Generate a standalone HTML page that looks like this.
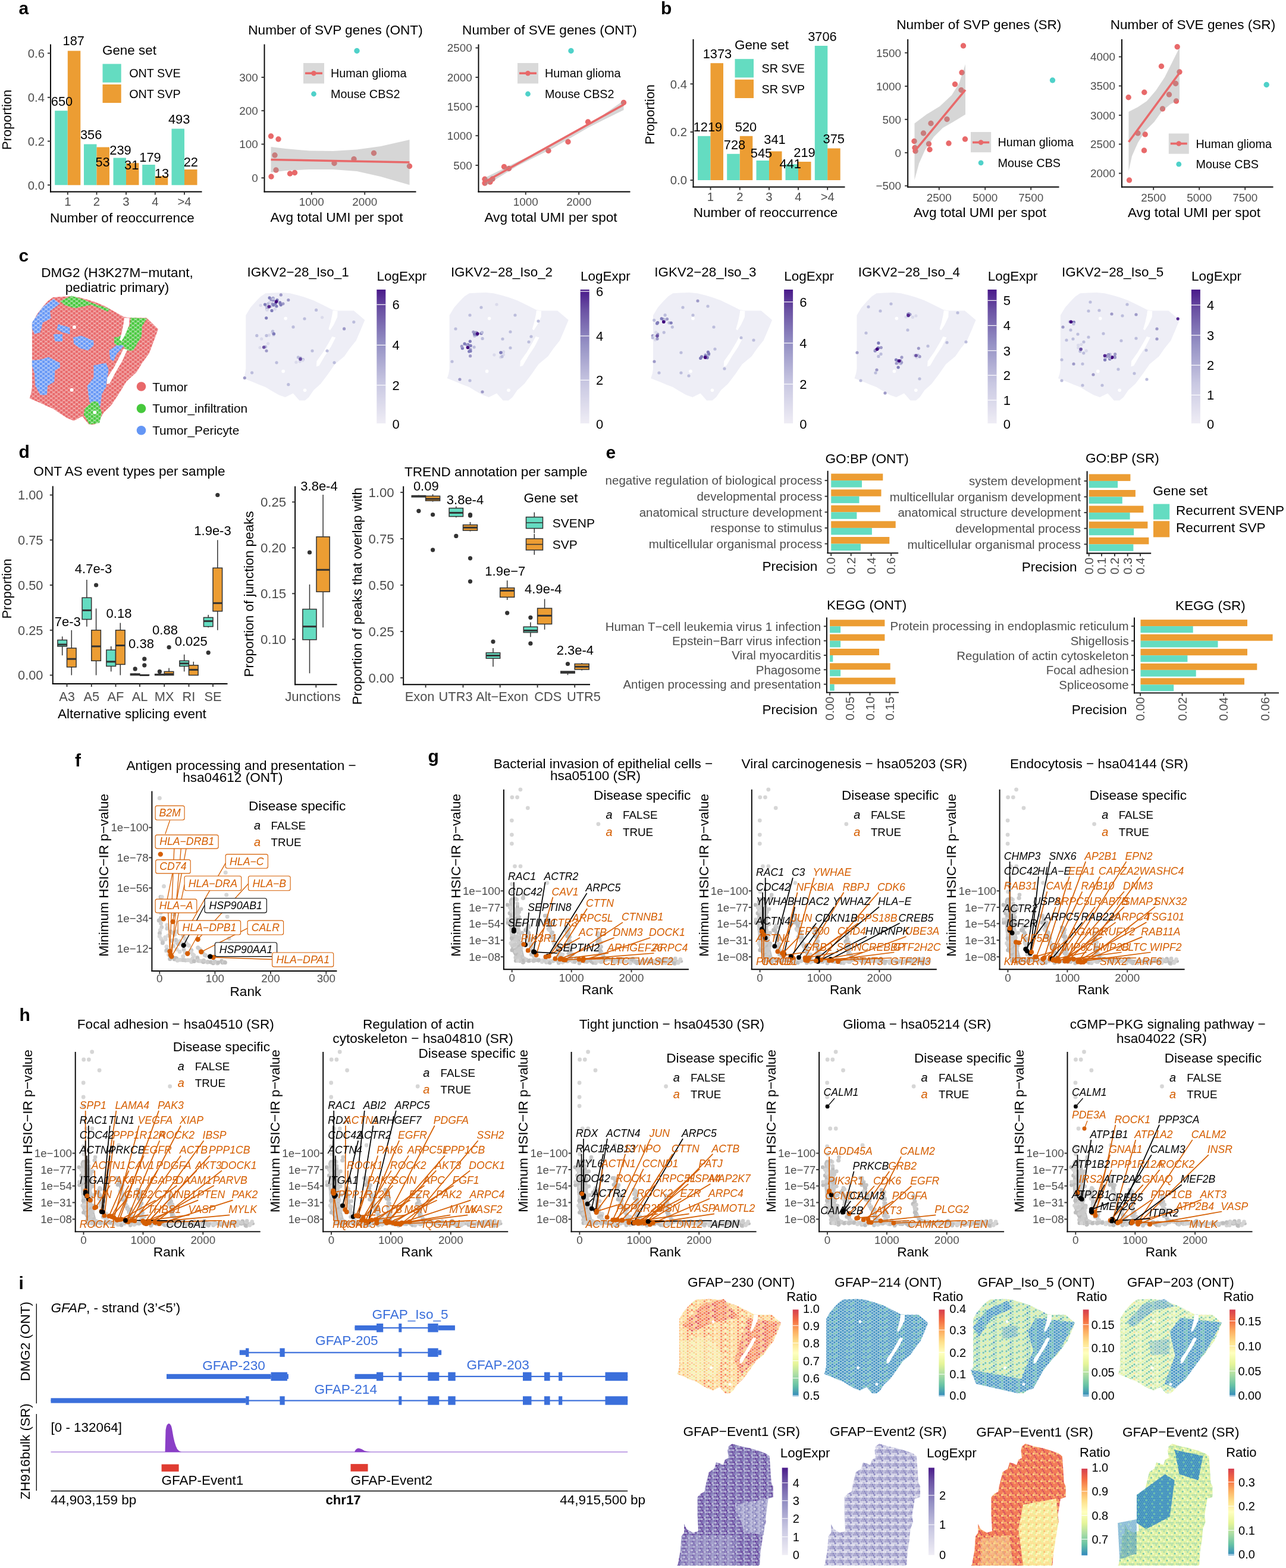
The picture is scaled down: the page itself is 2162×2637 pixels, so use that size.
<!DOCTYPE html><html><head><meta charset="utf-8"><title>Figure</title><style>html,body{margin:0;padding:0;background:#fff;}svg{display:block;}</style></head><body><svg width="2162" height="2637" viewBox="0 0 2162 2637" font-family="'Liberation Sans', Arial, Helvetica, sans-serif"><defs><pattern id="pR" width="8.600" height="6.800" patternUnits="userSpaceOnUse"><rect width="8.600" height="6.800" fill="#F3AEAE"/><circle cx="0.000" cy="0.000" r="2.35" fill="#E8686A"/><circle cx="8.600" cy="0.000" r="2.35" fill="#E8686A"/><circle cx="0.000" cy="6.800" r="2.35" fill="#E8686A"/><circle cx="8.600" cy="6.800" r="2.35" fill="#E8686A"/><circle cx="4.300" cy="3.400" r="2.35" fill="#E8686A"/></pattern><pattern id="pG" width="8.600" height="6.800" patternUnits="userSpaceOnUse"><rect width="8.600" height="6.800" fill="#A9E3A4"/><circle cx="0.000" cy="0.000" r="2.35" fill="#46C83C"/><circle cx="8.600" cy="0.000" r="2.35" fill="#46C83C"/><circle cx="0.000" cy="6.800" r="2.35" fill="#46C83C"/><circle cx="8.600" cy="6.800" r="2.35" fill="#46C83C"/><circle cx="4.300" cy="3.400" r="2.35" fill="#46C83C"/></pattern><pattern id="pB" width="8.600" height="6.800" patternUnits="userSpaceOnUse"><rect width="8.600" height="6.800" fill="#B5CCFA"/><circle cx="0.000" cy="0.000" r="2.35" fill="#6496F5"/><circle cx="8.600" cy="0.000" r="2.35" fill="#6496F5"/><circle cx="0.000" cy="6.800" r="2.35" fill="#6496F5"/><circle cx="8.600" cy="6.800" r="2.35" fill="#6496F5"/><circle cx="4.300" cy="3.400" r="2.35" fill="#6496F5"/></pattern><linearGradient id="gP" x1="0" y1="1" x2="0" y2="0"><stop offset="0" stop-color="#EFEDF5"/><stop offset="0.3" stop-color="#C9C8E2"/><stop offset="0.6" stop-color="#9490C4"/><stop offset="0.85" stop-color="#6A51A3"/><stop offset="1" stop-color="#4A1A8A"/></linearGradient><g id="srcloud"><path d="M14 186 L14 230 L17 268 L27 287" fill="none" stroke="#BEBEBE" stroke-width="9" stroke-linecap="round" stroke-linejoin="round"/><path d="M23 196 L25 255 L33 287" fill="none" stroke="#BEBEBE" stroke-width="6" stroke-linecap="round" stroke-linejoin="round"/><path d="M39 232 L45 265 L54 287" fill="none" stroke="#BEBEBE" stroke-width="5" stroke-linecap="round" stroke-linejoin="round"/><path d="M72 212 L84 258 L102 289" fill="none" stroke="#BEBEBE" stroke-width="5" stroke-linecap="round" stroke-linejoin="round"/><path d="M107 232 L110 262 L114 285" fill="none" stroke="#BEBEBE" stroke-width="4" stroke-linecap="round" stroke-linejoin="round"/><path d="M159 241 L162 268 L170 284 L190 288.5 L299 289" fill="none" stroke="#BEBEBE" stroke-width="5" stroke-linecap="round" stroke-linejoin="round"/><path d="M30 288 L165 288.5" fill="none" stroke="#BEBEBE" stroke-width="4" stroke-linecap="round" stroke-linejoin="round"/><circle cx="12.1" cy="188.4" r="3.3" fill="#BDBDBD"/><circle cx="15.1" cy="191.6" r="3.3" fill="#C4C4C4"/><circle cx="14.2" cy="188.9" r="3.3" fill="#CDCDCD"/><circle cx="10.1" cy="197.2" r="3.3" fill="#C4C4C4"/><circle cx="6.1" cy="194" r="3.3" fill="#BDBDBD"/><circle cx="10.4" cy="198.4" r="3.3" fill="#D4D4D4"/><circle cx="12.2" cy="198.8" r="3.3" fill="#D4D4D4"/><circle cx="16.7" cy="200.6" r="3.3" fill="#CDCDCD"/><circle cx="10" cy="208.1" r="3.3" fill="#BDBDBD"/><circle cx="16.9" cy="211.1" r="3.3" fill="#CDCDCD"/><circle cx="15.8" cy="206.6" r="3.3" fill="#BDBDBD"/><circle cx="18" cy="210" r="3.3" fill="#C4C4C4"/><circle cx="14.6" cy="209.7" r="3.3" fill="#BDBDBD"/><circle cx="11.8" cy="217.3" r="3.3" fill="#CDCDCD"/><circle cx="16.3" cy="218.1" r="3.3" fill="#CDCDCD"/><circle cx="18.2" cy="219.9" r="3.3" fill="#D4D4D4"/><circle cx="6.8" cy="224.1" r="3.3" fill="#BDBDBD"/><circle cx="6.6" cy="218.8" r="3.3" fill="#D4D4D4"/><circle cx="12.5" cy="228.6" r="3.3" fill="#C4C4C4"/><circle cx="15.8" cy="228" r="3.3" fill="#D4D4D4"/><circle cx="15.3" cy="226.7" r="3.3" fill="#D4D4D4"/><circle cx="22.5" cy="232.5" r="3.3" fill="#BDBDBD"/><circle cx="13.9" cy="234.8" r="3.3" fill="#C4C4C4"/><circle cx="18.5" cy="238.3" r="3.3" fill="#BDBDBD"/><circle cx="15.4" cy="238.7" r="3.3" fill="#BDBDBD"/><circle cx="13.7" cy="242.8" r="3.3" fill="#D4D4D4"/><circle cx="15" cy="244.7" r="3.3" fill="#CDCDCD"/><circle cx="13.3" cy="250.2" r="3.3" fill="#BDBDBD"/><circle cx="17.3" cy="254.5" r="3.3" fill="#D4D4D4"/><circle cx="17.9" cy="251.8" r="3.3" fill="#BDBDBD"/><circle cx="15.7" cy="256.6" r="3.3" fill="#D4D4D4"/><circle cx="16.3" cy="252.1" r="3.3" fill="#CDCDCD"/><circle cx="13.5" cy="250.2" r="3.3" fill="#BDBDBD"/><circle cx="21" cy="264.8" r="3.3" fill="#D4D4D4"/><circle cx="11.9" cy="258.6" r="3.3" fill="#D4D4D4"/><circle cx="14" cy="261.9" r="3.3" fill="#CDCDCD"/><circle cx="18.4" cy="267.4" r="3.3" fill="#D4D4D4"/><circle cx="18.2" cy="270.4" r="3.3" fill="#BDBDBD"/><circle cx="19.7" cy="272.3" r="3.3" fill="#CDCDCD"/><circle cx="13.8" cy="270.2" r="3.3" fill="#BDBDBD"/><circle cx="22.3" cy="268" r="3.3" fill="#C4C4C4"/><circle cx="26.1" cy="280.6" r="3.3" fill="#BDBDBD"/><circle cx="22.9" cy="279.4" r="3.3" fill="#BDBDBD"/><circle cx="22.3" cy="284.6" r="3.3" fill="#CDCDCD"/><circle cx="26.7" cy="282.8" r="3.3" fill="#CDCDCD"/><circle cx="20.3" cy="287.9" r="3.3" fill="#BDBDBD"/><circle cx="23.6" cy="288.1" r="3.3" fill="#D4D4D4"/><circle cx="22.8" cy="192.1" r="3.3" fill="#CDCDCD"/><circle cx="23.7" cy="204.3" r="3.3" fill="#D4D4D4"/><circle cx="21.8" cy="203.7" r="3.3" fill="#C4C4C4"/><circle cx="25.6" cy="205.8" r="3.3" fill="#D4D4D4"/><circle cx="25.5" cy="206.1" r="3.3" fill="#CDCDCD"/><circle cx="21.5" cy="204.7" r="3.3" fill="#CDCDCD"/><circle cx="25.7" cy="214.4" r="3.3" fill="#C4C4C4"/><circle cx="22" cy="213.4" r="3.3" fill="#D4D4D4"/><circle cx="23.6" cy="211" r="3.3" fill="#CDCDCD"/><circle cx="20.7" cy="217.9" r="3.3" fill="#BDBDBD"/><circle cx="21.2" cy="217.1" r="3.3" fill="#BDBDBD"/><circle cx="24.3" cy="217.5" r="3.3" fill="#BDBDBD"/><circle cx="24.1" cy="224.5" r="3.3" fill="#C4C4C4"/><circle cx="25.7" cy="227.6" r="3.3" fill="#CDCDCD"/><circle cx="18.5" cy="225.4" r="3.3" fill="#CDCDCD"/><circle cx="22.1" cy="232" r="3.3" fill="#BDBDBD"/><circle cx="18.6" cy="230.9" r="3.3" fill="#C4C4C4"/><circle cx="22.6" cy="234.2" r="3.3" fill="#C4C4C4"/><circle cx="24.7" cy="229.8" r="3.3" fill="#CDCDCD"/><circle cx="25.2" cy="237.3" r="3.3" fill="#CDCDCD"/><circle cx="25.9" cy="244.4" r="3.3" fill="#CDCDCD"/><circle cx="25.5" cy="245.2" r="3.3" fill="#C4C4C4"/><circle cx="20.1" cy="248.1" r="3.3" fill="#C4C4C4"/><circle cx="24" cy="246.2" r="3.3" fill="#D4D4D4"/><circle cx="26.4" cy="250.5" r="3.3" fill="#CDCDCD"/><circle cx="24.9" cy="255.2" r="3.3" fill="#BDBDBD"/><circle cx="20.4" cy="253.1" r="3.3" fill="#CDCDCD"/><circle cx="22.2" cy="260.8" r="3.3" fill="#CDCDCD"/><circle cx="28.8" cy="258.7" r="3.3" fill="#BDBDBD"/><circle cx="30.8" cy="258.7" r="3.3" fill="#C4C4C4"/><circle cx="25.8" cy="264.4" r="3.3" fill="#BDBDBD"/><circle cx="29.5" cy="267.2" r="3.3" fill="#D4D4D4"/><circle cx="27.9" cy="268.6" r="3.3" fill="#CDCDCD"/><circle cx="27.5" cy="273.2" r="3.3" fill="#BDBDBD"/><circle cx="27.4" cy="276.3" r="3.3" fill="#CDCDCD"/><circle cx="27.2" cy="273.7" r="3.3" fill="#C4C4C4"/><circle cx="28.3" cy="274.7" r="3.3" fill="#CDCDCD"/><circle cx="29.8" cy="280.2" r="3.3" fill="#D4D4D4"/><circle cx="31" cy="281.1" r="3.3" fill="#C4C4C4"/><circle cx="34.4" cy="284.2" r="3.3" fill="#CDCDCD"/><circle cx="33.3" cy="290.1" r="3.3" fill="#D4D4D4"/><circle cx="42.6" cy="231.1" r="3.3" fill="#CDCDCD"/><circle cx="40.9" cy="228.8" r="3.3" fill="#CDCDCD"/><circle cx="36.7" cy="236" r="3.3" fill="#CDCDCD"/><circle cx="36.7" cy="236.8" r="3.3" fill="#BDBDBD"/><circle cx="41.7" cy="240.8" r="3.3" fill="#C4C4C4"/><circle cx="42.2" cy="243.1" r="3.3" fill="#BDBDBD"/><circle cx="40" cy="246.7" r="3.3" fill="#CDCDCD"/><circle cx="39.5" cy="246.7" r="3.3" fill="#D4D4D4"/><circle cx="47.6" cy="251.1" r="3.3" fill="#CDCDCD"/><circle cx="43" cy="252.8" r="3.3" fill="#C4C4C4"/><circle cx="42.5" cy="257.5" r="3.3" fill="#C4C4C4"/><circle cx="42.9" cy="259.4" r="3.3" fill="#D4D4D4"/><circle cx="44.1" cy="258.5" r="3.3" fill="#D4D4D4"/><circle cx="46" cy="264.1" r="3.3" fill="#C4C4C4"/><circle cx="46.6" cy="260.8" r="3.3" fill="#CDCDCD"/><circle cx="47.2" cy="260.2" r="3.3" fill="#CDCDCD"/><circle cx="44.8" cy="268.8" r="3.3" fill="#BDBDBD"/><circle cx="47.1" cy="270.9" r="3.3" fill="#D4D4D4"/><circle cx="46" cy="268.4" r="3.3" fill="#CDCDCD"/><circle cx="51.9" cy="272.4" r="3.3" fill="#D4D4D4"/><circle cx="46.4" cy="277.5" r="3.3" fill="#C4C4C4"/><circle cx="50.5" cy="276.5" r="3.3" fill="#BDBDBD"/><circle cx="50.5" cy="280.3" r="3.3" fill="#CDCDCD"/><circle cx="52" cy="283.6" r="3.3" fill="#CDCDCD"/><circle cx="53.3" cy="283.1" r="3.3" fill="#D4D4D4"/><circle cx="58.8" cy="286.1" r="3.3" fill="#CDCDCD"/><circle cx="72.1" cy="212.1" r="3.3" fill="#CDCDCD"/><circle cx="69.2" cy="212.2" r="3.3" fill="#C4C4C4"/><circle cx="74.6" cy="219.7" r="3.3" fill="#C4C4C4"/><circle cx="75.1" cy="218.8" r="3.3" fill="#CDCDCD"/><circle cx="74" cy="220.6" r="3.3" fill="#BDBDBD"/><circle cx="71.2" cy="223.6" r="3.3" fill="#BDBDBD"/><circle cx="79.4" cy="224.1" r="3.3" fill="#C4C4C4"/><circle cx="77.7" cy="229.1" r="3.3" fill="#BDBDBD"/><circle cx="77.3" cy="233.9" r="3.3" fill="#BDBDBD"/><circle cx="75.2" cy="234.4" r="3.3" fill="#CDCDCD"/><circle cx="78.1" cy="236.8" r="3.3" fill="#CDCDCD"/><circle cx="76.2" cy="236.1" r="3.3" fill="#D4D4D4"/><circle cx="81.6" cy="241" r="3.3" fill="#D4D4D4"/><circle cx="81.9" cy="240.6" r="3.3" fill="#C4C4C4"/><circle cx="78.3" cy="248.2" r="3.3" fill="#BDBDBD"/><circle cx="80.1" cy="244.6" r="3.3" fill="#C4C4C4"/><circle cx="84" cy="246.1" r="3.3" fill="#D4D4D4"/><circle cx="84.6" cy="250.3" r="3.3" fill="#C4C4C4"/><circle cx="83.2" cy="254.3" r="3.3" fill="#C4C4C4"/><circle cx="84.3" cy="256.4" r="3.3" fill="#BDBDBD"/><circle cx="82.8" cy="254.2" r="3.3" fill="#D4D4D4"/><circle cx="84.7" cy="259.5" r="3.3" fill="#D4D4D4"/><circle cx="87.6" cy="260.2" r="3.3" fill="#D4D4D4"/><circle cx="87.3" cy="263.4" r="3.3" fill="#BDBDBD"/><circle cx="88.1" cy="264.3" r="3.3" fill="#CDCDCD"/><circle cx="93.3" cy="264.9" r="3.3" fill="#C4C4C4"/><circle cx="90.2" cy="269.8" r="3.3" fill="#BDBDBD"/><circle cx="91.7" cy="270.7" r="3.3" fill="#D4D4D4"/><circle cx="92.9" cy="274.4" r="3.3" fill="#CDCDCD"/><circle cx="93.3" cy="279.6" r="3.3" fill="#C4C4C4"/><circle cx="93.2" cy="274.5" r="3.3" fill="#BDBDBD"/><circle cx="95.3" cy="277.5" r="3.3" fill="#D4D4D4"/><circle cx="98.9" cy="277.3" r="3.3" fill="#D4D4D4"/><circle cx="95.2" cy="282.2" r="3.3" fill="#BDBDBD"/><circle cx="97.2" cy="286.1" r="3.3" fill="#C4C4C4"/><circle cx="99.1" cy="284.5" r="3.3" fill="#C4C4C4"/><circle cx="100.8" cy="288.9" r="3.3" fill="#C4C4C4"/><circle cx="104.7" cy="232.1" r="3.3" fill="#BDBDBD"/><circle cx="108.1" cy="234.4" r="3.3" fill="#CDCDCD"/><circle cx="109.6" cy="235.7" r="3.3" fill="#CDCDCD"/><circle cx="107.4" cy="239.6" r="3.3" fill="#BDBDBD"/><circle cx="108.4" cy="240.7" r="3.3" fill="#C4C4C4"/><circle cx="105.3" cy="239" r="3.3" fill="#CDCDCD"/><circle cx="110.4" cy="246.6" r="3.3" fill="#D4D4D4"/><circle cx="110.1" cy="248.1" r="3.3" fill="#CDCDCD"/><circle cx="110.7" cy="247.9" r="3.3" fill="#C4C4C4"/><circle cx="106.7" cy="246.8" r="3.3" fill="#BDBDBD"/><circle cx="109.1" cy="254.4" r="3.3" fill="#D4D4D4"/><circle cx="111.3" cy="254.9" r="3.3" fill="#C4C4C4"/><circle cx="109.1" cy="260.3" r="3.3" fill="#C4C4C4"/><circle cx="109.7" cy="264.2" r="3.3" fill="#D4D4D4"/><circle cx="110.4" cy="269.6" r="3.3" fill="#C4C4C4"/><circle cx="111.6" cy="267.6" r="3.3" fill="#D4D4D4"/><circle cx="113.4" cy="270.7" r="3.3" fill="#D4D4D4"/><circle cx="112.2" cy="269.5" r="3.3" fill="#C4C4C4"/><circle cx="108.9" cy="275.4" r="3.3" fill="#C4C4C4"/><circle cx="111.2" cy="274.4" r="3.3" fill="#C4C4C4"/><circle cx="115.9" cy="277.2" r="3.3" fill="#CDCDCD"/><circle cx="112.3" cy="281.4" r="3.3" fill="#C4C4C4"/><circle cx="110.8" cy="281.7" r="3.3" fill="#CDCDCD"/><circle cx="112.8" cy="284.2" r="3.3" fill="#BDBDBD"/><circle cx="159.6" cy="243.2" r="3.3" fill="#BDBDBD"/><circle cx="159.3" cy="246.2" r="3.3" fill="#BDBDBD"/><circle cx="161.1" cy="243.6" r="3.3" fill="#D4D4D4"/><circle cx="161" cy="251.5" r="3.3" fill="#C4C4C4"/><circle cx="157.6" cy="256" r="3.3" fill="#CDCDCD"/><circle cx="160.8" cy="255.3" r="3.3" fill="#C4C4C4"/><circle cx="158.2" cy="255.2" r="3.3" fill="#BDBDBD"/><circle cx="163.3" cy="256.9" r="3.3" fill="#CDCDCD"/><circle cx="159.9" cy="258.6" r="3.3" fill="#CDCDCD"/><circle cx="163.6" cy="264.4" r="3.3" fill="#C4C4C4"/><circle cx="160.6" cy="261.4" r="3.3" fill="#CDCDCD"/><circle cx="161.1" cy="264.8" r="3.3" fill="#CDCDCD"/><circle cx="163.2" cy="272.2" r="3.3" fill="#BDBDBD"/><circle cx="160.9" cy="270" r="3.3" fill="#BDBDBD"/><circle cx="162.9" cy="272.6" r="3.3" fill="#BDBDBD"/><circle cx="164.4" cy="275.5" r="3.3" fill="#D4D4D4"/><circle cx="162.3" cy="275.9" r="3.3" fill="#BDBDBD"/><circle cx="167" cy="278.7" r="3.3" fill="#D4D4D4"/><circle cx="167.1" cy="279.6" r="3.3" fill="#CDCDCD"/><circle cx="168.4" cy="282.6" r="3.3" fill="#BDBDBD"/><circle cx="168.8" cy="287" r="3.3" fill="#BDBDBD"/><circle cx="171.8" cy="286.5" r="3.3" fill="#CDCDCD"/><circle cx="171.4" cy="283.9" r="3.3" fill="#C4C4C4"/><circle cx="176.8" cy="284.5" r="3.3" fill="#CDCDCD"/><circle cx="178.3" cy="285.8" r="3.3" fill="#D4D4D4"/><circle cx="182.9" cy="285.2" r="3.3" fill="#D4D4D4"/><circle cx="182.8" cy="286.5" r="3.3" fill="#BDBDBD"/><circle cx="183.6" cy="285.7" r="3.3" fill="#D4D4D4"/><circle cx="185" cy="289.1" r="3.3" fill="#BDBDBD"/><circle cx="187.5" cy="290.4" r="3.3" fill="#CDCDCD"/><circle cx="192.9" cy="286.7" r="3.3" fill="#BDBDBD"/><circle cx="195.2" cy="289.4" r="3.3" fill="#CDCDCD"/><circle cx="196.5" cy="287.4" r="3.3" fill="#C4C4C4"/><circle cx="198.4" cy="289.5" r="3.3" fill="#D4D4D4"/><circle cx="202.9" cy="288.6" r="3.3" fill="#CDCDCD"/><circle cx="200.4" cy="286.9" r="3.3" fill="#D4D4D4"/><circle cx="200.3" cy="284.9" r="3.3" fill="#CDCDCD"/><circle cx="209.1" cy="288.5" r="3.3" fill="#C4C4C4"/><circle cx="210.4" cy="287.9" r="3.3" fill="#D4D4D4"/><circle cx="214.9" cy="285.9" r="3.3" fill="#BDBDBD"/><circle cx="213.1" cy="291.9" r="3.3" fill="#D4D4D4"/><circle cx="217" cy="284.4" r="3.3" fill="#BDBDBD"/><circle cx="220.9" cy="289.1" r="3.3" fill="#BDBDBD"/><circle cx="220.4" cy="290.3" r="3.3" fill="#CDCDCD"/><circle cx="221.6" cy="288.5" r="3.3" fill="#C4C4C4"/><circle cx="223.8" cy="292.1" r="3.3" fill="#C4C4C4"/><circle cx="231.9" cy="291.8" r="3.3" fill="#CDCDCD"/><circle cx="231.9" cy="289.1" r="3.3" fill="#CDCDCD"/><circle cx="230.8" cy="288.8" r="3.3" fill="#D4D4D4"/><circle cx="235" cy="287.6" r="3.3" fill="#CDCDCD"/><circle cx="235.4" cy="288.7" r="3.3" fill="#CDCDCD"/><circle cx="234.5" cy="289.8" r="3.3" fill="#D4D4D4"/><circle cx="242.9" cy="287.4" r="3.3" fill="#CDCDCD"/><circle cx="244.8" cy="291" r="3.3" fill="#BDBDBD"/><circle cx="248.6" cy="288.6" r="3.3" fill="#C4C4C4"/><circle cx="246.5" cy="288.6" r="3.3" fill="#CDCDCD"/><circle cx="250.8" cy="288.9" r="3.3" fill="#C4C4C4"/><circle cx="251.5" cy="288.4" r="3.3" fill="#C4C4C4"/><circle cx="254.5" cy="291.3" r="3.3" fill="#C4C4C4"/><circle cx="252.9" cy="289.6" r="3.3" fill="#D4D4D4"/><circle cx="261.7" cy="288.9" r="3.3" fill="#D4D4D4"/><circle cx="259.3" cy="288" r="3.3" fill="#CDCDCD"/><circle cx="261.7" cy="287.8" r="3.3" fill="#BDBDBD"/><circle cx="267.8" cy="291.9" r="3.3" fill="#D4D4D4"/><circle cx="267.8" cy="286.6" r="3.3" fill="#BDBDBD"/><circle cx="269.4" cy="288.5" r="3.3" fill="#C4C4C4"/><circle cx="273.4" cy="285.4" r="3.3" fill="#CDCDCD"/><circle cx="272.6" cy="291.8" r="3.3" fill="#D4D4D4"/><circle cx="274.7" cy="286.3" r="3.3" fill="#D4D4D4"/><circle cx="281" cy="284.7" r="3.3" fill="#BDBDBD"/><circle cx="279" cy="288.9" r="3.3" fill="#BDBDBD"/><circle cx="279.4" cy="287.4" r="3.3" fill="#CDCDCD"/><circle cx="287.5" cy="292.9" r="3.3" fill="#CDCDCD"/><circle cx="287.5" cy="286.2" r="3.3" fill="#D4D4D4"/><circle cx="286.1" cy="292" r="3.3" fill="#BDBDBD"/><circle cx="288.5" cy="284.2" r="3.3" fill="#CDCDCD"/><circle cx="293.2" cy="291.6" r="3.3" fill="#D4D4D4"/><circle cx="294.8" cy="289.1" r="3.3" fill="#D4D4D4"/><circle cx="297" cy="285.6" r="3.3" fill="#D4D4D4"/><circle cx="32.3" cy="290.6" r="3.3" fill="#BDBDBD"/><circle cx="30.8" cy="288.2" r="3.3" fill="#CDCDCD"/><circle cx="33" cy="287.4" r="3.3" fill="#BDBDBD"/><circle cx="38.1" cy="285.9" r="3.3" fill="#CDCDCD"/><circle cx="43.9" cy="287.2" r="3.3" fill="#C4C4C4"/><circle cx="41.3" cy="288.3" r="3.3" fill="#CDCDCD"/><circle cx="42.6" cy="288.2" r="3.3" fill="#BDBDBD"/><circle cx="47.8" cy="287" r="3.3" fill="#D4D4D4"/><circle cx="50" cy="288.5" r="3.3" fill="#C4C4C4"/><circle cx="51.7" cy="287.4" r="3.3" fill="#C4C4C4"/><circle cx="54.9" cy="287" r="3.3" fill="#CDCDCD"/><circle cx="52.4" cy="287.3" r="3.3" fill="#C4C4C4"/><circle cx="58.3" cy="287.4" r="3.3" fill="#CDCDCD"/><circle cx="58.8" cy="287.5" r="3.3" fill="#BDBDBD"/><circle cx="65.2" cy="287.2" r="3.3" fill="#D4D4D4"/><circle cx="64.3" cy="289.9" r="3.3" fill="#D4D4D4"/><circle cx="71.2" cy="287.4" r="3.3" fill="#BDBDBD"/><circle cx="68.8" cy="287.6" r="3.3" fill="#CDCDCD"/><circle cx="71.4" cy="290.7" r="3.3" fill="#CDCDCD"/><circle cx="73.8" cy="290.3" r="3.3" fill="#CDCDCD"/><circle cx="77.5" cy="288.3" r="3.3" fill="#D4D4D4"/><circle cx="74.1" cy="288.7" r="3.3" fill="#D4D4D4"/><circle cx="77.5" cy="291.5" r="3.3" fill="#BDBDBD"/><circle cx="82" cy="288.5" r="3.3" fill="#D4D4D4"/><circle cx="83.1" cy="288.5" r="3.3" fill="#CDCDCD"/><circle cx="89.8" cy="287.2" r="3.3" fill="#D4D4D4"/><circle cx="89.8" cy="287.7" r="3.3" fill="#CDCDCD"/><circle cx="93.8" cy="285.3" r="3.3" fill="#BDBDBD"/><circle cx="92.4" cy="291.6" r="3.3" fill="#C4C4C4"/><circle cx="94.5" cy="289.1" r="3.3" fill="#CDCDCD"/><circle cx="96.7" cy="286.7" r="3.3" fill="#BDBDBD"/><circle cx="98.9" cy="290.8" r="3.3" fill="#D4D4D4"/><circle cx="101.7" cy="288" r="3.3" fill="#CDCDCD"/><circle cx="106.4" cy="288.7" r="3.3" fill="#C4C4C4"/><circle cx="107.1" cy="288.8" r="3.3" fill="#C4C4C4"/><circle cx="112.8" cy="286.4" r="3.3" fill="#CDCDCD"/><circle cx="109.8" cy="284.2" r="3.3" fill="#C4C4C4"/><circle cx="111.4" cy="284.3" r="3.3" fill="#CDCDCD"/><circle cx="117" cy="288.4" r="3.3" fill="#BDBDBD"/><circle cx="116.3" cy="289.6" r="3.3" fill="#D4D4D4"/><circle cx="119.4" cy="290" r="3.3" fill="#C4C4C4"/><circle cx="121.7" cy="283.8" r="3.3" fill="#C4C4C4"/><circle cx="125.7" cy="287.5" r="3.3" fill="#C4C4C4"/><circle cx="125.2" cy="287.5" r="3.3" fill="#CDCDCD"/><circle cx="127" cy="292.2" r="3.3" fill="#C4C4C4"/><circle cx="129.9" cy="288.2" r="3.3" fill="#CDCDCD"/><circle cx="129.6" cy="288.8" r="3.3" fill="#C4C4C4"/><circle cx="134.7" cy="287.6" r="3.3" fill="#C4C4C4"/><circle cx="136.1" cy="289.5" r="3.3" fill="#C4C4C4"/><circle cx="139.8" cy="289.8" r="3.3" fill="#C4C4C4"/><circle cx="143" cy="286.4" r="3.3" fill="#C4C4C4"/><circle cx="144.6" cy="286.6" r="3.3" fill="#C4C4C4"/><circle cx="146.3" cy="288.2" r="3.3" fill="#BDBDBD"/><circle cx="147.7" cy="289.5" r="3.3" fill="#BDBDBD"/><circle cx="150.3" cy="291.5" r="3.3" fill="#BDBDBD"/><circle cx="154.5" cy="291.9" r="3.3" fill="#CDCDCD"/><circle cx="151.7" cy="286.6" r="3.3" fill="#D4D4D4"/><circle cx="157.9" cy="288.6" r="3.3" fill="#D4D4D4"/><circle cx="164.9" cy="289.6" r="3.3" fill="#C4C4C4"/><circle cx="161" cy="288.6" r="3.3" fill="#D4D4D4"/><circle cx="163.5" cy="290.2" r="3.3" fill="#CDCDCD"/><circle cx="28" cy="0" r="3.4" fill="#D6D6D6"/><circle cx="14" cy="13" r="3.4" fill="#D6D6D6"/><circle cx="22.7" cy="13" r="3.4" fill="#D6D6D6"/><circle cx="40.4" cy="31" r="3.4" fill="#D6D6D6"/><circle cx="13.5" cy="52" r="3.4" fill="#D6D6D6"/><circle cx="13.5" cy="76" r="3.4" fill="#D6D6D6"/><circle cx="13.5" cy="91" r="3.4" fill="#D6D6D6"/><circle cx="159" cy="58" r="3.4" fill="#D6D6D6"/><circle cx="18.6" cy="129" r="3.4" fill="#D6D6D6"/><circle cx="28.1" cy="129" r="3.4" fill="#D6D6D6"/><circle cx="13.5" cy="159" r="3.4" fill="#D6D6D6"/><circle cx="73" cy="157" r="3.4" fill="#D6D6D6"/><circle cx="14" cy="172" r="3.4" fill="#D6D6D6"/><circle cx="16" cy="190" r="3.4" fill="#D6D6D6"/><circle cx="13.5" cy="205" r="3.4" fill="#D6D6D6"/><circle cx="22" cy="185" r="3.4" fill="#D6D6D6"/><circle cx="22.8" cy="231.4" r="3.3" fill="#CACACA"/><circle cx="19.4" cy="183.4" r="3.3" fill="#CACACA"/><circle cx="16" cy="209.2" r="3.3" fill="#CACACA"/><circle cx="30.9" cy="240.9" r="3.3" fill="#CACACA"/><circle cx="26.7" cy="248.9" r="3.3" fill="#CACACA"/><circle cx="13" cy="235.7" r="3.3" fill="#CACACA"/><circle cx="29.2" cy="200.9" r="3.3" fill="#CACACA"/><circle cx="22.7" cy="204.7" r="3.3" fill="#CACACA"/><circle cx="24.7" cy="257" r="3.3" fill="#CACACA"/><circle cx="14.8" cy="193" r="3.3" fill="#CACACA"/><circle cx="30.5" cy="262.1" r="3.3" fill="#CACACA"/><circle cx="16.2" cy="189.3" r="3.3" fill="#CACACA"/><circle cx="26.4" cy="267.7" r="3.3" fill="#CACACA"/><circle cx="25.5" cy="279.5" r="3.3" fill="#CACACA"/><circle cx="18.1" cy="261.2" r="3.3" fill="#CACACA"/><circle cx="16.8" cy="231.9" r="3.3" fill="#CACACA"/><circle cx="33.4" cy="177" r="3.3" fill="#CACACA"/><circle cx="26.2" cy="249.6" r="3.3" fill="#CACACA"/><circle cx="22.4" cy="204.8" r="3.3" fill="#CACACA"/><circle cx="25.3" cy="202.9" r="3.3" fill="#CACACA"/><circle cx="22.1" cy="236.6" r="3.3" fill="#CACACA"/><circle cx="29.2" cy="226.1" r="3.3" fill="#CACACA"/><circle cx="19.9" cy="282.6" r="3.3" fill="#CACACA"/><circle cx="23" cy="202" r="3.3" fill="#CACACA"/><circle cx="23.8" cy="270.5" r="3.3" fill="#CACACA"/><circle cx="32.2" cy="182.5" r="3.3" fill="#CACACA"/><circle cx="32.8" cy="182.7" r="3.3" fill="#CACACA"/><circle cx="25.9" cy="272.2" r="3.3" fill="#CACACA"/><circle cx="24.1" cy="232.6" r="3.3" fill="#CACACA"/><circle cx="21.6" cy="247.5" r="3.3" fill="#CACACA"/></g><linearGradient id="gS" x1="0" y1="1" x2="0" y2="0"><stop offset="0.000" stop-color="#3288BD"/><stop offset="0.125" stop-color="#66C2A5"/><stop offset="0.250" stop-color="#ABDDA4"/><stop offset="0.375" stop-color="#E6F598"/><stop offset="0.500" stop-color="#FFFFBF"/><stop offset="0.625" stop-color="#FEE08B"/><stop offset="0.750" stop-color="#FDAE61"/><stop offset="0.875" stop-color="#F46D43"/><stop offset="1.000" stop-color="#D53E4F"/></linearGradient><pattern id="m230" width="28.200" height="9.880" patternUnits="userSpaceOnUse"><rect width="28.200" height="9.880" fill="#FCE7C6"/><circle cx="0.00" cy="0.00" r="1.5" fill="#F46D43"/><circle cx="7.05" cy="0.00" r="1.5" fill="#F46D43"/><circle cx="14.10" cy="0.00" r="1.5" fill="#FDAE61"/><circle cx="21.15" cy="0.00" r="1.5" fill="#FDAE61"/><circle cx="28.20" cy="0.00" r="1.5" fill="#F46D43"/><circle cx="-3.52" cy="2.47" r="1.5" fill="#FEE08B"/><circle cx="3.52" cy="2.47" r="1.5" fill="#FDAE61"/><circle cx="10.57" cy="2.47" r="1.5" fill="#FDAE61"/><circle cx="17.62" cy="2.47" r="1.5" fill="#FEE08B"/><circle cx="24.67" cy="2.47" r="1.5" fill="#FEE08B"/><circle cx="31.72" cy="2.47" r="1.5" fill="#FDAE61"/><circle cx="0.00" cy="4.94" r="1.5" fill="#F46D43"/><circle cx="7.05" cy="4.94" r="1.5" fill="#FFFFBF"/><circle cx="14.10" cy="4.94" r="1.5" fill="#FDAE61"/><circle cx="21.15" cy="4.94" r="1.5" fill="#FEE08B"/><circle cx="28.20" cy="4.94" r="1.5" fill="#F46D43"/><circle cx="-3.52" cy="7.41" r="1.5" fill="#FEE08B"/><circle cx="3.52" cy="7.41" r="1.5" fill="#FEE08B"/><circle cx="10.57" cy="7.41" r="1.5" fill="#E6F598"/><circle cx="17.62" cy="7.41" r="1.5" fill="#FFFFBF"/><circle cx="24.67" cy="7.41" r="1.5" fill="#FEE08B"/><circle cx="31.72" cy="7.41" r="1.5" fill="#FEE08B"/><circle cx="0.00" cy="9.88" r="1.5" fill="#F46D43"/><circle cx="7.05" cy="9.88" r="1.5" fill="#F46D43"/><circle cx="14.10" cy="9.88" r="1.5" fill="#FDAE61"/><circle cx="21.15" cy="9.88" r="1.5" fill="#FDAE61"/><circle cx="28.20" cy="9.88" r="1.5" fill="#F46D43"/></pattern><pattern id="m230r" width="28.200" height="9.880" patternUnits="userSpaceOnUse"><rect width="28.200" height="9.880" fill="#F9C9B3"/><circle cx="0.00" cy="0.00" r="1.5" fill="#FDAE61"/><circle cx="7.05" cy="0.00" r="1.5" fill="#FDAE61"/><circle cx="14.10" cy="0.00" r="1.5" fill="#D53E4F"/><circle cx="21.15" cy="0.00" r="1.5" fill="#F46D43"/><circle cx="28.20" cy="0.00" r="1.5" fill="#FDAE61"/><circle cx="-3.52" cy="2.47" r="1.5" fill="#FDAE61"/><circle cx="3.52" cy="2.47" r="1.5" fill="#F46D43"/><circle cx="10.57" cy="2.47" r="1.5" fill="#FDAE61"/><circle cx="17.62" cy="2.47" r="1.5" fill="#D53E4F"/><circle cx="24.67" cy="2.47" r="1.5" fill="#FDAE61"/><circle cx="31.72" cy="2.47" r="1.5" fill="#F46D43"/><circle cx="0.00" cy="4.94" r="1.5" fill="#F46D43"/><circle cx="7.05" cy="4.94" r="1.5" fill="#D53E4F"/><circle cx="14.10" cy="4.94" r="1.5" fill="#FEE08B"/><circle cx="21.15" cy="4.94" r="1.5" fill="#F46D43"/><circle cx="28.20" cy="4.94" r="1.5" fill="#F46D43"/><circle cx="-3.52" cy="7.41" r="1.5" fill="#F46D43"/><circle cx="3.52" cy="7.41" r="1.5" fill="#F46D43"/><circle cx="10.57" cy="7.41" r="1.5" fill="#FEE08B"/><circle cx="17.62" cy="7.41" r="1.5" fill="#F46D43"/><circle cx="24.67" cy="7.41" r="1.5" fill="#F46D43"/><circle cx="31.72" cy="7.41" r="1.5" fill="#F46D43"/><circle cx="0.00" cy="9.88" r="1.5" fill="#FDAE61"/><circle cx="7.05" cy="9.88" r="1.5" fill="#FDAE61"/><circle cx="14.10" cy="9.88" r="1.5" fill="#D53E4F"/><circle cx="21.15" cy="9.88" r="1.5" fill="#F46D43"/><circle cx="28.20" cy="9.88" r="1.5" fill="#FDAE61"/></pattern><pattern id="m230y" width="28.200" height="9.880" patternUnits="userSpaceOnUse"><rect width="28.200" height="9.880" fill="#FBF5D2"/><circle cx="0.00" cy="0.00" r="1.5" fill="#FEE08B"/><circle cx="7.05" cy="0.00" r="1.5" fill="#FFFFBF"/><circle cx="14.10" cy="0.00" r="1.5" fill="#FFFFBF"/><circle cx="21.15" cy="0.00" r="1.5" fill="#E6F598"/><circle cx="28.20" cy="0.00" r="1.5" fill="#FEE08B"/><circle cx="-3.52" cy="2.47" r="1.5" fill="#E6F598"/><circle cx="3.52" cy="2.47" r="1.5" fill="#FEE08B"/><circle cx="10.57" cy="2.47" r="1.5" fill="#E6F598"/><circle cx="17.62" cy="2.47" r="1.5" fill="#FFFFBF"/><circle cx="24.67" cy="2.47" r="1.5" fill="#E6F598"/><circle cx="31.72" cy="2.47" r="1.5" fill="#FEE08B"/><circle cx="0.00" cy="4.94" r="1.5" fill="#E6F598"/><circle cx="7.05" cy="4.94" r="1.5" fill="#E6F598"/><circle cx="14.10" cy="4.94" r="1.5" fill="#FEE08B"/><circle cx="21.15" cy="4.94" r="1.5" fill="#FEE08B"/><circle cx="28.20" cy="4.94" r="1.5" fill="#E6F598"/><circle cx="-3.52" cy="7.41" r="1.5" fill="#FFFFBF"/><circle cx="3.52" cy="7.41" r="1.5" fill="#FEE08B"/><circle cx="10.57" cy="7.41" r="1.5" fill="#FFFFBF"/><circle cx="17.62" cy="7.41" r="1.5" fill="#E6F598"/><circle cx="24.67" cy="7.41" r="1.5" fill="#FFFFBF"/><circle cx="31.72" cy="7.41" r="1.5" fill="#FEE08B"/><circle cx="0.00" cy="9.88" r="1.5" fill="#FEE08B"/><circle cx="7.05" cy="9.88" r="1.5" fill="#FFFFBF"/><circle cx="14.10" cy="9.88" r="1.5" fill="#FFFFBF"/><circle cx="21.15" cy="9.88" r="1.5" fill="#E6F598"/><circle cx="28.20" cy="9.88" r="1.5" fill="#FEE08B"/></pattern><pattern id="m214" width="28.200" height="9.880" patternUnits="userSpaceOnUse"><rect width="28.200" height="9.880" fill="#A5CCE0"/><circle cx="0.00" cy="0.00" r="1.5" fill="#3288BD"/><circle cx="7.05" cy="0.00" r="1.5" fill="#3288BD"/><circle cx="14.10" cy="0.00" r="1.5" fill="#66C2A5"/><circle cx="21.15" cy="0.00" r="1.5" fill="#66C2A5"/><circle cx="28.20" cy="0.00" r="1.5" fill="#3288BD"/><circle cx="-3.52" cy="2.47" r="1.5" fill="#3288BD"/><circle cx="3.52" cy="2.47" r="1.5" fill="#3288BD"/><circle cx="10.57" cy="2.47" r="1.5" fill="#3288BD"/><circle cx="17.62" cy="2.47" r="1.5" fill="#3288BD"/><circle cx="24.67" cy="2.47" r="1.5" fill="#3288BD"/><circle cx="31.72" cy="2.47" r="1.5" fill="#3288BD"/><circle cx="0.00" cy="4.94" r="1.5" fill="#3288BD"/><circle cx="7.05" cy="4.94" r="1.5" fill="#3288BD"/><circle cx="14.10" cy="4.94" r="1.5" fill="#3288BD"/><circle cx="21.15" cy="4.94" r="1.5" fill="#3288BD"/><circle cx="28.20" cy="4.94" r="1.5" fill="#3288BD"/><circle cx="-3.52" cy="7.41" r="1.5" fill="#66C2A5"/><circle cx="3.52" cy="7.41" r="1.5" fill="#3288BD"/><circle cx="10.57" cy="7.41" r="1.5" fill="#3288BD"/><circle cx="17.62" cy="7.41" r="1.5" fill="#3288BD"/><circle cx="24.67" cy="7.41" r="1.5" fill="#66C2A5"/><circle cx="31.72" cy="7.41" r="1.5" fill="#3288BD"/><circle cx="0.00" cy="9.88" r="1.5" fill="#3288BD"/><circle cx="7.05" cy="9.88" r="1.5" fill="#3288BD"/><circle cx="14.10" cy="9.88" r="1.5" fill="#66C2A5"/><circle cx="21.15" cy="9.88" r="1.5" fill="#66C2A5"/><circle cx="28.20" cy="9.88" r="1.5" fill="#3288BD"/></pattern><pattern id="miso" width="28.200" height="9.880" patternUnits="userSpaceOnUse"><rect width="28.200" height="9.880" fill="#D8EDD7"/><circle cx="0.00" cy="0.00" r="1.5" fill="#66C2A5"/><circle cx="7.05" cy="0.00" r="1.5" fill="#ABDDA4"/><circle cx="14.10" cy="0.00" r="1.5" fill="#E6F598"/><circle cx="21.15" cy="0.00" r="1.5" fill="#66C2A5"/><circle cx="28.20" cy="0.00" r="1.5" fill="#66C2A5"/><circle cx="-3.52" cy="2.47" r="1.5" fill="#E6F598"/><circle cx="3.52" cy="2.47" r="1.5" fill="#E6F598"/><circle cx="10.57" cy="2.47" r="1.5" fill="#66C2A5"/><circle cx="17.62" cy="2.47" r="1.5" fill="#66C2A5"/><circle cx="24.67" cy="2.47" r="1.5" fill="#E6F598"/><circle cx="31.72" cy="2.47" r="1.5" fill="#E6F598"/><circle cx="0.00" cy="4.94" r="1.5" fill="#E6F598"/><circle cx="7.05" cy="4.94" r="1.5" fill="#3288BD"/><circle cx="14.10" cy="4.94" r="1.5" fill="#E6F598"/><circle cx="21.15" cy="4.94" r="1.5" fill="#E6F598"/><circle cx="28.20" cy="4.94" r="1.5" fill="#E6F598"/><circle cx="-3.52" cy="7.41" r="1.5" fill="#E6F598"/><circle cx="3.52" cy="7.41" r="1.5" fill="#66C2A5"/><circle cx="10.57" cy="7.41" r="1.5" fill="#ABDDA4"/><circle cx="17.62" cy="7.41" r="1.5" fill="#E6F598"/><circle cx="24.67" cy="7.41" r="1.5" fill="#E6F598"/><circle cx="31.72" cy="7.41" r="1.5" fill="#66C2A5"/><circle cx="0.00" cy="9.88" r="1.5" fill="#66C2A5"/><circle cx="7.05" cy="9.88" r="1.5" fill="#ABDDA4"/><circle cx="14.10" cy="9.88" r="1.5" fill="#E6F598"/><circle cx="21.15" cy="9.88" r="1.5" fill="#66C2A5"/><circle cx="28.20" cy="9.88" r="1.5" fill="#66C2A5"/></pattern><pattern id="mblue" width="28.200" height="9.880" patternUnits="userSpaceOnUse"><rect width="28.200" height="9.880" fill="#A5CCE0"/><circle cx="0.00" cy="0.00" r="1.5" fill="#3288BD"/><circle cx="7.05" cy="0.00" r="1.5" fill="#66C2A5"/><circle cx="14.10" cy="0.00" r="1.5" fill="#3288BD"/><circle cx="21.15" cy="0.00" r="1.5" fill="#66C2A5"/><circle cx="28.20" cy="0.00" r="1.5" fill="#3288BD"/><circle cx="-3.52" cy="2.47" r="1.5" fill="#3288BD"/><circle cx="3.52" cy="2.47" r="1.5" fill="#3288BD"/><circle cx="10.57" cy="2.47" r="1.5" fill="#3288BD"/><circle cx="17.62" cy="2.47" r="1.5" fill="#3288BD"/><circle cx="24.67" cy="2.47" r="1.5" fill="#3288BD"/><circle cx="31.72" cy="2.47" r="1.5" fill="#3288BD"/><circle cx="0.00" cy="4.94" r="1.5" fill="#3288BD"/><circle cx="7.05" cy="4.94" r="1.5" fill="#3288BD"/><circle cx="14.10" cy="4.94" r="1.5" fill="#3288BD"/><circle cx="21.15" cy="4.94" r="1.5" fill="#66C2A5"/><circle cx="28.20" cy="4.94" r="1.5" fill="#3288BD"/><circle cx="-3.52" cy="7.41" r="1.5" fill="#3288BD"/><circle cx="3.52" cy="7.41" r="1.5" fill="#3288BD"/><circle cx="10.57" cy="7.41" r="1.5" fill="#3288BD"/><circle cx="17.62" cy="7.41" r="1.5" fill="#66C2A5"/><circle cx="24.67" cy="7.41" r="1.5" fill="#3288BD"/><circle cx="31.72" cy="7.41" r="1.5" fill="#3288BD"/><circle cx="0.00" cy="9.88" r="1.5" fill="#3288BD"/><circle cx="7.05" cy="9.88" r="1.5" fill="#66C2A5"/><circle cx="14.10" cy="9.88" r="1.5" fill="#3288BD"/><circle cx="21.15" cy="9.88" r="1.5" fill="#66C2A5"/><circle cx="28.20" cy="9.88" r="1.5" fill="#3288BD"/></pattern><pattern id="mgy" width="28.200" height="9.880" patternUnits="userSpaceOnUse"><rect width="28.200" height="9.880" fill="#E8F5D6"/><circle cx="0.00" cy="0.00" r="1.5" fill="#E6F598"/><circle cx="7.05" cy="0.00" r="1.5" fill="#ABDDA4"/><circle cx="14.10" cy="0.00" r="1.5" fill="#E6F598"/><circle cx="21.15" cy="0.00" r="1.5" fill="#FFFFBF"/><circle cx="28.20" cy="0.00" r="1.5" fill="#E6F598"/><circle cx="-3.52" cy="2.47" r="1.5" fill="#ABDDA4"/><circle cx="3.52" cy="2.47" r="1.5" fill="#66C2A5"/><circle cx="10.57" cy="2.47" r="1.5" fill="#E6F598"/><circle cx="17.62" cy="2.47" r="1.5" fill="#66C2A5"/><circle cx="24.67" cy="2.47" r="1.5" fill="#ABDDA4"/><circle cx="31.72" cy="2.47" r="1.5" fill="#66C2A5"/><circle cx="0.00" cy="4.94" r="1.5" fill="#FFFFBF"/><circle cx="7.05" cy="4.94" r="1.5" fill="#E6F598"/><circle cx="14.10" cy="4.94" r="1.5" fill="#66C2A5"/><circle cx="21.15" cy="4.94" r="1.5" fill="#ABDDA4"/><circle cx="28.20" cy="4.94" r="1.5" fill="#FFFFBF"/><circle cx="-3.52" cy="7.41" r="1.5" fill="#E6F598"/><circle cx="3.52" cy="7.41" r="1.5" fill="#E6F598"/><circle cx="10.57" cy="7.41" r="1.5" fill="#66C2A5"/><circle cx="17.62" cy="7.41" r="1.5" fill="#FEE08B"/><circle cx="24.67" cy="7.41" r="1.5" fill="#E6F598"/><circle cx="31.72" cy="7.41" r="1.5" fill="#E6F598"/><circle cx="0.00" cy="9.88" r="1.5" fill="#E6F598"/><circle cx="7.05" cy="9.88" r="1.5" fill="#ABDDA4"/><circle cx="14.10" cy="9.88" r="1.5" fill="#E6F598"/><circle cx="21.15" cy="9.88" r="1.5" fill="#FFFFBF"/><circle cx="28.20" cy="9.88" r="1.5" fill="#E6F598"/></pattern><pattern id="bE1" width="13.200" height="11.600" patternUnits="userSpaceOnUse"><rect width="13.200" height="11.600" fill="#A39BC9"/><circle cx="0.00" cy="0.00" r="1.45" fill="#6A51A3"/><circle cx="3.30" cy="0.00" r="1.45" fill="#6A51A3"/><circle cx="6.60" cy="0.00" r="1.45" fill="#54278F"/><circle cx="9.90" cy="0.00" r="1.45" fill="#BCBDDC"/><circle cx="13.20" cy="0.00" r="1.45" fill="#6A51A3"/><circle cx="-1.65" cy="2.90" r="1.45" fill="#BCBDDC"/><circle cx="1.65" cy="2.90" r="1.45" fill="#9E9AC8"/><circle cx="4.95" cy="2.90" r="1.45" fill="#BCBDDC"/><circle cx="8.25" cy="2.90" r="1.45" fill="#6A51A3"/><circle cx="11.55" cy="2.90" r="1.45" fill="#BCBDDC"/><circle cx="14.85" cy="2.90" r="1.45" fill="#9E9AC8"/><circle cx="0.00" cy="5.80" r="1.45" fill="#6A51A3"/><circle cx="3.30" cy="5.80" r="1.45" fill="#54278F"/><circle cx="6.60" cy="5.80" r="1.45" fill="#6A51A3"/><circle cx="9.90" cy="5.80" r="1.45" fill="#807DBA"/><circle cx="13.20" cy="5.80" r="1.45" fill="#6A51A3"/><circle cx="-1.65" cy="8.70" r="1.45" fill="#9E9AC8"/><circle cx="1.65" cy="8.70" r="1.45" fill="#BCBDDC"/><circle cx="4.95" cy="8.70" r="1.45" fill="#6A51A3"/><circle cx="8.25" cy="8.70" r="1.45" fill="#807DBA"/><circle cx="11.55" cy="8.70" r="1.45" fill="#9E9AC8"/><circle cx="14.85" cy="8.70" r="1.45" fill="#BCBDDC"/><circle cx="0.00" cy="11.60" r="1.45" fill="#6A51A3"/><circle cx="3.30" cy="11.60" r="1.45" fill="#6A51A3"/><circle cx="6.60" cy="11.60" r="1.45" fill="#54278F"/><circle cx="9.90" cy="11.60" r="1.45" fill="#BCBDDC"/><circle cx="13.20" cy="11.60" r="1.45" fill="#6A51A3"/></pattern><pattern id="bE1l" width="13.200" height="11.600" patternUnits="userSpaceOnUse"><rect width="13.200" height="11.600" fill="#BDBCDB"/><circle cx="0.00" cy="0.00" r="1.45" fill="#9E9AC8"/><circle cx="3.30" cy="0.00" r="1.45" fill="#807DBA"/><circle cx="6.60" cy="0.00" r="1.45" fill="#9E9AC8"/><circle cx="9.90" cy="0.00" r="1.45" fill="#BCBDDC"/><circle cx="13.20" cy="0.00" r="1.45" fill="#9E9AC8"/><circle cx="-1.65" cy="2.90" r="1.45" fill="#807DBA"/><circle cx="1.65" cy="2.90" r="1.45" fill="#9E9AC8"/><circle cx="4.95" cy="2.90" r="1.45" fill="#BCBDDC"/><circle cx="8.25" cy="2.90" r="1.45" fill="#BCBDDC"/><circle cx="11.55" cy="2.90" r="1.45" fill="#807DBA"/><circle cx="14.85" cy="2.90" r="1.45" fill="#9E9AC8"/><circle cx="0.00" cy="5.80" r="1.45" fill="#9E9AC8"/><circle cx="3.30" cy="5.80" r="1.45" fill="#807DBA"/><circle cx="6.60" cy="5.80" r="1.45" fill="#9E9AC8"/><circle cx="9.90" cy="5.80" r="1.45" fill="#BCBDDC"/><circle cx="13.20" cy="5.80" r="1.45" fill="#9E9AC8"/><circle cx="-1.65" cy="8.70" r="1.45" fill="#9E9AC8"/><circle cx="1.65" cy="8.70" r="1.45" fill="#DADAEB"/><circle cx="4.95" cy="8.70" r="1.45" fill="#807DBA"/><circle cx="8.25" cy="8.70" r="1.45" fill="#BCBDDC"/><circle cx="11.55" cy="8.70" r="1.45" fill="#9E9AC8"/><circle cx="14.85" cy="8.70" r="1.45" fill="#DADAEB"/><circle cx="0.00" cy="11.60" r="1.45" fill="#9E9AC8"/><circle cx="3.30" cy="11.60" r="1.45" fill="#807DBA"/><circle cx="6.60" cy="11.60" r="1.45" fill="#9E9AC8"/><circle cx="9.90" cy="11.60" r="1.45" fill="#BCBDDC"/><circle cx="13.20" cy="11.60" r="1.45" fill="#9E9AC8"/></pattern><pattern id="bE2" width="13.200" height="11.600" patternUnits="userSpaceOnUse"><rect width="13.200" height="11.600" fill="#C9C8E1"/><circle cx="0.00" cy="0.00" r="1.45" fill="#BCBDDC"/><circle cx="3.30" cy="0.00" r="1.45" fill="#DADAEB"/><circle cx="6.60" cy="0.00" r="1.45" fill="#EFEDF5"/><circle cx="9.90" cy="0.00" r="1.45" fill="#EFEDF5"/><circle cx="13.20" cy="0.00" r="1.45" fill="#BCBDDC"/><circle cx="-1.65" cy="2.90" r="1.45" fill="#9E9AC8"/><circle cx="1.65" cy="2.90" r="1.45" fill="#807DBA"/><circle cx="4.95" cy="2.90" r="1.45" fill="#9E9AC8"/><circle cx="8.25" cy="2.90" r="1.45" fill="#BCBDDC"/><circle cx="11.55" cy="2.90" r="1.45" fill="#9E9AC8"/><circle cx="14.85" cy="2.90" r="1.45" fill="#807DBA"/><circle cx="0.00" cy="5.80" r="1.45" fill="#9E9AC8"/><circle cx="3.30" cy="5.80" r="1.45" fill="#807DBA"/><circle cx="6.60" cy="5.80" r="1.45" fill="#BCBDDC"/><circle cx="9.90" cy="5.80" r="1.45" fill="#9E9AC8"/><circle cx="13.20" cy="5.80" r="1.45" fill="#9E9AC8"/><circle cx="-1.65" cy="8.70" r="1.45" fill="#DADAEB"/><circle cx="1.65" cy="8.70" r="1.45" fill="#DADAEB"/><circle cx="4.95" cy="8.70" r="1.45" fill="#807DBA"/><circle cx="8.25" cy="8.70" r="1.45" fill="#DADAEB"/><circle cx="11.55" cy="8.70" r="1.45" fill="#DADAEB"/><circle cx="14.85" cy="8.70" r="1.45" fill="#DADAEB"/><circle cx="0.00" cy="11.60" r="1.45" fill="#BCBDDC"/><circle cx="3.30" cy="11.60" r="1.45" fill="#DADAEB"/><circle cx="6.60" cy="11.60" r="1.45" fill="#EFEDF5"/><circle cx="9.90" cy="11.60" r="1.45" fill="#EFEDF5"/><circle cx="13.20" cy="11.60" r="1.45" fill="#BCBDDC"/></pattern><pattern id="bR1" width="13.200" height="11.600" patternUnits="userSpaceOnUse"><rect width="13.200" height="11.600" fill="#F1997E"/><circle cx="0.00" cy="0.00" r="1.45" fill="#F46D43"/><circle cx="3.30" cy="0.00" r="1.45" fill="#FDAE61"/><circle cx="6.60" cy="0.00" r="1.45" fill="#F46D43"/><circle cx="9.90" cy="0.00" r="1.45" fill="#D53E4F"/><circle cx="13.20" cy="0.00" r="1.45" fill="#F46D43"/><circle cx="-1.65" cy="2.90" r="1.45" fill="#D53E4F"/><circle cx="1.65" cy="2.90" r="1.45" fill="#F46D43"/><circle cx="4.95" cy="2.90" r="1.45" fill="#F46D43"/><circle cx="8.25" cy="2.90" r="1.45" fill="#F46D43"/><circle cx="11.55" cy="2.90" r="1.45" fill="#D53E4F"/><circle cx="14.85" cy="2.90" r="1.45" fill="#F46D43"/><circle cx="0.00" cy="5.80" r="1.45" fill="#D53E4F"/><circle cx="3.30" cy="5.80" r="1.45" fill="#F46D43"/><circle cx="6.60" cy="5.80" r="1.45" fill="#F46D43"/><circle cx="9.90" cy="5.80" r="1.45" fill="#FDAE61"/><circle cx="13.20" cy="5.80" r="1.45" fill="#D53E4F"/><circle cx="-1.65" cy="8.70" r="1.45" fill="#FDAE61"/><circle cx="1.65" cy="8.70" r="1.45" fill="#FDAE61"/><circle cx="4.95" cy="8.70" r="1.45" fill="#D53E4F"/><circle cx="8.25" cy="8.70" r="1.45" fill="#FEE08B"/><circle cx="11.55" cy="8.70" r="1.45" fill="#FDAE61"/><circle cx="14.85" cy="8.70" r="1.45" fill="#FDAE61"/><circle cx="0.00" cy="11.60" r="1.45" fill="#F46D43"/><circle cx="3.30" cy="11.60" r="1.45" fill="#FDAE61"/><circle cx="6.60" cy="11.60" r="1.45" fill="#F46D43"/><circle cx="9.90" cy="11.60" r="1.45" fill="#D53E4F"/><circle cx="13.20" cy="11.60" r="1.45" fill="#F46D43"/></pattern><pattern id="bR1y" width="13.200" height="11.600" patternUnits="userSpaceOnUse"><rect width="13.200" height="11.600" fill="#FAE8AB"/><circle cx="0.00" cy="0.00" r="1.45" fill="#FDAE61"/><circle cx="3.30" cy="0.00" r="1.45" fill="#E6F598"/><circle cx="6.60" cy="0.00" r="1.45" fill="#FFFFBF"/><circle cx="9.90" cy="0.00" r="1.45" fill="#E6F598"/><circle cx="13.20" cy="0.00" r="1.45" fill="#FDAE61"/><circle cx="-1.65" cy="2.90" r="1.45" fill="#FEE08B"/><circle cx="1.65" cy="2.90" r="1.45" fill="#FFFFBF"/><circle cx="4.95" cy="2.90" r="1.45" fill="#FFFFBF"/><circle cx="8.25" cy="2.90" r="1.45" fill="#E6F598"/><circle cx="11.55" cy="2.90" r="1.45" fill="#FEE08B"/><circle cx="14.85" cy="2.90" r="1.45" fill="#FFFFBF"/><circle cx="0.00" cy="5.80" r="1.45" fill="#FFFFBF"/><circle cx="3.30" cy="5.80" r="1.45" fill="#FEE08B"/><circle cx="6.60" cy="5.80" r="1.45" fill="#FEE08B"/><circle cx="9.90" cy="5.80" r="1.45" fill="#E6F598"/><circle cx="13.20" cy="5.80" r="1.45" fill="#FFFFBF"/><circle cx="-1.65" cy="8.70" r="1.45" fill="#FEE08B"/><circle cx="1.65" cy="8.70" r="1.45" fill="#FEE08B"/><circle cx="4.95" cy="8.70" r="1.45" fill="#FEE08B"/><circle cx="8.25" cy="8.70" r="1.45" fill="#FEE08B"/><circle cx="11.55" cy="8.70" r="1.45" fill="#FEE08B"/><circle cx="14.85" cy="8.70" r="1.45" fill="#FEE08B"/><circle cx="0.00" cy="11.60" r="1.45" fill="#FDAE61"/><circle cx="3.30" cy="11.60" r="1.45" fill="#E6F598"/><circle cx="6.60" cy="11.60" r="1.45" fill="#FFFFBF"/><circle cx="9.90" cy="11.60" r="1.45" fill="#E6F598"/><circle cx="13.20" cy="11.60" r="1.45" fill="#FDAE61"/></pattern><pattern id="bR2" width="13.200" height="11.600" patternUnits="userSpaceOnUse"><rect width="13.200" height="11.600" fill="#D7EEBC"/><circle cx="0.00" cy="0.00" r="1.45" fill="#E6F598"/><circle cx="3.30" cy="0.00" r="1.45" fill="#ABDDA4"/><circle cx="6.60" cy="0.00" r="1.45" fill="#E6F598"/><circle cx="9.90" cy="0.00" r="1.45" fill="#FFFFBF"/><circle cx="13.20" cy="0.00" r="1.45" fill="#E6F598"/><circle cx="-1.65" cy="2.90" r="1.45" fill="#FFFFBF"/><circle cx="1.65" cy="2.90" r="1.45" fill="#E6F598"/><circle cx="4.95" cy="2.90" r="1.45" fill="#E6F598"/><circle cx="8.25" cy="2.90" r="1.45" fill="#66C2A5"/><circle cx="11.55" cy="2.90" r="1.45" fill="#FFFFBF"/><circle cx="14.85" cy="2.90" r="1.45" fill="#E6F598"/><circle cx="0.00" cy="5.80" r="1.45" fill="#E6F598"/><circle cx="3.30" cy="5.80" r="1.45" fill="#FFFFBF"/><circle cx="6.60" cy="5.80" r="1.45" fill="#E6F598"/><circle cx="9.90" cy="5.80" r="1.45" fill="#E6F598"/><circle cx="13.20" cy="5.80" r="1.45" fill="#E6F598"/><circle cx="-1.65" cy="8.70" r="1.45" fill="#ABDDA4"/><circle cx="1.65" cy="8.70" r="1.45" fill="#ABDDA4"/><circle cx="4.95" cy="8.70" r="1.45" fill="#ABDDA4"/><circle cx="8.25" cy="8.70" r="1.45" fill="#E6F598"/><circle cx="11.55" cy="8.70" r="1.45" fill="#ABDDA4"/><circle cx="14.85" cy="8.70" r="1.45" fill="#ABDDA4"/><circle cx="0.00" cy="11.60" r="1.45" fill="#E6F598"/><circle cx="3.30" cy="11.60" r="1.45" fill="#ABDDA4"/><circle cx="6.60" cy="11.60" r="1.45" fill="#E6F598"/><circle cx="9.90" cy="11.60" r="1.45" fill="#FFFFBF"/><circle cx="13.20" cy="11.60" r="1.45" fill="#E6F598"/></pattern><pattern id="bR2b" width="13.200" height="11.600" patternUnits="userSpaceOnUse"><rect width="13.200" height="11.600" fill="#78B6C7"/><circle cx="0.00" cy="0.00" r="1.45" fill="#3288BD"/><circle cx="3.30" cy="0.00" r="1.45" fill="#3288BD"/><circle cx="6.60" cy="0.00" r="1.45" fill="#3288BD"/><circle cx="9.90" cy="0.00" r="1.45" fill="#66C2A5"/><circle cx="13.20" cy="0.00" r="1.45" fill="#3288BD"/><circle cx="-1.65" cy="2.90" r="1.45" fill="#3288BD"/><circle cx="1.65" cy="2.90" r="1.45" fill="#3288BD"/><circle cx="4.95" cy="2.90" r="1.45" fill="#3288BD"/><circle cx="8.25" cy="2.90" r="1.45" fill="#3288BD"/><circle cx="11.55" cy="2.90" r="1.45" fill="#3288BD"/><circle cx="14.85" cy="2.90" r="1.45" fill="#3288BD"/><circle cx="0.00" cy="5.80" r="1.45" fill="#66C2A5"/><circle cx="3.30" cy="5.80" r="1.45" fill="#3288BD"/><circle cx="6.60" cy="5.80" r="1.45" fill="#3288BD"/><circle cx="9.90" cy="5.80" r="1.45" fill="#3288BD"/><circle cx="13.20" cy="5.80" r="1.45" fill="#66C2A5"/><circle cx="-1.65" cy="8.70" r="1.45" fill="#3288BD"/><circle cx="1.65" cy="8.70" r="1.45" fill="#3288BD"/><circle cx="4.95" cy="8.70" r="1.45" fill="#3288BD"/><circle cx="8.25" cy="8.70" r="1.45" fill="#3288BD"/><circle cx="11.55" cy="8.70" r="1.45" fill="#3288BD"/><circle cx="14.85" cy="8.70" r="1.45" fill="#3288BD"/><circle cx="0.00" cy="11.60" r="1.45" fill="#3288BD"/><circle cx="3.30" cy="11.60" r="1.45" fill="#3288BD"/><circle cx="6.60" cy="11.60" r="1.45" fill="#3288BD"/><circle cx="9.90" cy="11.60" r="1.45" fill="#66C2A5"/><circle cx="13.20" cy="11.60" r="1.45" fill="#3288BD"/></pattern></defs><rect width="2162" height="2637" fill="#fff"/><text x="31.5" y="23.5" font-size="30" font-weight="bold">a</text>
<text x="1111" y="23.5" font-size="30" font-weight="bold">b</text>
<rect x="92.2" y="186.2" width="21.5" height="125" fill="#64DCC1"/>
<rect x="113.8" y="85.5" width="21.5" height="225.8" fill="#EC9D33"/>
<rect x="141" y="242.5" width="21.5" height="68.8" fill="#64DCC1"/>
<rect x="162.5" y="247.5" width="21.5" height="63.8" fill="#EC9D33"/>
<rect x="190.5" y="265.5" width="21.5" height="45.8" fill="#64DCC1"/>
<rect x="212" y="274.2" width="21.5" height="37" fill="#EC9D33"/>
<rect x="239.2" y="277" width="21.5" height="34.2" fill="#64DCC1"/>
<rect x="260.8" y="296.2" width="21.5" height="15" fill="#EC9D33"/>
<rect x="288.5" y="216.5" width="21.5" height="94.8" fill="#64DCC1"/>
<rect x="310" y="285" width="21.5" height="26.2" fill="#EC9D33"/>
<line x1="85" y1="74.5" x2="85" y2="323.4" stroke="#000" stroke-width="1.9"/>
<line x1="84" y1="322.5" x2="339.5" y2="322.5" stroke="#000" stroke-width="1.9"/>
<text x="75" y="318.5" font-size="20.3" text-anchor="end" fill="#4D4D4D">0.0</text>
<line x1="80" y1="311.2" x2="85" y2="311.2" stroke="#333" stroke-width="1.9"/>
<text x="75" y="244.8" font-size="20.3" text-anchor="end" fill="#4D4D4D">0.2</text>
<line x1="80" y1="237.5" x2="85" y2="237.5" stroke="#333" stroke-width="1.9"/>
<text x="75" y="171" font-size="20.3" text-anchor="end" fill="#4D4D4D">0.4</text>
<line x1="80" y1="163.8" x2="85" y2="163.8" stroke="#333" stroke-width="1.9"/>
<text x="75" y="96.8" font-size="20.3" text-anchor="end" fill="#4D4D4D">0.6</text>
<line x1="80" y1="89.5" x2="85" y2="89.5" stroke="#333" stroke-width="1.9"/>
<line x1="113.8" y1="322.5" x2="113.8" y2="327.5" stroke="#333" stroke-width="1.9"/>
<text x="113.8" y="346.2" font-size="20.3" text-anchor="middle" fill="#4D4D4D">1</text>
<line x1="162.5" y1="322.5" x2="162.5" y2="327.5" stroke="#333" stroke-width="1.9"/>
<text x="162.5" y="346.2" font-size="20.3" text-anchor="middle" fill="#4D4D4D">2</text>
<line x1="212" y1="322.5" x2="212" y2="327.5" stroke="#333" stroke-width="1.9"/>
<text x="212" y="346.2" font-size="20.3" text-anchor="middle" fill="#4D4D4D">3</text>
<line x1="260.8" y1="322.5" x2="260.8" y2="327.5" stroke="#333" stroke-width="1.9"/>
<text x="260.8" y="346.2" font-size="20.3" text-anchor="middle" fill="#4D4D4D">4</text>
<line x1="310" y1="322.5" x2="310" y2="327.5" stroke="#333" stroke-width="1.9"/>
<text x="310" y="346.2" font-size="20.3" text-anchor="middle" fill="#4D4D4D">&gt;4</text>
<text x="123.8" y="76" font-size="21.8" text-anchor="middle">187</text>
<text x="104" y="177.5" font-size="21.8" text-anchor="middle">650</text>
<text x="153.2" y="233.8" font-size="21.8" text-anchor="middle">356</text>
<text x="172.5" y="280" font-size="21.8" text-anchor="middle">53</text>
<text x="202.5" y="260" font-size="21.8" text-anchor="middle">239</text>
<text x="221.2" y="285" font-size="21.8" text-anchor="middle">31</text>
<text x="252.5" y="272" font-size="21.8" text-anchor="middle">179</text>
<text x="272" y="298.8" font-size="21.8" text-anchor="middle">13</text>
<text x="301.2" y="207.5" font-size="21.8" text-anchor="middle">493</text>
<text x="320.8" y="279.5" font-size="21.8" text-anchor="middle">22</text>
<text x="172" y="92" font-size="22.4">Gene set</text>
<rect x="172.5" y="107.5" width="31.2" height="31.2" fill="#64DCC1"/>
<rect x="172.5" y="142" width="31.2" height="31" fill="#EC9D33"/>
<text x="217.2" y="130" font-size="19.8">ONT SVE</text>
<text x="217.2" y="165" font-size="19.8">ONT SVP</text>
<text x="205.4" y="373.8" font-size="22.5" text-anchor="middle">Number of reoccurrence</text>
<text x="18.7" y="201.4" font-size="21.9" text-anchor="middle" transform="rotate(-90 18.7 201.4)">Proportion</text>
<rect x="1173" y="228.8" width="21.5" height="74.2" fill="#64DCC1"/>
<rect x="1194.5" y="106.2" width="21.5" height="196.8" fill="#EC9D33"/>
<rect x="1222.2" y="258.8" width="21.5" height="44.2" fill="#64DCC1"/>
<rect x="1243.8" y="228.8" width="21.5" height="74.2" fill="#EC9D33"/>
<rect x="1271.5" y="270" width="21.5" height="33" fill="#64DCC1"/>
<rect x="1293" y="254.5" width="21.5" height="48.5" fill="#EC9D33"/>
<rect x="1320.5" y="276.2" width="21.5" height="26.8" fill="#64DCC1"/>
<rect x="1342" y="272" width="21.5" height="31" fill="#EC9D33"/>
<rect x="1369.8" y="77" width="21.5" height="226" fill="#64DCC1"/>
<rect x="1391.2" y="249.5" width="21.5" height="53.5" fill="#EC9D33"/>
<line x1="1165.5" y1="66" x2="1165.5" y2="315.4" stroke="#000" stroke-width="1.9"/>
<line x1="1164.5" y1="314.5" x2="1420.5" y2="314.5" stroke="#000" stroke-width="1.9"/>
<text x="1155" y="310.3" font-size="20.3" text-anchor="end" fill="#4D4D4D">0.0</text>
<line x1="1160.5" y1="303" x2="1165.5" y2="303" stroke="#333" stroke-width="1.9"/>
<text x="1155" y="229.3" font-size="20.3" text-anchor="end" fill="#4D4D4D">0.2</text>
<line x1="1160.5" y1="222" x2="1165.5" y2="222" stroke="#333" stroke-width="1.9"/>
<text x="1155" y="148.5" font-size="20.3" text-anchor="end" fill="#4D4D4D">0.4</text>
<line x1="1160.5" y1="141.2" x2="1165.5" y2="141.2" stroke="#333" stroke-width="1.9"/>
<line x1="1194.5" y1="314.5" x2="1194.5" y2="319.5" stroke="#333" stroke-width="1.9"/>
<text x="1194.5" y="338" font-size="20.3" text-anchor="middle" fill="#4D4D4D">1</text>
<line x1="1243.8" y1="314.5" x2="1243.8" y2="319.5" stroke="#333" stroke-width="1.9"/>
<text x="1243.8" y="338" font-size="20.3" text-anchor="middle" fill="#4D4D4D">2</text>
<line x1="1293" y1="314.5" x2="1293" y2="319.5" stroke="#333" stroke-width="1.9"/>
<text x="1293" y="338" font-size="20.3" text-anchor="middle" fill="#4D4D4D">3</text>
<line x1="1342" y1="314.5" x2="1342" y2="319.5" stroke="#333" stroke-width="1.9"/>
<text x="1342" y="338" font-size="20.3" text-anchor="middle" fill="#4D4D4D">4</text>
<line x1="1391.2" y1="314.5" x2="1391.2" y2="319.5" stroke="#333" stroke-width="1.9"/>
<text x="1391.2" y="338" font-size="20.3" text-anchor="middle" fill="#4D4D4D">&gt;4</text>
<text x="1206" y="98" font-size="21.8" text-anchor="middle">1373</text>
<text x="1190" y="220.8" font-size="21.8" text-anchor="middle">1219</text>
<text x="1254" y="220.8" font-size="21.8" text-anchor="middle">520</text>
<text x="1235" y="250.5" font-size="21.8" text-anchor="middle">728</text>
<text x="1302.5" y="242" font-size="21.8" text-anchor="middle">341</text>
<text x="1280" y="265" font-size="21.8" text-anchor="middle">545</text>
<text x="1352.5" y="263.8" font-size="21.8" text-anchor="middle">219</text>
<text x="1328.8" y="283" font-size="21.8" text-anchor="middle">441</text>
<text x="1382.5" y="68.8" font-size="21.8" text-anchor="middle">3706</text>
<text x="1401.8" y="241.2" font-size="21.8" text-anchor="middle">375</text>
<text x="1235" y="83.2" font-size="22.4">Gene set</text>
<rect x="1235.5" y="99.2" width="31.5" height="31.2" fill="#64DCC1"/>
<rect x="1235.5" y="133.8" width="31.5" height="31.2" fill="#EC9D33"/>
<text x="1280.5" y="121.8" font-size="19.8">SR SVE</text>
<text x="1280.5" y="156.8" font-size="19.8">SR SVP</text>
<text x="1287" y="365" font-size="22.5" text-anchor="middle">Number of reoccurrence</text>
<text x="1100" y="192.5" font-size="21.9" text-anchor="middle" transform="rotate(-90 1100 192.5)">Proportion</text>
<circle cx="455.5" cy="229" r="4.7" fill="#E8696A"/>
<circle cx="468" cy="234" r="4.7" fill="#E8696A"/>
<circle cx="462" cy="261" r="4.7" fill="#E8696A"/>
<circle cx="464" cy="286" r="4.7" fill="#E8696A"/>
<circle cx="456" cy="297" r="4.7" fill="#E8696A"/>
<circle cx="487.5" cy="292" r="4.7" fill="#E8696A"/>
<circle cx="495.5" cy="290.5" r="4.7" fill="#E8696A"/>
<circle cx="562" cy="274.5" r="4.7" fill="#E8696A"/>
<circle cx="595" cy="267.5" r="4.7" fill="#E8696A"/>
<circle cx="628.5" cy="257.5" r="4.7" fill="#E8696A"/>
<circle cx="688.5" cy="279.5" r="4.7" fill="#E8696A"/>
<path d="M455.5 247 L480 250 L520 253.5 L560 254 L600 251.5 L640 246 L688.5 235 L688.5 311 L640 297 L600 288 L560 285 L520 285 L480 287 L455.5 290 Z" fill="#999" fill-opacity="0.4"/>
<line x1="455.5" y1="268.5" x2="688.5" y2="273" stroke="#E8696A" stroke-width="3.6"/>
<circle cx="600" cy="85.5" r="4.7" fill="#4FD1C9"/>
<line x1="444.5" y1="74.5" x2="444.5" y2="323.4" stroke="#000" stroke-width="1.9"/>
<line x1="443.6" y1="322.5" x2="699.5" y2="322.5" stroke="#000" stroke-width="1.9"/>
<text x="433.8" y="136.8" font-size="18.9" text-anchor="end" fill="#4D4D4D">300</text>
<line x1="439.5" y1="130" x2="444.5" y2="130" stroke="#333" stroke-width="1.9"/>
<text x="433.8" y="193" font-size="18.9" text-anchor="end" fill="#4D4D4D">200</text>
<line x1="439.5" y1="186.2" x2="444.5" y2="186.2" stroke="#333" stroke-width="1.9"/>
<text x="433.8" y="249.3" font-size="18.9" text-anchor="end" fill="#4D4D4D">100</text>
<line x1="439.5" y1="242.5" x2="444.5" y2="242.5" stroke="#333" stroke-width="1.9"/>
<text x="433.8" y="306" font-size="18.9" text-anchor="end" fill="#4D4D4D">0</text>
<line x1="439.5" y1="299.2" x2="444.5" y2="299.2" stroke="#333" stroke-width="1.9"/>
<line x1="523.8" y1="322.5" x2="523.8" y2="327.5" stroke="#333" stroke-width="1.9"/>
<text x="523.8" y="346" font-size="18.9" text-anchor="middle" fill="#4D4D4D">1000</text>
<line x1="613.2" y1="322.5" x2="613.2" y2="327.5" stroke="#333" stroke-width="1.9"/>
<text x="613.2" y="346" font-size="18.9" text-anchor="middle" fill="#4D4D4D">2000</text>
<text x="564" y="58" font-size="22.6" text-anchor="middle">Number of SVP genes (ONT)</text>
<text x="566" y="372.5" font-size="22.6" text-anchor="middle">Avg total UMI per spot</text>
<rect x="510" y="106" width="35" height="34.5" fill="#D9D9D9"/>
<line x1="513" y1="123.2" x2="542" y2="123.2" stroke="#E8696A" stroke-width="3.6"/>
<circle cx="527.5" cy="123.2" r="4.2" fill="#E8696A"/>
<circle cx="527.5" cy="158" r="4.4" fill="#4FD1C9"/>
<text x="556" y="130" font-size="19.8">Human glioma</text>
<text x="556" y="165" font-size="19.8">Mouse CBS2</text>
<circle cx="815" cy="301.2" r="4.7" fill="#E8696A"/>
<circle cx="815" cy="308" r="4.7" fill="#E8696A"/>
<circle cx="824" cy="306" r="4.7" fill="#E8696A"/>
<circle cx="828" cy="301" r="4.7" fill="#E8696A"/>
<circle cx="847.5" cy="280.5" r="4.7" fill="#E8696A"/>
<circle cx="855.5" cy="283.5" r="4.7" fill="#E8696A"/>
<circle cx="922" cy="253.5" r="4.7" fill="#E8696A"/>
<circle cx="955" cy="238.5" r="4.7" fill="#E8696A"/>
<circle cx="988.5" cy="205" r="4.7" fill="#E8696A"/>
<circle cx="1048.5" cy="172.5" r="4.7" fill="#E8696A"/>
<path d="M815 299 L870 272 L930 243 L990 210 L1048.5 169 L1048.5 185 L990 214 L930 249 L870 279 L815 313 Z" fill="#999" fill-opacity="0.4"/>
<line x1="815" y1="306" x2="1048.5" y2="176" stroke="#E8696A" stroke-width="3.6"/>
<circle cx="960" cy="85.5" r="4.7" fill="#4FD1C9"/>
<line x1="804.5" y1="74.5" x2="804.5" y2="323.4" stroke="#000" stroke-width="1.9"/>
<line x1="803.5" y1="322.5" x2="1059.5" y2="322.5" stroke="#000" stroke-width="1.9"/>
<text x="793.8" y="87.3" font-size="18.9" text-anchor="end" fill="#4D4D4D">2500</text>
<line x1="799.5" y1="80.5" x2="804.5" y2="80.5" stroke="#333" stroke-width="1.9"/>
<text x="793.8" y="136.8" font-size="18.9" text-anchor="end" fill="#4D4D4D">2000</text>
<line x1="799.5" y1="130" x2="804.5" y2="130" stroke="#333" stroke-width="1.9"/>
<text x="793.8" y="186" font-size="18.9" text-anchor="end" fill="#4D4D4D">1500</text>
<line x1="799.5" y1="179.2" x2="804.5" y2="179.2" stroke="#333" stroke-width="1.9"/>
<text x="793.8" y="235" font-size="18.9" text-anchor="end" fill="#4D4D4D">1000</text>
<line x1="799.5" y1="228.2" x2="804.5" y2="228.2" stroke="#333" stroke-width="1.9"/>
<text x="793.8" y="284.8" font-size="18.9" text-anchor="end" fill="#4D4D4D">500</text>
<line x1="799.5" y1="278" x2="804.5" y2="278" stroke="#333" stroke-width="1.9"/>
<line x1="883.8" y1="322.5" x2="883.8" y2="327.5" stroke="#333" stroke-width="1.9"/>
<text x="883.8" y="346" font-size="18.9" text-anchor="middle" fill="#4D4D4D">1000</text>
<line x1="973.2" y1="322.5" x2="973.2" y2="327.5" stroke="#333" stroke-width="1.9"/>
<text x="973.2" y="346" font-size="18.9" text-anchor="middle" fill="#4D4D4D">2000</text>
<text x="924" y="58" font-size="22.6" text-anchor="middle">Number of SVE genes (ONT)</text>
<text x="926" y="372.5" font-size="22.6" text-anchor="middle">Avg total UMI per spot</text>
<rect x="870" y="106" width="35" height="34.5" fill="#D9D9D9"/>
<line x1="873" y1="123.2" x2="902" y2="123.2" stroke="#E8696A" stroke-width="3.6"/>
<circle cx="887.5" cy="123.2" r="4.2" fill="#E8696A"/>
<circle cx="887.5" cy="158" r="4.4" fill="#4FD1C9"/>
<text x="916" y="130" font-size="19.8">Human glioma</text>
<text x="916" y="165" font-size="19.8">Mouse CBS2</text>
<circle cx="1619.5" cy="77" r="4.7" fill="#E8696A"/>
<circle cx="1617" cy="122" r="4.7" fill="#E8696A"/>
<circle cx="1605.5" cy="141.8" r="4.7" fill="#E8696A"/>
<circle cx="1616" cy="151.5" r="4.7" fill="#E8696A"/>
<circle cx="1592" cy="200.5" r="4.7" fill="#E8696A"/>
<circle cx="1565" cy="207.5" r="4.7" fill="#E8696A"/>
<circle cx="1552.5" cy="224" r="4.7" fill="#E8696A"/>
<circle cx="1537" cy="237.5" r="4.7" fill="#E8696A"/>
<circle cx="1561.5" cy="242" r="4.7" fill="#E8696A"/>
<circle cx="1538" cy="248.5" r="4.7" fill="#E8696A"/>
<circle cx="1563" cy="251.5" r="4.7" fill="#E8696A"/>
<circle cx="1595" cy="241" r="4.7" fill="#E8696A"/>
<circle cx="1622.5" cy="234" r="4.7" fill="#E8696A"/>
<circle cx="1539" cy="254" r="4.7" fill="#E8696A"/>
<path d="M1537.5 207.5 L1557.5 192.5 L1580 178.8 L1600 160 L1612.5 140 L1623 108 L1623 192.5 L1602.5 205 L1585 215 L1570 230 L1555 252.5 L1545 275 L1537.5 302.5 Z" fill="#999" fill-opacity="0.4"/>
<line x1="1538" y1="253.8" x2="1623" y2="151.2" stroke="#E8696A" stroke-width="3.6"/>
<circle cx="1769.5" cy="135" r="4.7" fill="#4FD1C9"/>
<line x1="1526.2" y1="66" x2="1526.2" y2="315.4" stroke="#000" stroke-width="1.9"/>
<line x1="1525.3" y1="314.5" x2="1780.5" y2="314.5" stroke="#000" stroke-width="1.9"/>
<text x="1515" y="95.5" font-size="18.9" text-anchor="end" fill="#4D4D4D">1500</text>
<line x1="1521.2" y1="88.8" x2="1526.2" y2="88.8" stroke="#333" stroke-width="1.9"/>
<text x="1515" y="151.8" font-size="18.9" text-anchor="end" fill="#4D4D4D">1000</text>
<line x1="1521.2" y1="145" x2="1526.2" y2="145" stroke="#333" stroke-width="1.9"/>
<text x="1515" y="207.5" font-size="18.9" text-anchor="end" fill="#4D4D4D">500</text>
<line x1="1521.2" y1="200.8" x2="1526.2" y2="200.8" stroke="#333" stroke-width="1.9"/>
<text x="1515" y="263.5" font-size="18.9" text-anchor="end" fill="#4D4D4D">0</text>
<line x1="1521.2" y1="256.8" x2="1526.2" y2="256.8" stroke="#333" stroke-width="1.9"/>
<text x="1515" y="319.3" font-size="18.9" text-anchor="end" fill="#4D4D4D">−500</text>
<line x1="1521.2" y1="312.5" x2="1526.2" y2="312.5" stroke="#333" stroke-width="1.9"/>
<line x1="1578.8" y1="314.5" x2="1578.8" y2="319.5" stroke="#333" stroke-width="1.9"/>
<text x="1578.8" y="338.8" font-size="18.9" text-anchor="middle" fill="#4D4D4D">2500</text>
<line x1="1656.2" y1="314.5" x2="1656.2" y2="319.5" stroke="#333" stroke-width="1.9"/>
<text x="1656.2" y="338.8" font-size="18.9" text-anchor="middle" fill="#4D4D4D">5000</text>
<line x1="1733.2" y1="314.5" x2="1733.2" y2="319.5" stroke="#333" stroke-width="1.9"/>
<text x="1733.2" y="338.8" font-size="18.9" text-anchor="middle" fill="#4D4D4D">7500</text>
<text x="1645.8" y="49.2" font-size="22.6" text-anchor="middle">Number of SVP genes (SR)</text>
<text x="1647.5" y="365" font-size="22.6" text-anchor="middle">Avg total UMI per spot</text>
<rect x="1632" y="222" width="34.2" height="34.2" fill="#D9D9D9"/>
<line x1="1635" y1="239.5" x2="1663.2" y2="239.5" stroke="#E8696A" stroke-width="3.6"/>
<circle cx="1649.1" cy="239.5" r="4.2" fill="#E8696A"/>
<circle cx="1649.1" cy="273.8" r="4.4" fill="#4FD1C9"/>
<text x="1677.5" y="246.2" font-size="19.8">Human glioma</text>
<text x="1677.5" y="280.5" font-size="19.8">Mouse CBS</text>
<circle cx="1979.2" cy="78.8" r="4.7" fill="#E8696A"/>
<circle cx="1952.5" cy="111.5" r="4.7" fill="#E8696A"/>
<circle cx="1983" cy="121" r="4.7" fill="#E8696A"/>
<circle cx="1976.5" cy="140.5" r="4.7" fill="#E8696A"/>
<circle cx="1965.5" cy="159" r="4.7" fill="#E8696A"/>
<circle cx="1897.2" cy="163.8" r="4.7" fill="#E8696A"/>
<circle cx="1923.8" cy="155.2" r="4.7" fill="#E8696A"/>
<circle cx="1977.5" cy="170" r="4.7" fill="#E8696A"/>
<circle cx="1954.5" cy="183" r="4.7" fill="#E8696A"/>
<circle cx="1913" cy="224" r="4.7" fill="#E8696A"/>
<circle cx="1925.2" cy="226" r="4.7" fill="#E8696A"/>
<circle cx="1923.5" cy="253" r="4.7" fill="#E8696A"/>
<circle cx="1898.5" cy="303" r="4.7" fill="#E8696A"/>
<path d="M1897.5 188 L1913 180 L1928 170 L1943 152.5 L1958 130 L1970.5 105 L1983 80 L1983 167.5 L1968 175 L1953 187.5 L1940.5 205 L1925.5 220 L1913 240 L1903 262.5 L1897.5 287.5 Z" fill="#999" fill-opacity="0.4"/>
<line x1="1897.5" y1="238.8" x2="1983" y2="122.5" stroke="#E8696A" stroke-width="3.6"/>
<circle cx="2129.2" cy="142.5" r="4.7" fill="#4FD1C9"/>
<line x1="1886" y1="66" x2="1886" y2="315.4" stroke="#000" stroke-width="1.9"/>
<line x1="1885" y1="314.5" x2="2140.5" y2="314.5" stroke="#000" stroke-width="1.9"/>
<text x="1875" y="102.3" font-size="18.9" text-anchor="end" fill="#4D4D4D">4000</text>
<line x1="1881" y1="95.5" x2="1886" y2="95.5" stroke="#333" stroke-width="1.9"/>
<text x="1875" y="151.3" font-size="18.9" text-anchor="end" fill="#4D4D4D">3500</text>
<line x1="1881" y1="144.5" x2="1886" y2="144.5" stroke="#333" stroke-width="1.9"/>
<text x="1875" y="200.5" font-size="18.9" text-anchor="end" fill="#4D4D4D">3000</text>
<line x1="1881" y1="193.8" x2="1886" y2="193.8" stroke="#333" stroke-width="1.9"/>
<text x="1875" y="249.3" font-size="18.9" text-anchor="end" fill="#4D4D4D">2500</text>
<line x1="1881" y1="242.5" x2="1886" y2="242.5" stroke="#333" stroke-width="1.9"/>
<text x="1875" y="298.3" font-size="18.9" text-anchor="end" fill="#4D4D4D">2000</text>
<line x1="1881" y1="291.5" x2="1886" y2="291.5" stroke="#333" stroke-width="1.9"/>
<line x1="1939.2" y1="314.5" x2="1939.2" y2="319.5" stroke="#333" stroke-width="1.9"/>
<text x="1939.2" y="338.8" font-size="18.9" text-anchor="middle" fill="#4D4D4D">2500</text>
<line x1="2016.2" y1="314.5" x2="2016.2" y2="319.5" stroke="#333" stroke-width="1.9"/>
<text x="2016.2" y="338.8" font-size="18.9" text-anchor="middle" fill="#4D4D4D">5000</text>
<line x1="2093.2" y1="314.5" x2="2093.2" y2="319.5" stroke="#333" stroke-width="1.9"/>
<text x="2093.2" y="338.8" font-size="18.9" text-anchor="middle" fill="#4D4D4D">7500</text>
<text x="2005.4" y="49.2" font-size="22.6" text-anchor="middle">Number of SVE genes (SR)</text>
<text x="2007.5" y="365" font-size="22.6" text-anchor="middle">Avg total UMI per spot</text>
<rect x="1964.8" y="224.5" width="34" height="34.2" fill="#D9D9D9"/>
<line x1="1967.8" y1="241.5" x2="1995.8" y2="241.5" stroke="#E8696A" stroke-width="3.6"/>
<circle cx="1981.8" cy="241.5" r="4.2" fill="#E8696A"/>
<circle cx="1981.8" cy="276.2" r="4.4" fill="#4FD1C9"/>
<text x="2010.5" y="248.8" font-size="19.8">Human glioma</text>
<text x="2010.5" y="283" font-size="19.8">Mouse CBS</text>
<text x="31.5" y="440" font-size="30" font-weight="bold">c</text>
<text x="197" y="465.5" font-size="22.6" text-anchor="middle">DMG2 (H3K27M−mutant,</text>
<text x="197" y="491.2" font-size="22.6" text-anchor="middle">pediatric primary)</text>
<path d="M53.9 544 L62.4 528.2 L72.2 515.6 L80.6 506.2 L89 499.9 L103.1 499.1 L118.5 498.3 L132.6 499.9 L146.6 503.8 L159.3 507.8 L174.7 514.1 L191.6 523.5 L208.4 533 L218.2 534.5 L232.3 534.5 L246.3 534.5 L256.2 544 L266 553.4 L259 572.3 L250.6 594.4 L239.3 610.1 L229.5 625.9 L212.6 641.6 L200 662.1 L187.4 681 L174.7 693.6 L166.3 707.7 L159.3 714 L149.4 714 L138.2 699.9 L124.2 707.7 L112.9 703 L100.3 695.1 L89 687.3 L77.8 682.5 L68 677.8 L49.7 669.9 L52.5 660.5 L53.9 651.1 L53.9 594.4 Z" fill="url(#pR)"/>
<path d="M53.8 542.5 L71.8 516.3 L89.8 502.4 L100.8 510.7 L84.2 523.2 L85.6 535.6 L71.8 542.5 L67.7 559.1 L58 561.9 L53.8 552.2 Z" fill="url(#pB)"/>
<path d="M53.8 606.1 L67.7 604.8 L81.5 600.6 L100.8 610.3 L100.8 618.6 L92.5 622.7 L91.2 642.1 L80.1 649 L78.7 664.2 L67.7 664.2 L59.4 649 L58 628.3 L53.8 614.4 Z" fill="url(#pB)"/>
<path d="M123 567.4 L136.8 564.7 L157.5 573 L157.5 581.2 L147.8 589.5 L134 585.4 L124.3 578.5 Z" fill="url(#pB)"/>
<path d="M157.5 614.4 L178.3 610.3 L182.4 621.3 L178.3 650.4 L171.3 662.8 L168.6 683.6 L157.5 683.6 L150.6 676.6 L146.5 649 L157.5 635.2 Z" fill="url(#pB)"/>
<path d="M183.8 589.5 L205.9 573 L212.8 577.1 L196.2 595.1 L190.7 607.5 L185.2 603.4 Z" fill="url(#pB)"/>
<path d="M89.8 561.9 L105 561.9 L105 574.3 L92.5 574.3 Z" fill="url(#pB)"/>
<path d="M98.1 545.3 L117.4 550.8 L117.4 561.9 L105 559.1 L95.3 553.6 Z" fill="url(#pB)"/>
<path d="M100.8 506.6 L120.2 497.6 L136.8 502.4 L154.8 509.4 L184.5 519.7 L181 523.9 L153.4 512.8 L125.7 518.3 L109.1 513.5 Z" fill="url(#pG)"/>
<path d="M192.1 567.4 L200.4 566 L218.3 548.1 L219.7 534.2 L247.4 535.6 L239.1 548.1 L237.7 566 L223.9 589.5 L212.8 589.5 L205.9 579.9 L199 581.2 L192.1 578.5 Z" fill="url(#pG)"/>
<path d="M142.3 687.7 L154.8 675.3 L164.4 675.3 L171.3 694.6 L167.2 711.2 L150.6 714 L140.9 697.4 Z" fill="url(#pG)"/>
<path d="M209.1 534.2 L217.5 534.9 L217.1 547.1 L210.5 562.9 L204.2 573.9 L201.4 571.5 L204.9 558.2 L207.7 544 Z" fill="#fff"/>
<path d="M207.7 586.5 L214 588.1 L205.6 607 L194.4 625.9 L184.5 644.8 L179.6 646.3 L180.3 635.3 L191.6 618 L201.4 599.1 Z" fill="#fff"/>
<circle cx="124.9" cy="550.3" r="3" fill="#fff"/>
<circle cx="120.6" cy="655.8" r="3" fill="#fff"/>
<circle cx="159.3" cy="693.6" r="3" fill="#fff"/>
<circle cx="237.5" cy="650" r="7.8" fill="#E8686A"/>
<text x="256.2" y="657.5" font-size="20.8">Tumor</text>
<circle cx="237.5" cy="687" r="7.8" fill="#46C83C"/>
<text x="256.2" y="693.8" font-size="20.8">Tumor_infiltration</text>
<circle cx="237.5" cy="723.8" r="7.8" fill="#6496F5"/>
<text x="256.2" y="730.5" font-size="20.8">Tumor_Pericyte</text>
<path d="M413.2 530.3 L421.2 517.1 L430.5 506.5 L438.4 498.5 L446.4 493.2 L459.6 492.6 L474.2 491.9 L487.4 493.2 L500.7 496.6 L512.6 499.9 L527.2 505.2 L543.1 513.1 L559 521.1 L568.3 522.4 L581.5 522.4 L594.8 522.4 L604 530.3 L613.3 538.3 L606.7 554.2 L598.7 572.7 L588.1 586 L578.9 599.2 L563 612.5 L551 629.7 L539.1 645.6 L527.2 656.2 L519.2 668.1 L512.6 673.4 L503.3 673.4 L492.7 661.5 L479.5 668.1 L468.9 664.2 L457 657.5 L446.4 650.9 L435.8 646.9 L426.5 643 L409.3 636.3 L411.9 628.4 L413.2 620.4 L413.2 572.7 Z" fill="#EEEEF6"/>
<path d="M559.6 522.1 L567.6 522.7 L567.2 533 L561 546.2 L555 555.5 L552.4 553.5 L555.7 542.3 L558.3 530.3 Z" fill="#fff"/>
<path d="M558.3 566.1 L564.3 567.4 L556.3 583.3 L545.7 599.2 L536.5 615.1 L531.8 616.5 L532.5 607.2 L543.1 592.6 L552.4 576.7 Z" fill="#fff"/>
<circle cx="480.2" cy="535.6" r="2.8" fill="#fff"/>
<circle cx="476.2" cy="624.4" r="2.8" fill="#fff"/>
<circle cx="512.6" cy="656.2" r="2.8" fill="#fff"/>
<circle cx="463" cy="510.5" r="2.6" fill="#807DBA"/>
<circle cx="471.2" cy="510.7" r="2.6" fill="#9E9AC8"/>
<circle cx="453.1" cy="500.9" r="2.6" fill="#807DBA"/>
<circle cx="470.7" cy="508.9" r="2.6" fill="#807DBA"/>
<circle cx="464.9" cy="515" r="2.6" fill="#807DBA"/>
<circle cx="465.9" cy="504.7" r="2.6" fill="#807DBA"/>
<circle cx="459.1" cy="501.6" r="2.6" fill="#807DBA"/>
<circle cx="459.2" cy="504.6" r="2.6" fill="#807DBA"/>
<circle cx="475.9" cy="510.8" r="2.6" fill="#9E9AC8"/>
<circle cx="458" cy="511" r="2.6" fill="#9E9AC8"/>
<circle cx="456.1" cy="504" r="2.6" fill="#807DBA"/>
<circle cx="457" cy="503.2" r="2.6" fill="#9E9AC8"/>
<circle cx="472.2" cy="512.8" r="2.6" fill="#807DBA"/>
<circle cx="459.3" cy="502.6" r="2.6" fill="#BCBDDC"/>
<circle cx="464.5" cy="507.4" r="2.8" fill="#3F007D"/>
<circle cx="453.6" cy="508.1" r="2.6" fill="#DADAEB"/>
<circle cx="448.9" cy="519.8" r="2.6" fill="#9E9AC8"/>
<circle cx="450.7" cy="510.8" r="2.6" fill="#BCBDDC"/>
<circle cx="438.2" cy="513.5" r="2.6" fill="#DADAEB"/>
<circle cx="447.7" cy="534.8" r="2.6" fill="#807DBA"/>
<circle cx="448.1" cy="515.5" r="2.6" fill="#BCBDDC"/>
<circle cx="457" cy="522.4" r="2.6" fill="#807DBA"/>
<circle cx="455" cy="515.1" r="2.6" fill="#BCBDDC"/>
<circle cx="448.8" cy="521.3" r="2.6" fill="#DADAEB"/>
<circle cx="445.5" cy="512.1" r="2.6" fill="#807DBA"/>
<circle cx="459.8" cy="513.1" r="2.6" fill="#807DBA"/>
<circle cx="462.4" cy="519.8" r="2.6" fill="#DADAEB"/>
<circle cx="452.3" cy="515.8" r="2.8" fill="#54278F"/>
<circle cx="504.1" cy="607.8" r="2.6" fill="#DADAEB"/>
<circle cx="509.4" cy="604.5" r="2.6" fill="#BCBDDC"/>
<circle cx="501.4" cy="600.9" r="2.6" fill="#BCBDDC"/>
<circle cx="505.2" cy="601.8" r="2.6" fill="#BCBDDC"/>
<circle cx="497.9" cy="609.2" r="2.6" fill="#DADAEB"/>
<circle cx="508.8" cy="606" r="2.6" fill="#DADAEB"/>
<circle cx="505" cy="603.9" r="2.8" fill="#6A51A3"/>
<circle cx="450.6" cy="577.8" r="2.6" fill="#DADAEB"/>
<circle cx="439.7" cy="569.9" r="2.6" fill="#DADAEB"/>
<circle cx="446.5" cy="583.2" r="2.6" fill="#BCBDDC"/>
<circle cx="448" cy="590" r="2.6" fill="#9E9AC8"/>
<circle cx="437.1" cy="584.6" r="2.6" fill="#DADAEB"/>
<circle cx="443.7" cy="584" r="2.8" fill="#6A51A3"/>
<circle cx="459.9" cy="563.7" r="2.6" fill="#DADAEB"/>
<circle cx="457.6" cy="559.3" r="2.6" fill="#DADAEB"/>
<circle cx="458.5" cy="557" r="2.6" fill="#BCBDDC"/>
<circle cx="452.5" cy="563.7" r="2.6" fill="#DADAEB"/>
<circle cx="460.3" cy="561.5" r="2.8" fill="#807DBA"/>
<circle cx="472.3" cy="495.9" r="2.6" fill="#9E9AC8"/>
<circle cx="484.8" cy="504.5" r="2.6" fill="#9E9AC8"/>
<circle cx="531.6" cy="521.4" r="2.6" fill="#BCBDDC"/>
<circle cx="578.6" cy="552.9" r="2.6" fill="#9E9AC8"/>
<circle cx="431.8" cy="564.4" r="2.6" fill="#BCBDDC"/>
<circle cx="448" cy="564.4" r="2.6" fill="#BCBDDC"/>
<circle cx="411.3" cy="635.6" r="2.6" fill="#9E9AC8"/>
<circle cx="423.6" cy="626.8" r="2.6" fill="#BCBDDC"/>
<circle cx="484.8" cy="646.7" r="2.6" fill="#BCBDDC"/>
<circle cx="562" cy="609.8" r="2.6" fill="#BCBDDC"/>
<circle cx="594.8" cy="541.6" r="2.6" fill="#BCBDDC"/>
<circle cx="493" cy="549.9" r="2.6" fill="#BCBDDC"/>
<circle cx="512" cy="536" r="2.6" fill="#BCBDDC"/>
<circle cx="541.6" cy="533.8" r="2.6" fill="#DADAEB"/>
<circle cx="550" cy="590" r="2.6" fill="#BCBDDC"/>
<circle cx="525" cy="590" r="2.6" fill="#BCBDDC"/>
<circle cx="465" cy="609.8" r="2.6" fill="#BCBDDC"/>
<text x="415.5" y="464.6" font-size="22.4">IGKV2−28_Iso_1</text>
<text x="633.5" y="472.2" font-size="22.5">LogExpr</text>
<rect x="633.3" y="487" width="15" height="225.7" fill="url(#gP)"/>
<line x1="633.3" y1="512.3" x2="648.3" y2="512.3" stroke="#fff" stroke-width="1.2"/>
<text x="659.5" y="520.2" font-size="22">6</text>
<line x1="633.3" y1="580.4" x2="648.3" y2="580.4" stroke="#fff" stroke-width="1.2"/>
<text x="659.5" y="588.3" font-size="22">4</text>
<line x1="633.3" y1="647.8" x2="648.3" y2="647.8" stroke="#fff" stroke-width="1.2"/>
<text x="659.5" y="655.7" font-size="22">2</text>
<line x1="633.3" y1="712.7" x2="648.3" y2="712.7" stroke="#fff" stroke-width="1.2"/>
<text x="659.5" y="720.6" font-size="22">0</text>
<path d="M755.6 530.3 L763.6 517.1 L772.9 506.5 L780.8 498.5 L788.8 493.2 L802 492.6 L816.6 491.9 L829.8 493.2 L843.1 496.6 L855 499.9 L869.6 505.2 L885.5 513.1 L901.4 521.1 L910.7 522.4 L923.9 522.4 L937.2 522.4 L946.4 530.3 L955.7 538.3 L949.1 554.2 L941.1 572.7 L930.5 586 L921.3 599.2 L905.4 612.5 L893.4 629.7 L881.5 645.6 L869.6 656.2 L861.6 668.1 L855 673.4 L845.7 673.4 L835.1 661.5 L821.9 668.1 L811.3 664.2 L799.4 657.5 L788.8 650.9 L778.2 646.9 L768.9 643 L751.7 636.3 L754.3 628.4 L755.6 620.4 L755.6 572.7 Z" fill="#EEEEF6"/>
<path d="M902 522.1 L910 522.7 L909.6 533 L903.4 546.2 L897.4 555.5 L894.8 553.5 L898.1 542.3 L900.7 530.3 Z" fill="#fff"/>
<path d="M900.7 566.1 L906.7 567.4 L898.7 583.3 L888.1 599.2 L878.9 615.1 L874.2 616.5 L874.9 607.2 L885.5 592.6 L894.8 576.7 Z" fill="#fff"/>
<circle cx="822.6" cy="535.6" r="2.8" fill="#fff"/>
<circle cx="818.6" cy="624.4" r="2.8" fill="#fff"/>
<circle cx="855" cy="656.2" r="2.8" fill="#fff"/>
<circle cx="797.9" cy="564.9" r="2.6" fill="#BCBDDC"/>
<circle cx="801.3" cy="559.7" r="2.6" fill="#807DBA"/>
<circle cx="809.1" cy="560.7" r="2.6" fill="#807DBA"/>
<circle cx="801.6" cy="563" r="2.6" fill="#807DBA"/>
<circle cx="795.9" cy="558.3" r="2.6" fill="#9E9AC8"/>
<circle cx="801" cy="559.8" r="2.6" fill="#807DBA"/>
<circle cx="800.1" cy="559.1" r="2.6" fill="#9E9AC8"/>
<circle cx="810.5" cy="559" r="2.6" fill="#BCBDDC"/>
<circle cx="811.1" cy="569.4" r="2.6" fill="#BCBDDC"/>
<circle cx="797.6" cy="561.9" r="2.6" fill="#807DBA"/>
<circle cx="802.7" cy="561.3" r="2.8" fill="#3F007D"/>
<circle cx="790.9" cy="587.8" r="2.6" fill="#9E9AC8"/>
<circle cx="777.4" cy="585.7" r="2.6" fill="#807DBA"/>
<circle cx="790.6" cy="598.7" r="2.6" fill="#9E9AC8"/>
<circle cx="791" cy="590.5" r="2.6" fill="#807DBA"/>
<circle cx="786.8" cy="579.5" r="2.6" fill="#807DBA"/>
<circle cx="785" cy="580.1" r="2.6" fill="#9E9AC8"/>
<circle cx="791.2" cy="581.4" r="2.6" fill="#807DBA"/>
<circle cx="776.3" cy="582.4" r="2.6" fill="#9E9AC8"/>
<circle cx="781.1" cy="578.2" r="2.6" fill="#807DBA"/>
<circle cx="790.3" cy="574.1" r="2.6" fill="#807DBA"/>
<circle cx="788.7" cy="591.1" r="2.6" fill="#807DBA"/>
<circle cx="797.1" cy="583.8" r="2.6" fill="#BCBDDC"/>
<circle cx="786.5" cy="584.5" r="2.8" fill="#3F007D"/>
<circle cx="841.6" cy="600.7" r="2.6" fill="#DADAEB"/>
<circle cx="830.9" cy="596.8" r="2.6" fill="#DADAEB"/>
<circle cx="846.6" cy="591.7" r="2.6" fill="#DADAEB"/>
<circle cx="846.5" cy="596.4" r="2.6" fill="#DADAEB"/>
<circle cx="844" cy="599.7" r="2.6" fill="#BCBDDC"/>
<circle cx="842" cy="593" r="2.8" fill="#807DBA"/>
<circle cx="809" cy="517" r="2.6" fill="#BCBDDC"/>
<circle cx="835" cy="512" r="2.6" fill="#DADAEB"/>
<circle cx="790" cy="530" r="2.6" fill="#BCBDDC"/>
<circle cx="766" cy="553" r="2.6" fill="#BCBDDC"/>
<circle cx="845" cy="570" r="2.6" fill="#BCBDDC"/>
<circle cx="858" cy="585" r="2.6" fill="#BCBDDC"/>
<circle cx="893" cy="566" r="2.6" fill="#BCBDDC"/>
<circle cx="866" cy="530" r="2.6" fill="#BCBDDC"/>
<circle cx="889" cy="575" r="2.6" fill="#BCBDDC"/>
<circle cx="811" cy="659" r="2.6" fill="#9E9AC8"/>
<circle cx="773" cy="638" r="2.6" fill="#9E9AC8"/>
<circle cx="790" cy="640" r="2.6" fill="#BCBDDC"/>
<circle cx="760" cy="608" r="2.6" fill="#BCBDDC"/>
<circle cx="905" cy="540" r="2.6" fill="#BCBDDC"/>
<circle cx="858" cy="558" r="2.6" fill="#BCBDDC"/>
<text x="757.9" y="464.6" font-size="22.4">IGKV2−28_Iso_2</text>
<text x="975.9" y="472.2" font-size="22.5">LogExpr</text>
<rect x="975.7" y="487" width="15" height="225.7" fill="url(#gP)"/>
<line x1="975.7" y1="490" x2="990.7" y2="490" stroke="#fff" stroke-width="1.2"/>
<text x="1001.9" y="497.9" font-size="22">6</text>
<line x1="975.7" y1="565" x2="990.7" y2="565" stroke="#fff" stroke-width="1.2"/>
<text x="1001.9" y="572.9" font-size="22">4</text>
<line x1="975.7" y1="639.3" x2="990.7" y2="639.3" stroke="#fff" stroke-width="1.2"/>
<text x="1001.9" y="647.2" font-size="22">2</text>
<line x1="975.7" y1="712.7" x2="990.7" y2="712.7" stroke="#fff" stroke-width="1.2"/>
<text x="1001.9" y="720.6" font-size="22">0</text>
<path d="M1098 530.3 L1106 517.1 L1115.3 506.5 L1123.2 498.5 L1131.2 493.2 L1144.4 492.6 L1159 491.9 L1172.2 493.2 L1185.5 496.6 L1197.4 499.9 L1212 505.2 L1227.9 513.1 L1243.8 521.1 L1253.1 522.4 L1266.3 522.4 L1279.6 522.4 L1288.8 530.3 L1298.1 538.3 L1291.5 554.2 L1283.5 572.7 L1272.9 586 L1263.7 599.2 L1247.8 612.5 L1235.8 629.7 L1223.9 645.6 L1212 656.2 L1204 668.1 L1197.4 673.4 L1188.1 673.4 L1177.5 661.5 L1164.3 668.1 L1153.7 664.2 L1141.8 657.5 L1131.2 650.9 L1120.6 646.9 L1111.3 643 L1094.1 636.3 L1096.7 628.4 L1098 620.4 L1098 572.7 Z" fill="#EEEEF6"/>
<path d="M1244.4 522.1 L1252.4 522.7 L1252 533 L1245.8 546.2 L1239.8 555.5 L1237.2 553.5 L1240.5 542.3 L1243.1 530.3 Z" fill="#fff"/>
<path d="M1243.1 566.1 L1249.1 567.4 L1241.1 583.3 L1230.5 599.2 L1221.3 615.1 L1216.6 616.5 L1217.3 607.2 L1227.9 592.6 L1237.2 576.7 Z" fill="#fff"/>
<circle cx="1165" cy="535.6" r="2.8" fill="#fff"/>
<circle cx="1161" cy="624.4" r="2.8" fill="#fff"/>
<circle cx="1197.4" cy="656.2" r="2.8" fill="#fff"/>
<circle cx="1105.7" cy="542.6" r="2.6" fill="#807DBA"/>
<circle cx="1117.6" cy="538.3" r="2.6" fill="#BCBDDC"/>
<circle cx="1118.1" cy="529.9" r="2.6" fill="#BCBDDC"/>
<circle cx="1121.5" cy="536.5" r="2.6" fill="#9E9AC8"/>
<circle cx="1130.3" cy="550.1" r="2.6" fill="#BCBDDC"/>
<circle cx="1104.6" cy="543.9" r="2.6" fill="#807DBA"/>
<circle cx="1115.1" cy="537.1" r="2.6" fill="#807DBA"/>
<circle cx="1125" cy="542.9" r="2.6" fill="#BCBDDC"/>
<circle cx="1117.2" cy="537.6" r="2.6" fill="#BCBDDC"/>
<circle cx="1112.2" cy="535.9" r="2.6" fill="#807DBA"/>
<circle cx="1128.2" cy="543" r="2.6" fill="#807DBA"/>
<circle cx="1099.7" cy="538.6" r="2.6" fill="#BCBDDC"/>
<circle cx="1115.8" cy="541.3" r="2.8" fill="#3F007D"/>
<circle cx="1188.9" cy="600.8" r="2.6" fill="#807DBA"/>
<circle cx="1189" cy="601.7" r="2.6" fill="#807DBA"/>
<circle cx="1186" cy="596.7" r="2.6" fill="#BCBDDC"/>
<circle cx="1186.5" cy="599.6" r="2.6" fill="#9E9AC8"/>
<circle cx="1191.5" cy="596.7" r="2.6" fill="#BCBDDC"/>
<circle cx="1190.4" cy="592" r="2.6" fill="#807DBA"/>
<circle cx="1179.6" cy="599.9" r="2.6" fill="#807DBA"/>
<circle cx="1191.6" cy="594.9" r="2.6" fill="#807DBA"/>
<circle cx="1186.1" cy="598.3" r="2.6" fill="#807DBA"/>
<circle cx="1177.7" cy="602.4" r="2.6" fill="#807DBA"/>
<circle cx="1185.6" cy="601.1" r="2.8" fill="#3F007D"/>
<circle cx="1101.7" cy="571.4" r="2.6" fill="#DADAEB"/>
<circle cx="1105.6" cy="562.2" r="2.6" fill="#9E9AC8"/>
<circle cx="1105" cy="569.8" r="2.6" fill="#9E9AC8"/>
<circle cx="1097.3" cy="564.6" r="2.6" fill="#9E9AC8"/>
<circle cx="1097.3" cy="567.9" r="2.6" fill="#BCBDDC"/>
<circle cx="1102.7" cy="558.8" r="2.6" fill="#DADAEB"/>
<circle cx="1100.5" cy="564.8" r="2.6" fill="#DADAEB"/>
<circle cx="1116.2" cy="559.1" r="2.6" fill="#BCBDDC"/>
<circle cx="1105" cy="565" r="2.8" fill="#6A51A3"/>
<circle cx="1173" cy="506" r="2.6" fill="#9E9AC8"/>
<circle cx="1148" cy="517" r="2.6" fill="#BCBDDC"/>
<circle cx="1190" cy="515" r="2.6" fill="#BCBDDC"/>
<circle cx="1165" cy="530" r="2.6" fill="#BCBDDC"/>
<circle cx="1200" cy="550" r="2.6" fill="#BCBDDC"/>
<circle cx="1246" cy="568" r="2.6" fill="#BCBDDC"/>
<circle cx="1267" cy="572" r="2.6" fill="#BCBDDC"/>
<circle cx="1100" cy="608" r="2.6" fill="#9E9AC8"/>
<circle cx="1108" cy="627" r="2.6" fill="#BCBDDC"/>
<circle cx="1145" cy="627" r="2.6" fill="#BCBDDC"/>
<circle cx="1158" cy="632" r="2.6" fill="#BCBDDC"/>
<circle cx="1218" cy="620" r="2.6" fill="#BCBDDC"/>
<circle cx="1202" cy="587" r="2.6" fill="#BCBDDC"/>
<circle cx="1145" cy="593" r="2.6" fill="#BCBDDC"/>
<text x="1100.3" y="464.6" font-size="22.4">IGKV2−28_Iso_3</text>
<text x="1318.3" y="472.2" font-size="22.5">LogExpr</text>
<rect x="1318.1" y="487" width="15" height="225.7" fill="url(#gP)"/>
<line x1="1318.1" y1="507.8" x2="1333.1" y2="507.8" stroke="#fff" stroke-width="1.2"/>
<text x="1344.3" y="515.7" font-size="22">6</text>
<line x1="1318.1" y1="577" x2="1333.1" y2="577" stroke="#fff" stroke-width="1.2"/>
<text x="1344.3" y="584.9" font-size="22">4</text>
<line x1="1318.1" y1="646" x2="1333.1" y2="646" stroke="#fff" stroke-width="1.2"/>
<text x="1344.3" y="653.9" font-size="22">2</text>
<line x1="1318.1" y1="712.7" x2="1333.1" y2="712.7" stroke="#fff" stroke-width="1.2"/>
<text x="1344.3" y="720.6" font-size="22">0</text>
<path d="M1440.4 530.3 L1448.4 517.1 L1457.7 506.5 L1465.6 498.5 L1473.6 493.2 L1486.8 492.6 L1501.4 491.9 L1514.6 493.2 L1527.9 496.6 L1539.8 499.9 L1554.4 505.2 L1570.3 513.1 L1586.2 521.1 L1595.5 522.4 L1608.7 522.4 L1622 522.4 L1631.2 530.3 L1640.5 538.3 L1633.9 554.2 L1625.9 572.7 L1615.3 586 L1606.1 599.2 L1590.2 612.5 L1578.2 629.7 L1566.3 645.6 L1554.4 656.2 L1546.4 668.1 L1539.8 673.4 L1530.5 673.4 L1519.9 661.5 L1506.7 668.1 L1496.1 664.2 L1484.2 657.5 L1473.6 650.9 L1463 646.9 L1453.7 643 L1436.5 636.3 L1439.1 628.4 L1440.4 620.4 L1440.4 572.7 Z" fill="#EEEEF6"/>
<path d="M1586.8 522.1 L1594.8 522.7 L1594.4 533 L1588.2 546.2 L1582.2 555.5 L1579.6 553.5 L1582.9 542.3 L1585.5 530.3 Z" fill="#fff"/>
<path d="M1585.5 566.1 L1591.5 567.4 L1583.5 583.3 L1572.9 599.2 L1563.7 615.1 L1559 616.5 L1559.7 607.2 L1570.3 592.6 L1579.6 576.7 Z" fill="#fff"/>
<circle cx="1507.4" cy="535.6" r="2.8" fill="#fff"/>
<circle cx="1503.4" cy="624.4" r="2.8" fill="#fff"/>
<circle cx="1539.8" cy="656.2" r="2.8" fill="#fff"/>
<circle cx="1476.1" cy="585" r="2.6" fill="#807DBA"/>
<circle cx="1471.2" cy="590" r="2.6" fill="#807DBA"/>
<circle cx="1471.5" cy="588.8" r="2.6" fill="#9E9AC8"/>
<circle cx="1476.9" cy="576.9" r="2.6" fill="#807DBA"/>
<circle cx="1481.3" cy="584.6" r="2.6" fill="#9E9AC8"/>
<circle cx="1481" cy="595.4" r="2.6" fill="#BCBDDC"/>
<circle cx="1476.9" cy="599.4" r="2.6" fill="#BCBDDC"/>
<circle cx="1476.8" cy="585.3" r="2.6" fill="#807DBA"/>
<circle cx="1474.6" cy="587.3" r="2.8" fill="#3F007D"/>
<circle cx="1514.4" cy="611.5" r="2.6" fill="#BCBDDC"/>
<circle cx="1509.8" cy="609.8" r="2.6" fill="#9E9AC8"/>
<circle cx="1515.6" cy="609.6" r="2.6" fill="#9E9AC8"/>
<circle cx="1506.5" cy="605.2" r="2.6" fill="#807DBA"/>
<circle cx="1507.1" cy="611" r="2.6" fill="#9E9AC8"/>
<circle cx="1509.8" cy="606.9" r="2.6" fill="#807DBA"/>
<circle cx="1513.9" cy="606.6" r="2.6" fill="#9E9AC8"/>
<circle cx="1510.1" cy="617.8" r="2.6" fill="#807DBA"/>
<circle cx="1511.3" cy="609.6" r="2.6" fill="#BCBDDC"/>
<circle cx="1516" cy="600.9" r="2.6" fill="#9E9AC8"/>
<circle cx="1511.6" cy="607" r="2.8" fill="#3F007D"/>
<circle cx="1523" cy="533" r="2.6" fill="#DADAEB"/>
<circle cx="1526.6" cy="528.6" r="2.6" fill="#807DBA"/>
<circle cx="1527.9" cy="527.8" r="2.6" fill="#807DBA"/>
<circle cx="1527" cy="530.9" r="2.6" fill="#807DBA"/>
<circle cx="1527.6" cy="528.6" r="2.6" fill="#9E9AC8"/>
<circle cx="1534.4" cy="533.4" r="2.6" fill="#DADAEB"/>
<circle cx="1539.9" cy="531.1" r="2.6" fill="#DADAEB"/>
<circle cx="1529.9" cy="528.8" r="2.6" fill="#9E9AC8"/>
<circle cx="1527.1" cy="530.2" r="2.8" fill="#54278F"/>
<circle cx="1546.1" cy="599.7" r="2.6" fill="#9E9AC8"/>
<circle cx="1543.1" cy="597.4" r="2.6" fill="#BCBDDC"/>
<circle cx="1541" cy="601.3" r="2.6" fill="#DADAEB"/>
<circle cx="1537.3" cy="597.5" r="2.6" fill="#DADAEB"/>
<circle cx="1537.5" cy="598" r="2.6" fill="#DADAEB"/>
<circle cx="1544.3" cy="585.8" r="2.6" fill="#9E9AC8"/>
<circle cx="1540" cy="598" r="2.8" fill="#6A51A3"/>
<circle cx="1441" cy="593" r="2.6" fill="#9E9AC8"/>
<circle cx="1474" cy="622" r="2.6" fill="#9E9AC8"/>
<circle cx="1447" cy="640" r="2.6" fill="#BCBDDC"/>
<circle cx="1472" cy="627" r="2.6" fill="#BCBDDC"/>
<circle cx="1498" cy="511" r="2.6" fill="#BCBDDC"/>
<circle cx="1460" cy="516" r="2.6" fill="#BCBDDC"/>
<circle cx="1480" cy="523" r="2.6" fill="#BCBDDC"/>
<circle cx="1592" cy="576" r="2.6" fill="#BCBDDC"/>
<circle cx="1610" cy="526" r="2.6" fill="#BCBDDC"/>
<circle cx="1624" cy="575" r="2.6" fill="#BCBDDC"/>
<circle cx="1560" cy="582" r="2.6" fill="#BCBDDC"/>
<circle cx="1546" cy="637" r="2.6" fill="#BCBDDC"/>
<circle cx="1488" cy="661" r="2.6" fill="#9E9AC8"/>
<circle cx="1526" cy="555" r="2.6" fill="#BCBDDC"/>
<circle cx="1456" cy="560" r="2.6" fill="#BCBDDC"/>
<text x="1442.7" y="464.6" font-size="22.4">IGKV2−28_Iso_4</text>
<text x="1660.7" y="472.2" font-size="22.5">LogExpr</text>
<rect x="1660.5" y="487" width="15" height="225.7" fill="url(#gP)"/>
<line x1="1660.5" y1="505.4" x2="1675.5" y2="505.4" stroke="#fff" stroke-width="1.2"/>
<text x="1686.7" y="513.3" font-size="22">5</text>
<line x1="1660.5" y1="547.5" x2="1675.5" y2="547.5" stroke="#fff" stroke-width="1.2"/>
<text x="1686.7" y="555.4" font-size="22">4</text>
<line x1="1660.5" y1="589.7" x2="1675.5" y2="589.7" stroke="#fff" stroke-width="1.2"/>
<text x="1686.7" y="597.6" font-size="22">3</text>
<line x1="1660.5" y1="631.2" x2="1675.5" y2="631.2" stroke="#fff" stroke-width="1.2"/>
<text x="1686.7" y="639.1" font-size="22">2</text>
<line x1="1660.5" y1="673" x2="1675.5" y2="673" stroke="#fff" stroke-width="1.2"/>
<text x="1686.7" y="680.9" font-size="22">1</text>
<line x1="1660.5" y1="712.7" x2="1675.5" y2="712.7" stroke="#fff" stroke-width="1.2"/>
<text x="1686.7" y="720.6" font-size="22">0</text>
<path d="M1782.8 530.3 L1790.8 517.1 L1800.1 506.5 L1808 498.5 L1816 493.2 L1829.2 492.6 L1843.8 491.9 L1857 493.2 L1870.3 496.6 L1882.2 499.9 L1896.8 505.2 L1912.7 513.1 L1928.6 521.1 L1937.9 522.4 L1951.1 522.4 L1964.4 522.4 L1973.6 530.3 L1982.9 538.3 L1976.3 554.2 L1968.3 572.7 L1957.7 586 L1948.5 599.2 L1932.6 612.5 L1920.6 629.7 L1908.7 645.6 L1896.8 656.2 L1888.8 668.1 L1882.2 673.4 L1872.9 673.4 L1862.3 661.5 L1849.1 668.1 L1838.5 664.2 L1826.6 657.5 L1816 650.9 L1805.4 646.9 L1796.1 643 L1778.9 636.3 L1781.5 628.4 L1782.8 620.4 L1782.8 572.7 Z" fill="#EEEEF6"/>
<path d="M1929.2 522.1 L1937.2 522.7 L1936.8 533 L1930.6 546.2 L1924.6 555.5 L1922 553.5 L1925.3 542.3 L1927.9 530.3 Z" fill="#fff"/>
<path d="M1927.9 566.1 L1933.9 567.4 L1925.9 583.3 L1915.3 599.2 L1906.1 615.1 L1901.4 616.5 L1902.1 607.2 L1912.7 592.6 L1922 576.7 Z" fill="#fff"/>
<circle cx="1849.8" cy="535.6" r="2.8" fill="#fff"/>
<circle cx="1845.8" cy="624.4" r="2.8" fill="#fff"/>
<circle cx="1882.2" cy="656.2" r="2.8" fill="#fff"/>
<circle cx="1805.4" cy="541.8" r="2.6" fill="#807DBA"/>
<circle cx="1798.3" cy="541.1" r="2.6" fill="#BCBDDC"/>
<circle cx="1804.9" cy="544.7" r="2.6" fill="#BCBDDC"/>
<circle cx="1800.5" cy="541.3" r="2.8" fill="#3F007D"/>
<circle cx="1866.1" cy="595.9" r="2.6" fill="#BCBDDC"/>
<circle cx="1873.8" cy="600.3" r="2.6" fill="#807DBA"/>
<circle cx="1874.2" cy="600.6" r="2.6" fill="#807DBA"/>
<circle cx="1865.8" cy="603.7" r="2.6" fill="#807DBA"/>
<circle cx="1870" cy="600.4" r="2.6" fill="#9E9AC8"/>
<circle cx="1868.1" cy="601.8" r="2.6" fill="#BCBDDC"/>
<circle cx="1874.7" cy="595.7" r="2.6" fill="#9E9AC8"/>
<circle cx="1863.4" cy="596.6" r="2.6" fill="#807DBA"/>
<circle cx="1866.8" cy="601.8" r="2.6" fill="#BCBDDC"/>
<circle cx="1874.4" cy="601.2" r="2.6" fill="#9E9AC8"/>
<circle cx="1869.6" cy="601.1" r="2.8" fill="#3F007D"/>
<circle cx="1862.5" cy="597.4" r="2.6" fill="#9E9AC8"/>
<circle cx="1865.6" cy="600.1" r="2.6" fill="#9E9AC8"/>
<circle cx="1857.4" cy="598.4" r="2.6" fill="#DADAEB"/>
<circle cx="1860.3" cy="599.9" r="2.6" fill="#9E9AC8"/>
<circle cx="1857.6" cy="605.2" r="2.6" fill="#807DBA"/>
<circle cx="1857.3" cy="600" r="2.6" fill="#DADAEB"/>
<circle cx="1857.5" cy="598.3" r="2.8" fill="#54278F"/>
<circle cx="1812.8" cy="584.7" r="2.6" fill="#DADAEB"/>
<circle cx="1815.9" cy="590.7" r="2.6" fill="#BCBDDC"/>
<circle cx="1812.7" cy="580.7" r="2.6" fill="#DADAEB"/>
<circle cx="1817.8" cy="579.3" r="2.6" fill="#DADAEB"/>
<circle cx="1821.8" cy="593.8" r="2.6" fill="#BCBDDC"/>
<circle cx="1826.2" cy="589.9" r="2.6" fill="#DADAEB"/>
<circle cx="1817.1" cy="587.3" r="2.8" fill="#6A51A3"/>
<circle cx="1980.2" cy="536.1" r="2.6" fill="#54278F"/>
<circle cx="1833" cy="508" r="2.6" fill="#BCBDDC"/>
<circle cx="1830" cy="523" r="2.6" fill="#BCBDDC"/>
<circle cx="1848" cy="522" r="2.6" fill="#BCBDDC"/>
<circle cx="1869" cy="528" r="2.6" fill="#9E9AC8"/>
<circle cx="1887" cy="531" r="2.6" fill="#BCBDDC"/>
<circle cx="1895" cy="512" r="2.6" fill="#BCBDDC"/>
<circle cx="1910" cy="529" r="2.6" fill="#9E9AC8"/>
<circle cx="1787" cy="550" r="2.6" fill="#9E9AC8"/>
<circle cx="1800" cy="555" r="2.6" fill="#BCBDDC"/>
<circle cx="1812" cy="562" r="2.6" fill="#BCBDDC"/>
<circle cx="1830" cy="567" r="2.6" fill="#BCBDDC"/>
<circle cx="1855" cy="561" r="2.6" fill="#BCBDDC"/>
<circle cx="1885" cy="573" r="2.6" fill="#BCBDDC"/>
<circle cx="1910" cy="569" r="2.6" fill="#BCBDDC"/>
<circle cx="1945" cy="553" r="2.6" fill="#9E9AC8"/>
<circle cx="1945" cy="570" r="2.6" fill="#9E9AC8"/>
<circle cx="1793" cy="572" r="2.6" fill="#BCBDDC"/>
<circle cx="1804" cy="570" r="2.6" fill="#BCBDDC"/>
<circle cx="1822" cy="575" r="2.6" fill="#BCBDDC"/>
<circle cx="1785" cy="605" r="2.6" fill="#BCBDDC"/>
<circle cx="1805" cy="612" r="2.6" fill="#9E9AC8"/>
<circle cx="1820" cy="612" r="2.6" fill="#BCBDDC"/>
<circle cx="1838" cy="630" r="2.6" fill="#9E9AC8"/>
<circle cx="1880" cy="621" r="2.6" fill="#BCBDDC"/>
<circle cx="1785" cy="640" r="2.6" fill="#BCBDDC"/>
<circle cx="1820" cy="648" r="2.6" fill="#BCBDDC"/>
<circle cx="1853" cy="648" r="2.6" fill="#BCBDDC"/>
<circle cx="1907" cy="628" r="2.6" fill="#BCBDDC"/>
<circle cx="1928" cy="638" r="2.6" fill="#BCBDDC"/>
<circle cx="1927" cy="589" r="2.6" fill="#BCBDDC"/>
<text x="1785.1" y="464.6" font-size="22.4">IGKV2−28_Iso_5</text>
<text x="2003.1" y="472.2" font-size="22.5">LogExpr</text>
<rect x="2002.9" y="487" width="15" height="225.7" fill="url(#gP)"/>
<line x1="2002.9" y1="513" x2="2017.9" y2="513" stroke="#fff" stroke-width="1.2"/>
<text x="2029.1" y="520.9" font-size="22">4</text>
<line x1="2002.9" y1="563.8" x2="2017.9" y2="563.8" stroke="#fff" stroke-width="1.2"/>
<text x="2029.1" y="571.7" font-size="22">3</text>
<line x1="2002.9" y1="614.2" x2="2017.9" y2="614.2" stroke="#fff" stroke-width="1.2"/>
<text x="2029.1" y="622.1" font-size="22">2</text>
<line x1="2002.9" y1="664.4" x2="2017.9" y2="664.4" stroke="#fff" stroke-width="1.2"/>
<text x="2029.1" y="672.3" font-size="22">1</text>
<line x1="2002.9" y1="712.7" x2="2017.9" y2="712.7" stroke="#fff" stroke-width="1.2"/>
<text x="2029.1" y="720.6" font-size="22">0</text>
<text x="31.5" y="770" font-size="30" font-weight="bold">d</text>
<text x="217.5" y="800" font-size="22.6" text-anchor="middle">ONT AS event types per sample</text>
<line x1="104.7" y1="1070.4" x2="104.7" y2="1076.4" stroke="#333" stroke-width="1.5"/>
<line x1="104.7" y1="1087" x2="104.7" y2="1102.2" stroke="#333" stroke-width="1.5"/>
<rect x="96.9" y="1076.4" width="15.6" height="10.6" fill="#64DCC1" stroke="#333" stroke-width="1.5"/>
<line x1="96.9" y1="1084" x2="112.5" y2="1084" stroke="#333" stroke-width="3"/>
<line x1="120.3" y1="1059.8" x2="120.3" y2="1090" stroke="#333" stroke-width="1.5"/>
<line x1="120.3" y1="1121.9" x2="120.3" y2="1135.5" stroke="#333" stroke-width="1.5"/>
<rect x="112.5" y="1090" width="15.6" height="31.8" fill="#EC9D33" stroke="#333" stroke-width="1.5"/>
<line x1="112.5" y1="1108.2" x2="128.1" y2="1108.2" stroke="#333" stroke-width="3"/>
<line x1="145.9" y1="974.9" x2="145.9" y2="1005.2" stroke="#333" stroke-width="1.5"/>
<line x1="145.9" y1="1041.6" x2="145.9" y2="1053.7" stroke="#333" stroke-width="1.5"/>
<rect x="138.1" y="1005.2" width="15.6" height="36.4" fill="#64DCC1" stroke="#333" stroke-width="1.5"/>
<line x1="138.1" y1="1026.4" x2="153.8" y2="1026.4" stroke="#333" stroke-width="3"/>
<line x1="161.6" y1="1023.4" x2="161.6" y2="1059.8" stroke="#333" stroke-width="1.5"/>
<line x1="161.6" y1="1111.3" x2="161.6" y2="1135.5" stroke="#333" stroke-width="1.5"/>
<rect x="153.8" y="1059.8" width="15.6" height="51.5" fill="#EC9D33" stroke="#333" stroke-width="1.5"/>
<line x1="153.8" y1="1087" x2="169.4" y2="1087" stroke="#333" stroke-width="3"/>
<circle cx="161.6" cy="984" r="3.6" fill="#333"/>
<line x1="186.7" y1="1087" x2="186.7" y2="1093.1" stroke="#333" stroke-width="1.5"/>
<line x1="186.7" y1="1120.3" x2="186.7" y2="1129.4" stroke="#333" stroke-width="1.5"/>
<rect x="178.9" y="1093.1" width="15.6" height="27.3" fill="#64DCC1" stroke="#333" stroke-width="1.5"/>
<line x1="178.9" y1="1112.8" x2="194.5" y2="1112.8" stroke="#333" stroke-width="3"/>
<line x1="202.3" y1="1047.6" x2="202.3" y2="1059.8" stroke="#333" stroke-width="1.5"/>
<line x1="202.3" y1="1117.3" x2="202.3" y2="1135.5" stroke="#333" stroke-width="1.5"/>
<rect x="194.5" y="1059.8" width="15.6" height="57.6" fill="#EC9D33" stroke="#333" stroke-width="1.5"/>
<line x1="194.5" y1="1085.5" x2="210.1" y2="1085.5" stroke="#333" stroke-width="3"/>
<line x1="227.2" y1="1132.5" x2="227.2" y2="1133.1" stroke="#333" stroke-width="1.5"/>
<line x1="227.2" y1="1135.5" x2="227.2" y2="1135.5" stroke="#333" stroke-width="1.5"/>
<rect x="219.4" y="1133.1" width="15.6" height="2.4" fill="#64DCC1" stroke="#333" stroke-width="1.5"/>
<line x1="219.4" y1="1134.3" x2="235" y2="1134.3" stroke="#333" stroke-width="3"/>
<circle cx="227.2" cy="1124.9" r="3.6" fill="#333"/>
<line x1="242.8" y1="1135.5" x2="242.8" y2="1134.9" stroke="#333" stroke-width="1.5"/>
<line x1="242.8" y1="1135.5" x2="242.8" y2="1135.5" stroke="#333" stroke-width="1.5"/>
<rect x="235" y="1134.9" width="15.6" height="0.6" fill="#EC9D33" stroke="#333" stroke-width="1.5"/>
<line x1="235" y1="1135.5" x2="250.6" y2="1135.5" stroke="#333" stroke-width="3"/>
<circle cx="242.8" cy="1118.8" r="3.6" fill="#333"/>
<circle cx="242.8" cy="1108.2" r="3.6" fill="#333"/>
<line x1="268.4" y1="1133.7" x2="268.4" y2="1133.7" stroke="#333" stroke-width="1.5"/>
<line x1="268.4" y1="1135.5" x2="268.4" y2="1135.5" stroke="#333" stroke-width="1.5"/>
<rect x="260.6" y="1133.7" width="15.6" height="1.8" fill="#64DCC1" stroke="#333" stroke-width="1.5"/>
<line x1="260.6" y1="1134.6" x2="276.2" y2="1134.6" stroke="#333" stroke-width="3"/>
<circle cx="268.4" cy="1129.4" r="3.6" fill="#333"/>
<line x1="284.1" y1="1123.4" x2="284.1" y2="1129.4" stroke="#333" stroke-width="1.5"/>
<line x1="284.1" y1="1135.5" x2="284.1" y2="1135.5" stroke="#333" stroke-width="1.5"/>
<rect x="276.2" y="1129.4" width="15.6" height="6.1" fill="#EC9D33" stroke="#333" stroke-width="1.5"/>
<line x1="276.2" y1="1133.7" x2="291.9" y2="1133.7" stroke="#333" stroke-width="3"/>
<circle cx="284.1" cy="1088.5" r="3.6" fill="#333"/>
<line x1="309.7" y1="1100.7" x2="309.7" y2="1111.3" stroke="#333" stroke-width="1.5"/>
<line x1="309.7" y1="1120.3" x2="309.7" y2="1129.4" stroke="#333" stroke-width="1.5"/>
<rect x="301.9" y="1111.3" width="15.6" height="9.1" fill="#64DCC1" stroke="#333" stroke-width="1.5"/>
<line x1="301.9" y1="1115.8" x2="317.5" y2="1115.8" stroke="#333" stroke-width="3"/>
<line x1="325.3" y1="1112.8" x2="325.3" y2="1118.8" stroke="#333" stroke-width="1.5"/>
<line x1="325.3" y1="1135.5" x2="325.3" y2="1135.5" stroke="#333" stroke-width="1.5"/>
<rect x="317.5" y="1118.8" width="15.6" height="16.7" fill="#EC9D33" stroke="#333" stroke-width="1.5"/>
<line x1="317.5" y1="1126.4" x2="333.1" y2="1126.4" stroke="#333" stroke-width="3"/>
<line x1="350.2" y1="1034" x2="350.2" y2="1038.5" stroke="#333" stroke-width="1.5"/>
<line x1="350.2" y1="1053.7" x2="350.2" y2="1055.2" stroke="#333" stroke-width="1.5"/>
<rect x="342.4" y="1038.5" width="15.6" height="15.2" fill="#64DCC1" stroke="#333" stroke-width="1.5"/>
<line x1="342.4" y1="1044.6" x2="358" y2="1044.6" stroke="#333" stroke-width="3"/>
<circle cx="350.2" cy="1097.6" r="3.6" fill="#333"/>
<line x1="365.8" y1="908.2" x2="365.8" y2="955.2" stroke="#333" stroke-width="1.5"/>
<line x1="365.8" y1="1027.9" x2="365.8" y2="1059.8" stroke="#333" stroke-width="1.5"/>
<rect x="358" y="955.2" width="15.6" height="72.7" fill="#EC9D33" stroke="#333" stroke-width="1.5"/>
<line x1="358" y1="1014.3" x2="373.6" y2="1014.3" stroke="#333" stroke-width="3"/>
<circle cx="365.8" cy="832.5" r="3.6" fill="#333"/>
<line x1="88.8" y1="817.5" x2="88.8" y2="1151" stroke="#000" stroke-width="1.9"/>
<line x1="87.8" y1="1150" x2="382.5" y2="1150" stroke="#000" stroke-width="1.9"/>
<text x="72.5" y="840.3" font-size="21.8" text-anchor="end" fill="#4D4D4D">1.00</text>
<line x1="83.8" y1="832.5" x2="88.8" y2="832.5" stroke="#333" stroke-width="1.9"/>
<text x="72.5" y="916.1" font-size="21.8" text-anchor="end" fill="#4D4D4D">0.75</text>
<line x1="83.8" y1="908.2" x2="88.8" y2="908.2" stroke="#333" stroke-width="1.9"/>
<text x="72.5" y="991.8" font-size="21.8" text-anchor="end" fill="#4D4D4D">0.50</text>
<line x1="83.8" y1="984" x2="88.8" y2="984" stroke="#333" stroke-width="1.9"/>
<text x="72.5" y="1067.6" font-size="21.8" text-anchor="end" fill="#4D4D4D">0.25</text>
<line x1="83.8" y1="1059.8" x2="88.8" y2="1059.8" stroke="#333" stroke-width="1.9"/>
<text x="72.5" y="1143.3" font-size="21.8" text-anchor="end" fill="#4D4D4D">0.00</text>
<line x1="83.8" y1="1135.5" x2="88.8" y2="1135.5" stroke="#333" stroke-width="1.9"/>
<line x1="112.5" y1="1150" x2="112.5" y2="1155" stroke="#333" stroke-width="1.9"/>
<text x="112.5" y="1178.8" font-size="21.8" text-anchor="middle" fill="#4D4D4D">A3</text>
<line x1="153.8" y1="1150" x2="153.8" y2="1155" stroke="#333" stroke-width="1.9"/>
<text x="153.8" y="1178.8" font-size="21.8" text-anchor="middle" fill="#4D4D4D">A5</text>
<line x1="194.5" y1="1150" x2="194.5" y2="1155" stroke="#333" stroke-width="1.9"/>
<text x="194.5" y="1178.8" font-size="21.8" text-anchor="middle" fill="#4D4D4D">AF</text>
<line x1="235" y1="1150" x2="235" y2="1155" stroke="#333" stroke-width="1.9"/>
<text x="235" y="1178.8" font-size="21.8" text-anchor="middle" fill="#4D4D4D">AL</text>
<line x1="276.2" y1="1150" x2="276.2" y2="1155" stroke="#333" stroke-width="1.9"/>
<text x="276.2" y="1178.8" font-size="21.8" text-anchor="middle" fill="#4D4D4D">MX</text>
<line x1="317.5" y1="1150" x2="317.5" y2="1155" stroke="#333" stroke-width="1.9"/>
<text x="317.5" y="1178.8" font-size="21.8" text-anchor="middle" fill="#4D4D4D">RI</text>
<line x1="358" y1="1150" x2="358" y2="1155" stroke="#333" stroke-width="1.9"/>
<text x="358" y="1178.8" font-size="21.8" text-anchor="middle" fill="#4D4D4D">SE</text>
<text x="221.9" y="1207.5" font-size="22.6" text-anchor="middle">Alternative splicing event</text>
<text x="18.7" y="990" font-size="21.9" text-anchor="middle" transform="rotate(-90 18.7 990)">Proportion</text>
<text x="113.8" y="1052.5" font-size="22" text-anchor="middle">7e-3</text>
<text x="157" y="963.8" font-size="22" text-anchor="middle">4.7e-3</text>
<text x="200" y="1038.8" font-size="22" text-anchor="middle">0.18</text>
<text x="237.5" y="1090" font-size="22" text-anchor="middle">0.38</text>
<text x="277.5" y="1067" font-size="22" text-anchor="middle">0.88</text>
<text x="321.2" y="1086.2" font-size="22" text-anchor="middle">0.025</text>
<text x="357.5" y="900" font-size="22" text-anchor="middle">1.9e-3</text>
<line x1="520.5" y1="982.9" x2="520.5" y2="1024.5" stroke="#333" stroke-width="1.5"/>
<line x1="520.5" y1="1075.8" x2="520.5" y2="1132.3" stroke="#333" stroke-width="1.5"/>
<rect x="508.9" y="1024.5" width="23.1" height="51.3" fill="#64DCC1" stroke="#333" stroke-width="1.5"/>
<line x1="508.9" y1="1053.7" x2="532" y2="1053.7" stroke="#333" stroke-width="3"/>
<circle cx="520.5" cy="929" r="3.6" fill="#333"/>
<line x1="543.1" y1="832" x2="543.1" y2="902.8" stroke="#333" stroke-width="1.5"/>
<line x1="543.1" y1="995.2" x2="543.1" y2="1055.3" stroke="#333" stroke-width="1.5"/>
<rect x="532" y="902.8" width="22.2" height="92.4" fill="#EC9D33" stroke="#333" stroke-width="1.5"/>
<line x1="532" y1="958.3" x2="554.2" y2="958.3" stroke="#333" stroke-width="3"/>
<line x1="496.1" y1="817.8" x2="496.1" y2="1152.2" stroke="#000" stroke-width="1.9"/>
<line x1="495.2" y1="1151.3" x2="566.6" y2="1151.3" stroke="#000" stroke-width="1.9"/>
<text x="481.2" y="852.2" font-size="22.2" text-anchor="end" fill="#4D4D4D">0.25</text>
<line x1="491.1" y1="844.3" x2="496.1" y2="844.3" stroke="#333" stroke-width="1.9"/>
<text x="481.2" y="929.2" font-size="22.2" text-anchor="end" fill="#4D4D4D">0.20</text>
<line x1="491.1" y1="921.3" x2="496.1" y2="921.3" stroke="#333" stroke-width="1.9"/>
<text x="481.2" y="1006.2" font-size="22.2" text-anchor="end" fill="#4D4D4D">0.15</text>
<line x1="491.1" y1="998.3" x2="496.1" y2="998.3" stroke="#333" stroke-width="1.9"/>
<text x="481.2" y="1083.2" font-size="22.2" text-anchor="end" fill="#4D4D4D">0.10</text>
<line x1="491.1" y1="1075.3" x2="496.1" y2="1075.3" stroke="#333" stroke-width="1.9"/>
<line x1="531.3" y1="1151.3" x2="531.3" y2="1156.3" stroke="#333" stroke-width="1.9"/>
<text x="526" y="1179" font-size="22.2" text-anchor="middle" fill="#4D4D4D">Junctions</text>
<text x="426" y="999" font-size="22.5" text-anchor="middle" transform="rotate(-90 426 999)">Proportion of junction peaks</text>
<text x="536.5" y="824.7" font-size="22" text-anchor="middle">3.8e-4</text>
<text x="833.8" y="800.5" font-size="22.6" text-anchor="middle">TREND annotation per sample</text>
<line x1="703.9" y1="832.8" x2="703.9" y2="833.7" stroke="#333" stroke-width="1.5"/>
<line x1="703.9" y1="835.9" x2="703.9" y2="835.9" stroke="#333" stroke-width="1.5"/>
<rect x="692.2" y="833.7" width="23.4" height="2.2" fill="#64DCC1" stroke="#333" stroke-width="1.5"/>
<line x1="692.2" y1="834.3" x2="715.6" y2="834.3" stroke="#333" stroke-width="3"/>
<circle cx="703.9" cy="859.3" r="3.6" fill="#333"/>
<line x1="727.6" y1="831.2" x2="727.6" y2="834.3" stroke="#333" stroke-width="1.5"/>
<line x1="727.6" y1="842.1" x2="727.6" y2="843.7" stroke="#333" stroke-width="1.5"/>
<rect x="715.6" y="834.3" width="24" height="7.8" fill="#EC9D33" stroke="#333" stroke-width="1.5"/>
<line x1="715.6" y1="839" x2="739.6" y2="839" stroke="#333" stroke-width="3"/>
<circle cx="727.6" cy="865.5" r="3.6" fill="#333"/>
<circle cx="727.6" cy="924.8" r="3.6" fill="#333"/>
<line x1="766.8" y1="851.5" x2="766.8" y2="854.6" stroke="#333" stroke-width="1.5"/>
<line x1="766.8" y1="868.6" x2="766.8" y2="870.2" stroke="#333" stroke-width="1.5"/>
<rect x="755.1" y="854.6" width="23.4" height="14" fill="#64DCC1" stroke="#333" stroke-width="1.5"/>
<line x1="755.1" y1="862.4" x2="778.5" y2="862.4" stroke="#333" stroke-width="3"/>
<circle cx="766.8" cy="901.4" r="3.6" fill="#333"/>
<line x1="790.5" y1="878" x2="790.5" y2="882.7" stroke="#333" stroke-width="1.5"/>
<line x1="790.5" y1="892" x2="790.5" y2="893.6" stroke="#333" stroke-width="1.5"/>
<rect x="778.5" y="882.7" width="24" height="9.4" fill="#EC9D33" stroke="#333" stroke-width="1.5"/>
<line x1="778.5" y1="887.3" x2="802.5" y2="887.3" stroke="#333" stroke-width="3"/>
<circle cx="790.5" cy="865.5" r="3.6" fill="#333"/>
<circle cx="790.5" cy="867.1" r="3.6" fill="#333"/>
<circle cx="790.5" cy="938.8" r="3.6" fill="#333"/>
<circle cx="790.5" cy="977.8" r="3.6" fill="#333"/>
<line x1="829" y1="1090" x2="829" y2="1097.8" stroke="#333" stroke-width="1.5"/>
<line x1="829" y1="1107.2" x2="829" y2="1121.2" stroke="#333" stroke-width="1.5"/>
<rect x="817.3" y="1097.8" width="23.4" height="9.4" fill="#64DCC1" stroke="#333" stroke-width="1.5"/>
<line x1="817.3" y1="1102.5" x2="840.7" y2="1102.5" stroke="#333" stroke-width="3"/>
<circle cx="829" cy="1079.1" r="3.6" fill="#333"/>
<line x1="852.7" y1="976.2" x2="852.7" y2="988.7" stroke="#333" stroke-width="1.5"/>
<line x1="852.7" y1="1004.3" x2="852.7" y2="1008.9" stroke="#333" stroke-width="1.5"/>
<rect x="840.7" y="988.7" width="24" height="15.6" fill="#EC9D33" stroke="#333" stroke-width="1.5"/>
<line x1="840.7" y1="993.4" x2="864.7" y2="993.4" stroke="#333" stroke-width="3"/>
<circle cx="852.7" cy="1030.8" r="3.6" fill="#333"/>
<line x1="891.9" y1="1046.4" x2="891.9" y2="1054.2" stroke="#333" stroke-width="1.5"/>
<line x1="891.9" y1="1063.5" x2="891.9" y2="1071.3" stroke="#333" stroke-width="1.5"/>
<rect x="880.2" y="1054.2" width="23.4" height="9.4" fill="#64DCC1" stroke="#333" stroke-width="1.5"/>
<line x1="880.2" y1="1060.4" x2="903.6" y2="1060.4" stroke="#333" stroke-width="3"/>
<circle cx="891.9" cy="1038.6" r="3.6" fill="#333"/>
<circle cx="891.9" cy="1082.2" r="3.6" fill="#333"/>
<line x1="915.6" y1="1007.4" x2="915.6" y2="1023" stroke="#333" stroke-width="1.5"/>
<line x1="915.6" y1="1049.5" x2="915.6" y2="1058.8" stroke="#333" stroke-width="1.5"/>
<rect x="903.6" y="1023" width="24" height="26.5" fill="#EC9D33" stroke="#333" stroke-width="1.5"/>
<line x1="903.6" y1="1035.4" x2="927.6" y2="1035.4" stroke="#333" stroke-width="3"/>
<line x1="954.5" y1="1129" x2="954.5" y2="1129" stroke="#333" stroke-width="1.5"/>
<line x1="954.5" y1="1132.1" x2="954.5" y2="1135.2" stroke="#333" stroke-width="1.5"/>
<rect x="942.8" y="1129" width="23.4" height="3.1" fill="#64DCC1" stroke="#333" stroke-width="1.5"/>
<line x1="942.8" y1="1130.5" x2="966.2" y2="1130.5" stroke="#333" stroke-width="3"/>
<circle cx="954.5" cy="1116.5" r="3.6" fill="#333"/>
<line x1="978.2" y1="1115" x2="978.2" y2="1116.5" stroke="#333" stroke-width="1.5"/>
<line x1="978.2" y1="1125.9" x2="978.2" y2="1127.4" stroke="#333" stroke-width="1.5"/>
<rect x="966.2" y="1116.5" width="24" height="9.4" fill="#EC9D33" stroke="#333" stroke-width="1.5"/>
<line x1="966.2" y1="1121.2" x2="990.2" y2="1121.2" stroke="#333" stroke-width="3"/>
<line x1="678.2" y1="817.8" x2="678.2" y2="1152.2" stroke="#000" stroke-width="1.9"/>
<line x1="677.2" y1="1151.3" x2="992" y2="1151.3" stroke="#000" stroke-width="1.9"/>
<text x="662.7" y="836" font-size="22.2" text-anchor="end" fill="#4D4D4D">1.00</text>
<line x1="673.2" y1="828.1" x2="678.2" y2="828.1" stroke="#333" stroke-width="1.9"/>
<text x="662.7" y="914" font-size="22.2" text-anchor="end" fill="#4D4D4D">0.75</text>
<line x1="673.2" y1="906.1" x2="678.2" y2="906.1" stroke="#333" stroke-width="1.9"/>
<text x="662.7" y="991.9" font-size="22.2" text-anchor="end" fill="#4D4D4D">0.50</text>
<line x1="673.2" y1="984" x2="678.2" y2="984" stroke="#333" stroke-width="1.9"/>
<text x="662.7" y="1069.9" font-size="22.2" text-anchor="end" fill="#4D4D4D">0.25</text>
<line x1="673.2" y1="1062" x2="678.2" y2="1062" stroke="#333" stroke-width="1.9"/>
<text x="662.7" y="1147.8" font-size="22.2" text-anchor="end" fill="#4D4D4D">0.00</text>
<line x1="673.2" y1="1139.9" x2="678.2" y2="1139.9" stroke="#333" stroke-width="1.9"/>
<line x1="715.6" y1="1151.3" x2="715.6" y2="1156.3" stroke="#333" stroke-width="1.9"/>
<line x1="778.5" y1="1151.3" x2="778.5" y2="1156.3" stroke="#333" stroke-width="1.9"/>
<line x1="840.7" y1="1151.3" x2="840.7" y2="1156.3" stroke="#333" stroke-width="1.9"/>
<line x1="903.6" y1="1151.3" x2="903.6" y2="1156.3" stroke="#333" stroke-width="1.9"/>
<line x1="966.2" y1="1151.3" x2="966.2" y2="1156.3" stroke="#333" stroke-width="1.9"/>
<text x="680.8" y="1179" font-size="21.8" fill="#4D4D4D">Exon</text>
<text x="737.6" y="1179" font-size="21.8" fill="#4D4D4D">UTR3</text>
<text x="800.2" y="1179" font-size="21.8" fill="#4D4D4D">Alt−Exon</text>
<text x="898.2" y="1179" font-size="21.8" fill="#4D4D4D">CDS</text>
<text x="953" y="1179" font-size="21.8" fill="#4D4D4D">UTR5</text>
<text x="608" y="1002.7" font-size="22.5" text-anchor="middle" transform="rotate(-90 608 1002.7)">Proportion of peaks that overlap with</text>
<text x="716.3" y="824.7" font-size="22" text-anchor="middle">0.09</text>
<text x="782" y="847.8" font-size="22" text-anchor="middle">3.8e-4</text>
<text x="849.3" y="968.1" font-size="22" text-anchor="middle">1.9e−7</text>
<text x="913.3" y="997.5" font-size="22" text-anchor="middle">4.9e-4</text>
<text x="966.9" y="1101.2" font-size="22" text-anchor="middle">2.3e-4</text>
<text x="880.5" y="845.4" font-size="22.4">Gene set</text>
<line x1="898.3" y1="861.6" x2="898.3" y2="896.6" stroke="#333" stroke-width="1.5"/>
<rect x="884.5" y="869.6" width="28" height="19" fill="#64DCC1" stroke="#333" stroke-width="1.5"/>
<line x1="884.5" y1="879.1" x2="912.5" y2="879.1" stroke="#333" stroke-width="1.5"/>
<line x1="898.3" y1="898" x2="898.3" y2="933" stroke="#333" stroke-width="1.5"/>
<rect x="884.5" y="906" width="28" height="19" fill="#EC9D33" stroke="#333" stroke-width="1.5"/>
<line x1="884.5" y1="915.5" x2="912.5" y2="915.5" stroke="#333" stroke-width="1.5"/>
<text x="928.8" y="886.9" font-size="21">SVENP</text>
<text x="928.8" y="923.2" font-size="21">SVP</text>
<text x="1018.5" y="771" font-size="30" font-weight="bold">e</text>
<text x="1387.5" y="778.7" font-size="22.6">GO:BP (ONT)</text>
<rect x="1397.2" y="796.6" width="87.1" height="11.5" fill="#EC9D33"/>
<rect x="1397.2" y="808.1" width="51.8" height="11.5" fill="#64DCC1"/>
<rect x="1397.2" y="823.2" width="84.3" height="11.5" fill="#EC9D33"/>
<rect x="1397.2" y="834.7" width="47.3" height="11.5" fill="#64DCC1"/>
<rect x="1397.2" y="849.8" width="82.6" height="11.5" fill="#EC9D33"/>
<rect x="1397.2" y="861.3" width="43.2" height="11.5" fill="#64DCC1"/>
<rect x="1397.2" y="876.4" width="108.5" height="11.5" fill="#EC9D33"/>
<rect x="1397.2" y="887.9" width="68.7" height="11.5" fill="#64DCC1"/>
<rect x="1397.2" y="903" width="98.1" height="11.5" fill="#EC9D33"/>
<rect x="1397.2" y="914.5" width="49.8" height="11.5" fill="#64DCC1"/>
<line x1="1391.6" y1="791.8" x2="1391.6" y2="931.1" stroke="#000" stroke-width="1.9"/>
<line x1="1390.6" y1="930.1" x2="1510.2" y2="930.1" stroke="#000" stroke-width="1.9"/>
<line x1="1386.6" y1="808.1" x2="1391.6" y2="808.1" stroke="#333" stroke-width="1.9"/>
<text x="1382.3" y="815.4" font-size="20.5" text-anchor="end" fill="#4D4D4D">negative regulation of biological process</text>
<line x1="1386.6" y1="834.7" x2="1391.6" y2="834.7" stroke="#333" stroke-width="1.9"/>
<text x="1382.3" y="842" font-size="20.5" text-anchor="end" fill="#4D4D4D">developmental process</text>
<line x1="1386.6" y1="861.3" x2="1391.6" y2="861.3" stroke="#333" stroke-width="1.9"/>
<text x="1382.3" y="868.6" font-size="20.5" text-anchor="end" fill="#4D4D4D">anatomical structure development</text>
<line x1="1386.6" y1="887.9" x2="1391.6" y2="887.9" stroke="#333" stroke-width="1.9"/>
<text x="1382.3" y="895.2" font-size="20.5" text-anchor="end" fill="#4D4D4D">response to stimulus</text>
<line x1="1386.6" y1="914.5" x2="1391.6" y2="914.5" stroke="#333" stroke-width="1.9"/>
<text x="1382.3" y="921.8" font-size="20.5" text-anchor="end" fill="#4D4D4D">multicellular organismal process</text>
<line x1="1397.2" y1="930.1" x2="1397.2" y2="935.1" stroke="#333" stroke-width="1.9"/>
<text x="1404.5" y="937.1" font-size="20.5" text-anchor="end" fill="#4D4D4D" transform="rotate(-90 1404.5 937.1)">0.0</text>
<line x1="1430.7" y1="930.1" x2="1430.7" y2="935.1" stroke="#333" stroke-width="1.9"/>
<text x="1438" y="937.1" font-size="20.5" text-anchor="end" fill="#4D4D4D" transform="rotate(-90 1438 937.1)">0.2</text>
<line x1="1464.6" y1="930.1" x2="1464.6" y2="935.1" stroke="#333" stroke-width="1.9"/>
<text x="1471.9" y="937.1" font-size="20.5" text-anchor="end" fill="#4D4D4D" transform="rotate(-90 1471.9 937.1)">0.4</text>
<line x1="1498.1" y1="930.1" x2="1498.1" y2="935.1" stroke="#333" stroke-width="1.9"/>
<text x="1505.4" y="937.1" font-size="20.5" text-anchor="end" fill="#4D4D4D" transform="rotate(-90 1505.4 937.1)">0.6</text>
<text x="1374.4" y="959.5" font-size="22.6" text-anchor="end">Precision</text>
<text x="1824.9" y="777.9" font-size="22.6">GO:BP (SR)</text>
<rect x="1830.7" y="797.4" width="69.7" height="11.5" fill="#EC9D33"/>
<rect x="1830.7" y="808.9" width="48.4" height="11.5" fill="#64DCC1"/>
<rect x="1830.7" y="824" width="78.2" height="11.5" fill="#EC9D33"/>
<rect x="1830.7" y="835.5" width="56.1" height="11.5" fill="#64DCC1"/>
<rect x="1830.7" y="850.6" width="91.7" height="11.5" fill="#EC9D33"/>
<rect x="1830.7" y="862.1" width="68.9" height="11.5" fill="#64DCC1"/>
<rect x="1830.7" y="877.2" width="98.7" height="11.5" fill="#EC9D33"/>
<rect x="1830.7" y="888.7" width="75.5" height="11.5" fill="#64DCC1"/>
<rect x="1830.7" y="903.8" width="100.7" height="11.5" fill="#EC9D33"/>
<rect x="1830.7" y="915.3" width="74.7" height="11.5" fill="#64DCC1"/>
<line x1="1827.6" y1="792.3" x2="1827.6" y2="931.5" stroke="#000" stroke-width="1.9"/>
<line x1="1826.6" y1="930.5" x2="1935.2" y2="930.5" stroke="#000" stroke-width="1.9"/>
<line x1="1822.6" y1="808.9" x2="1827.6" y2="808.9" stroke="#333" stroke-width="1.9"/>
<text x="1817.1" y="816.2" font-size="20.5" text-anchor="end" fill="#4D4D4D">system development</text>
<line x1="1822.6" y1="835.5" x2="1827.6" y2="835.5" stroke="#333" stroke-width="1.9"/>
<text x="1817.1" y="842.8" font-size="20.5" text-anchor="end" fill="#4D4D4D">multicellular organism development</text>
<line x1="1822.6" y1="862.1" x2="1827.6" y2="862.1" stroke="#333" stroke-width="1.9"/>
<text x="1817.1" y="869.4" font-size="20.5" text-anchor="end" fill="#4D4D4D">anatomical structure development</text>
<line x1="1822.6" y1="888.7" x2="1827.6" y2="888.7" stroke="#333" stroke-width="1.9"/>
<text x="1817.1" y="896" font-size="20.5" text-anchor="end" fill="#4D4D4D">developmental process</text>
<line x1="1822.6" y1="915.3" x2="1827.6" y2="915.3" stroke="#333" stroke-width="1.9"/>
<text x="1817.1" y="922.6" font-size="20.5" text-anchor="end" fill="#4D4D4D">multicellular organismal process</text>
<line x1="1830.7" y1="930.5" x2="1830.7" y2="935.5" stroke="#333" stroke-width="1.9"/>
<text x="1838" y="937.5" font-size="20.5" text-anchor="end" fill="#4D4D4D" transform="rotate(-90 1838 937.5)">0.0</text>
<line x1="1852" y1="930.5" x2="1852" y2="935.5" stroke="#333" stroke-width="1.9"/>
<text x="1859.3" y="937.5" font-size="20.5" text-anchor="end" fill="#4D4D4D" transform="rotate(-90 1859.3 937.5)">0.1</text>
<line x1="1874" y1="930.5" x2="1874" y2="935.5" stroke="#333" stroke-width="1.9"/>
<text x="1881.3" y="937.5" font-size="20.5" text-anchor="end" fill="#4D4D4D" transform="rotate(-90 1881.3 937.5)">0.2</text>
<line x1="1895.7" y1="930.5" x2="1895.7" y2="935.5" stroke="#333" stroke-width="1.9"/>
<text x="1903" y="937.5" font-size="20.5" text-anchor="end" fill="#4D4D4D" transform="rotate(-90 1903 937.5)">0.3</text>
<line x1="1917" y1="930.5" x2="1917" y2="935.5" stroke="#333" stroke-width="1.9"/>
<text x="1924.3" y="937.5" font-size="20.5" text-anchor="end" fill="#4D4D4D" transform="rotate(-90 1924.3 937.5)">0.4</text>
<text x="1810.6" y="960.7" font-size="22.6" text-anchor="end">Precision</text>
<text x="1938.3" y="832.9" font-size="22.6">Gene set</text>
<rect x="1939" y="847.6" width="27.2" height="26" fill="#64DCC1"/>
<rect x="1939" y="876.3" width="27.2" height="27.1" fill="#EC9D33"/>
<text x="1977" y="865.8" font-size="22.6">Recurrent SVENP</text>
<text x="1977" y="894.9" font-size="22.6">Recurrent SVP</text>
<text x="1389.9" y="1024.6" font-size="22.6">KEGG (ONT)</text>
<rect x="1395.1" y="1042.3" width="92.3" height="11" fill="#EC9D33"/>
<rect x="1395.1" y="1053.3" width="18" height="11" fill="#64DCC1"/>
<rect x="1395.1" y="1066.6" width="92.3" height="11" fill="#EC9D33"/>
<rect x="1395.1" y="1077.6" width="18" height="11" fill="#64DCC1"/>
<rect x="1395.1" y="1091" width="82.9" height="11" fill="#EC9D33"/>
<rect x="1395.1" y="1102" width="5.2" height="11" fill="#64DCC1"/>
<rect x="1395.1" y="1115.3" width="101.6" height="11" fill="#EC9D33"/>
<rect x="1395.1" y="1126.3" width="18" height="11" fill="#64DCC1"/>
<rect x="1395.1" y="1139.7" width="110.3" height="11" fill="#EC9D33"/>
<rect x="1395.1" y="1150.7" width="7.6" height="11" fill="#64DCC1"/>
<line x1="1389.9" y1="1038.4" x2="1389.9" y2="1165.5" stroke="#000" stroke-width="1.9"/>
<line x1="1389" y1="1164.6" x2="1510.9" y2="1164.6" stroke="#000" stroke-width="1.9"/>
<line x1="1384.9" y1="1053.3" x2="1389.9" y2="1053.3" stroke="#333" stroke-width="1.9"/>
<text x="1380.2" y="1060.6" font-size="20.5" text-anchor="end" fill="#4D4D4D">Human T−cell leukemia virus 1 infection</text>
<line x1="1384.9" y1="1077.6" x2="1389.9" y2="1077.6" stroke="#333" stroke-width="1.9"/>
<text x="1380.2" y="1085" font-size="20.5" text-anchor="end" fill="#4D4D4D">Epstein−Barr virus infection</text>
<line x1="1384.9" y1="1102" x2="1389.9" y2="1102" stroke="#333" stroke-width="1.9"/>
<text x="1380.2" y="1109.3" font-size="20.5" text-anchor="end" fill="#4D4D4D">Viral myocarditis</text>
<line x1="1384.9" y1="1126.3" x2="1389.9" y2="1126.3" stroke="#333" stroke-width="1.9"/>
<text x="1380.2" y="1133.7" font-size="20.5" text-anchor="end" fill="#4D4D4D">Phagosome</text>
<line x1="1384.9" y1="1150.7" x2="1389.9" y2="1150.7" stroke="#333" stroke-width="1.9"/>
<text x="1380.2" y="1158" font-size="20.5" text-anchor="end" fill="#4D4D4D">Antigen processing and presentation</text>
<line x1="1395.1" y1="1164.6" x2="1395.1" y2="1169.6" stroke="#333" stroke-width="1.9"/>
<text x="1402.4" y="1171.6" font-size="20.5" text-anchor="end" fill="#4D4D4D" transform="rotate(-90 1402.4 1171.6)">0.00</text>
<line x1="1428.6" y1="1164.6" x2="1428.6" y2="1169.6" stroke="#333" stroke-width="1.9"/>
<text x="1435.9" y="1171.6" font-size="20.5" text-anchor="end" fill="#4D4D4D" transform="rotate(-90 1435.9 1171.6)">0.05</text>
<line x1="1462.5" y1="1164.6" x2="1462.5" y2="1169.6" stroke="#333" stroke-width="1.9"/>
<text x="1469.8" y="1171.6" font-size="20.5" text-anchor="end" fill="#4D4D4D" transform="rotate(-90 1469.8 1171.6)">0.10</text>
<line x1="1496" y1="1164.6" x2="1496" y2="1169.6" stroke="#333" stroke-width="1.9"/>
<text x="1503.3" y="1171.6" font-size="20.5" text-anchor="end" fill="#4D4D4D" transform="rotate(-90 1503.3 1171.6)">0.15</text>
<text x="1374.4" y="1200.9" font-size="22.6" text-anchor="end">Precision</text>
<text x="1975.9" y="1025.6" font-size="22.6">KEGG (SR)</text>
<rect x="1917.5" y="1042.1" width="179.5" height="11" fill="#EC9D33"/>
<rect x="1917.5" y="1053.1" width="88.2" height="11" fill="#64DCC1"/>
<rect x="1917.5" y="1066.7" width="222.1" height="11" fill="#EC9D33"/>
<rect x="1917.5" y="1077.7" width="130" height="11" fill="#64DCC1"/>
<rect x="1917.5" y="1091.2" width="179.5" height="11" fill="#EC9D33"/>
<rect x="1917.5" y="1102.2" width="78.9" height="11" fill="#64DCC1"/>
<rect x="1917.5" y="1115.8" width="195.8" height="11" fill="#EC9D33"/>
<rect x="1917.5" y="1126.8" width="93.2" height="11" fill="#64DCC1"/>
<rect x="1917.5" y="1140.4" width="174.5" height="11" fill="#EC9D33"/>
<rect x="1917.5" y="1151.4" width="55.7" height="11" fill="#64DCC1"/>
<line x1="1907" y1="1038.4" x2="1907" y2="1166.4" stroke="#000" stroke-width="1.9"/>
<line x1="1906" y1="1165.4" x2="2150" y2="1165.4" stroke="#000" stroke-width="1.9"/>
<line x1="1902" y1="1053.1" x2="1907" y2="1053.1" stroke="#333" stroke-width="1.9"/>
<text x="1897.7" y="1060.4" font-size="20.5" text-anchor="end" fill="#4D4D4D">Protein processing in endoplasmic reticulum</text>
<line x1="1902" y1="1077.7" x2="1907" y2="1077.7" stroke="#333" stroke-width="1.9"/>
<text x="1897.7" y="1085" font-size="20.5" text-anchor="end" fill="#4D4D4D">Shigellosis</text>
<line x1="1902" y1="1102.2" x2="1907" y2="1102.2" stroke="#333" stroke-width="1.9"/>
<text x="1897.7" y="1109.6" font-size="20.5" text-anchor="end" fill="#4D4D4D">Regulation of actin cytoskeleton</text>
<line x1="1902" y1="1126.8" x2="1907" y2="1126.8" stroke="#333" stroke-width="1.9"/>
<text x="1897.7" y="1134.1" font-size="20.5" text-anchor="end" fill="#4D4D4D">Focal adhesion</text>
<line x1="1902" y1="1151.4" x2="1907" y2="1151.4" stroke="#333" stroke-width="1.9"/>
<text x="1897.7" y="1158.7" font-size="20.5" text-anchor="end" fill="#4D4D4D">Spliceosome</text>
<line x1="1917" y1="1165.4" x2="1917" y2="1170.4" stroke="#333" stroke-width="1.9"/>
<text x="1924.3" y="1172.4" font-size="20.5" text-anchor="end" fill="#4D4D4D" transform="rotate(-90 1924.3 1172.4)">0.00</text>
<line x1="1987.5" y1="1165.4" x2="1987.5" y2="1170.4" stroke="#333" stroke-width="1.9"/>
<text x="1994.8" y="1172.4" font-size="20.5" text-anchor="end" fill="#4D4D4D" transform="rotate(-90 1994.8 1172.4)">0.02</text>
<line x1="2057.2" y1="1165.4" x2="2057.2" y2="1170.4" stroke="#333" stroke-width="1.9"/>
<text x="2064.5" y="1172.4" font-size="20.5" text-anchor="end" fill="#4D4D4D" transform="rotate(-90 2064.5 1172.4)">0.04</text>
<line x1="2126.8" y1="1165.4" x2="2126.8" y2="1170.4" stroke="#333" stroke-width="1.9"/>
<text x="2134.1" y="1172.4" font-size="20.5" text-anchor="end" fill="#4D4D4D" transform="rotate(-90 2134.1 1172.4)">0.06</text>
<text x="1894.6" y="1201" font-size="22.6" text-anchor="end">Precision</text>
<text x="126" y="1288.9" font-size="30" font-weight="bold">f</text>
<text x="405.6" y="1294.6" font-size="22.6" text-anchor="middle">Antigen processing and presentation −</text>
<text x="391.3" y="1314.8" font-size="22.6" text-anchor="middle">hsa04612 (ONT)</text>
<circle cx="270" cy="1508.4" r="3.5" fill="#C4C4C4"/>
<circle cx="272.2" cy="1508.4" r="3.5" fill="#D9D9D9"/>
<circle cx="270.4" cy="1514.1" r="3.5" fill="#C4C4C4"/>
<circle cx="270" cy="1519.8" r="3.5" fill="#D9D9D9"/>
<circle cx="265.9" cy="1523.1" r="3.5" fill="#C4C4C4"/>
<circle cx="266.6" cy="1529.2" r="3.5" fill="#CFCFCF"/>
<circle cx="267.3" cy="1527.2" r="3.5" fill="#D9D9D9"/>
<circle cx="270.2" cy="1535.1" r="3.5" fill="#CFCFCF"/>
<circle cx="273.7" cy="1543.9" r="3.5" fill="#CFCFCF"/>
<circle cx="270.5" cy="1543.8" r="3.5" fill="#C4C4C4"/>
<circle cx="267.2" cy="1548.1" r="3.5" fill="#C4C4C4"/>
<circle cx="269.7" cy="1546.6" r="3.5" fill="#C4C4C4"/>
<circle cx="270.5" cy="1552.8" r="3.5" fill="#CFCFCF"/>
<circle cx="271.8" cy="1559.3" r="3.5" fill="#CFCFCF"/>
<circle cx="269.4" cy="1564.2" r="3.5" fill="#D9D9D9"/>
<circle cx="268.5" cy="1569.6" r="3.5" fill="#C4C4C4"/>
<circle cx="268.2" cy="1574.6" r="3.5" fill="#D9D9D9"/>
<circle cx="270.9" cy="1579.1" r="3.5" fill="#D9D9D9"/>
<circle cx="273.5" cy="1582.9" r="3.5" fill="#CFCFCF"/>
<circle cx="278.3" cy="1579.4" r="3.5" fill="#D9D9D9"/>
<circle cx="273.4" cy="1585.7" r="3.5" fill="#C4C4C4"/>
<circle cx="280" cy="1592.1" r="3.5" fill="#D9D9D9"/>
<circle cx="279.3" cy="1599.1" r="3.5" fill="#D9D9D9"/>
<circle cx="280.7" cy="1597.7" r="3.5" fill="#C4C4C4"/>
<circle cx="283.6" cy="1605.5" r="3.5" fill="#D9D9D9"/>
<circle cx="285.3" cy="1606.9" r="3.5" fill="#CFCFCF"/>
<circle cx="280.7" cy="1555.8" r="3.5" fill="#D9D9D9"/>
<circle cx="280.8" cy="1561.6" r="3.5" fill="#CFCFCF"/>
<circle cx="287.1" cy="1566.8" r="3.5" fill="#CFCFCF"/>
<circle cx="282.9" cy="1573.5" r="3.5" fill="#D9D9D9"/>
<circle cx="277.8" cy="1576.5" r="3.5" fill="#D9D9D9"/>
<circle cx="288.6" cy="1582.1" r="3.5" fill="#CFCFCF"/>
<circle cx="295.8" cy="1585.1" r="3.5" fill="#D9D9D9"/>
<circle cx="291.4" cy="1591.1" r="3.5" fill="#CFCFCF"/>
<circle cx="297" cy="1596.6" r="3.5" fill="#D9D9D9"/>
<circle cx="302.1" cy="1600.5" r="3.5" fill="#D9D9D9"/>
<circle cx="290.7" cy="1569" r="3.5" fill="#D6D6D6"/>
<circle cx="293.6" cy="1568.4" r="3.5" fill="#C8C8C8"/>
<circle cx="293.5" cy="1571.7" r="3.5" fill="#D6D6D6"/>
<circle cx="295.7" cy="1580.7" r="3.5" fill="#C8C8C8"/>
<circle cx="302.3" cy="1583" r="3.5" fill="#D6D6D6"/>
<circle cx="299.5" cy="1587.8" r="3.5" fill="#C8C8C8"/>
<circle cx="305.6" cy="1586.6" r="3.5" fill="#D6D6D6"/>
<circle cx="309" cy="1597" r="3.5" fill="#C8C8C8"/>
<circle cx="311" cy="1601.9" r="3.5" fill="#D6D6D6"/>
<circle cx="307.8" cy="1608.6" r="3.5" fill="#D6D6D6"/>
<circle cx="308.2" cy="1574.3" r="3.5" fill="#C8C8C8"/>
<circle cx="310.8" cy="1578.8" r="3.5" fill="#D6D6D6"/>
<circle cx="312.5" cy="1585.3" r="3.5" fill="#D6D6D6"/>
<circle cx="315.1" cy="1588.5" r="3.5" fill="#D6D6D6"/>
<circle cx="317.6" cy="1590.2" r="3.5" fill="#D6D6D6"/>
<circle cx="321.7" cy="1598" r="3.5" fill="#C8C8C8"/>
<circle cx="320.8" cy="1601" r="3.5" fill="#D6D6D6"/>
<circle cx="324" cy="1604.9" r="3.5" fill="#D6D6D6"/>
<circle cx="325.9" cy="1606.8" r="3.5" fill="#D6D6D6"/>
<circle cx="331.8" cy="1610.6" r="3.5" fill="#C8C8C8"/>
<circle cx="285.8" cy="1612.7" r="3.5" fill="#C0C0C0"/>
<circle cx="293.2" cy="1613.1" r="3.5" fill="#C0C0C0"/>
<circle cx="295.1" cy="1611.2" r="3.5" fill="#C0C0C0"/>
<circle cx="296.7" cy="1612.1" r="3.5" fill="#C0C0C0"/>
<circle cx="298.3" cy="1615.3" r="3.5" fill="#D3D3D3"/>
<circle cx="302.6" cy="1614.2" r="3.5" fill="#D3D3D3"/>
<circle cx="306.6" cy="1614.4" r="3.5" fill="#D3D3D3"/>
<circle cx="308.5" cy="1614.6" r="3.5" fill="#CBCBCB"/>
<circle cx="308.4" cy="1614.4" r="3.5" fill="#CBCBCB"/>
<circle cx="311.8" cy="1615" r="3.5" fill="#CBCBCB"/>
<circle cx="316" cy="1614.7" r="3.5" fill="#D3D3D3"/>
<circle cx="320.2" cy="1614.8" r="3.5" fill="#D3D3D3"/>
<circle cx="321.8" cy="1617.5" r="3.5" fill="#D3D3D3"/>
<circle cx="324.1" cy="1611.7" r="3.5" fill="#D3D3D3"/>
<circle cx="326.3" cy="1616.4" r="3.5" fill="#C0C0C0"/>
<circle cx="332" cy="1612.8" r="3.5" fill="#C0C0C0"/>
<circle cx="332.6" cy="1615.6" r="3.5" fill="#D3D3D3"/>
<circle cx="334.2" cy="1616.1" r="3.5" fill="#CBCBCB"/>
<circle cx="337.7" cy="1616.2" r="3.5" fill="#D3D3D3"/>
<circle cx="341.9" cy="1617.7" r="3.5" fill="#C0C0C0"/>
<circle cx="342.5" cy="1615.2" r="3.5" fill="#CBCBCB"/>
<circle cx="349.2" cy="1618" r="3.5" fill="#C0C0C0"/>
<circle cx="348.3" cy="1618" r="3.5" fill="#D3D3D3"/>
<circle cx="349.2" cy="1617.6" r="3.5" fill="#CBCBCB"/>
<circle cx="354.6" cy="1618.1" r="3.5" fill="#C0C0C0"/>
<circle cx="358.4" cy="1619.8" r="3.5" fill="#C0C0C0"/>
<circle cx="360" cy="1617.5" r="3.5" fill="#D3D3D3"/>
<circle cx="361.4" cy="1617.2" r="3.5" fill="#CBCBCB"/>
<circle cx="365.5" cy="1619.9" r="3.5" fill="#D3D3D3"/>
<circle cx="366.8" cy="1618.8" r="3.5" fill="#C0C0C0"/>
<circle cx="372.6" cy="1616.3" r="3.5" fill="#C0C0C0"/>
<circle cx="374.1" cy="1618.7" r="3.5" fill="#C0C0C0"/>
<circle cx="376.9" cy="1618" r="3.5" fill="#D3D3D3"/>
<circle cx="378.4" cy="1618.7" r="3.5" fill="#C0C0C0"/>
<circle cx="332.8" cy="1593.8" r="3.5" fill="#CFCFCF"/>
<circle cx="335.9" cy="1596.6" r="3.5" fill="#CFCFCF"/>
<circle cx="338.1" cy="1600" r="3.5" fill="#CFCFCF"/>
<circle cx="340.9" cy="1601.8" r="3.5" fill="#CFCFCF"/>
<circle cx="344.3" cy="1606" r="3.5" fill="#CFCFCF"/>
<circle cx="346.1" cy="1606.9" r="3.5" fill="#CFCFCF"/>
<circle cx="268.3" cy="1342.2" r="3.5" fill="#D6D6D6"/>
<circle cx="275.5" cy="1490.5" r="3.5" fill="#D6D6D6"/>
<circle cx="379.2" cy="1467.5" r="3.5" fill="#D6D6D6"/>
<circle cx="380.7" cy="1504.9" r="3.5" fill="#D6D6D6"/>
<circle cx="382.1" cy="1541.5" r="3.5" fill="#D6D6D6"/>
<circle cx="385" cy="1578.3" r="3.5" fill="#D6D6D6"/>
<circle cx="297.1" cy="1566.8" r="3.5" fill="#D6D6D6"/>
<circle cx="292.8" cy="1538" r="3.5" fill="#D6D6D6"/>
<line x1="285.6" y1="1379.6" x2="277.8" y2="1402.6" stroke="#D55E00" stroke-width="1.3"/>
<line x1="313" y1="1427.1" x2="290.5" y2="1549.5" stroke="#D55E00" stroke-width="1.3"/>
<line x1="289.9" y1="1468.9" x2="281.3" y2="1512.1" stroke="#D55E00" stroke-width="1.3"/>
<line x1="282.7" y1="1535.1" x2="285.6" y2="1599.9" stroke="#D55E00" stroke-width="1.3"/>
<line x1="379.2" y1="1451.6" x2="288.5" y2="1608.6" stroke="#D55E00" stroke-width="1.3"/>
<line x1="310.1" y1="1487.6" x2="287.1" y2="1599.9" stroke="#D55E00" stroke-width="1.3"/>
<line x1="417.5" y1="1486.2" x2="332.6" y2="1579.8" stroke="#D55E00" stroke-width="1.3"/>
<line x1="344.1" y1="1522.2" x2="308.7" y2="1589.9" stroke="#000" stroke-width="1.3"/>
<line x1="333.1" y1="1572" x2="315.3" y2="1603.7" stroke="#D55E00" stroke-width="1.3"/>
<line x1="416.1" y1="1561.1" x2="338.3" y2="1600.8" stroke="#D55E00" stroke-width="1.3"/>
<line x1="361.4" y1="1608.6" x2="353.3" y2="1608.6" stroke="#000" stroke-width="1.3"/>
<line x1="457.6" y1="1613.5" x2="358.5" y2="1610" stroke="#D55E00" stroke-width="1.3"/>
<line x1="292.8" y1="1427.1" x2="285.6" y2="1599.9" stroke="#D55E00" stroke-width="1.3"/>
<line x1="304.3" y1="1427.1" x2="288.5" y2="1608.6" stroke="#D55E00" stroke-width="1.3"/>
<circle cx="269.8" cy="1436.6" r="4.2" fill="#D55E00"/>
<circle cx="275" cy="1545.2" r="4.2" fill="#D55E00"/>
<circle cx="290.5" cy="1550.1" r="4.2" fill="#D55E00"/>
<circle cx="285.6" cy="1600" r="4.2" fill="#D55E00"/>
<circle cx="287" cy="1606" r="4.2" fill="#D55E00"/>
<circle cx="288.5" cy="1608.6" r="4.2" fill="#D55E00"/>
<circle cx="315.3" cy="1603.7" r="4.2" fill="#D55E00"/>
<circle cx="332.6" cy="1579.8" r="4.2" fill="#D55E00"/>
<circle cx="338.3" cy="1600.8" r="4.2" fill="#D55E00"/>
<circle cx="358.5" cy="1610" r="4.2" fill="#D55E00"/>
<circle cx="308.7" cy="1589.9" r="4.2" fill="#000"/>
<circle cx="353.3" cy="1608.6" r="4.2" fill="#000"/>
<line x1="255.4" y1="1330.6" x2="255.4" y2="1634" stroke="#000" stroke-width="1.9"/>
<line x1="254.5" y1="1633" x2="566.4" y2="1633" stroke="#000" stroke-width="1.9"/>
<text x="249.6" y="1398.4" font-size="18.8" text-anchor="end" fill="#4D4D4D">1e−100</text>
<line x1="250.4" y1="1391.7" x2="255.4" y2="1391.7" stroke="#333" stroke-width="1.9"/>
<text x="249.6" y="1449.1" font-size="18.8" text-anchor="end" fill="#4D4D4D">1e−78</text>
<line x1="250.4" y1="1442.4" x2="255.4" y2="1442.4" stroke="#333" stroke-width="1.9"/>
<text x="249.6" y="1500.1" font-size="18.8" text-anchor="end" fill="#4D4D4D">1e−56</text>
<line x1="250.4" y1="1493.4" x2="255.4" y2="1493.4" stroke="#333" stroke-width="1.9"/>
<text x="249.6" y="1551.1" font-size="18.8" text-anchor="end" fill="#4D4D4D">1e−34</text>
<line x1="250.4" y1="1544.4" x2="255.4" y2="1544.4" stroke="#333" stroke-width="1.9"/>
<text x="249.6" y="1601.5" font-size="18.8" text-anchor="end" fill="#4D4D4D">1e−12</text>
<line x1="250.4" y1="1594.8" x2="255.4" y2="1594.8" stroke="#333" stroke-width="1.9"/>
<line x1="268.3" y1="1633" x2="268.3" y2="1638" stroke="#333" stroke-width="1.9"/>
<text x="268.3" y="1651.8" font-size="18.8" text-anchor="middle" fill="#4D4D4D">0</text>
<line x1="361.4" y1="1633" x2="361.4" y2="1638" stroke="#333" stroke-width="1.9"/>
<text x="361.4" y="1651.8" font-size="18.8" text-anchor="middle" fill="#4D4D4D">100</text>
<line x1="455" y1="1633" x2="455" y2="1638" stroke="#333" stroke-width="1.9"/>
<text x="455" y="1651.8" font-size="18.8" text-anchor="middle" fill="#4D4D4D">200</text>
<line x1="548.3" y1="1633" x2="548.3" y2="1638" stroke="#333" stroke-width="1.9"/>
<text x="548.3" y="1651.8" font-size="18.8" text-anchor="middle" fill="#4D4D4D">300</text>
<text x="412.9" y="1674.8" font-size="22.6" text-anchor="middle">Rank</text>
<text x="182.2" y="1471.8" font-size="22.6" text-anchor="middle" transform="rotate(-90 182.2 1471.8)">Minimum HSIC−IR p−value</text>
<rect x="261.1" y="1355.1" width="49" height="23.9" fill="#fff" stroke="#D55E00" stroke-width="1.1" rx="3"/>
<text x="285.6" y="1373.2" font-size="17.7" text-anchor="middle" fill="#D55E00" font-style="italic">B2M</text>
<rect x="261.1" y="1404.1" width="106" height="23" fill="#fff" stroke="#D55E00" stroke-width="1.1" rx="3"/>
<text x="314.1" y="1421.3" font-size="17.7" text-anchor="middle" fill="#D55E00" font-style="italic">HLA−DRB1</text>
<rect x="261.7" y="1445.9" width="58.5" height="23" fill="#fff" stroke="#D55E00" stroke-width="1.1" rx="3"/>
<text x="290.9" y="1463.1" font-size="17.7" text-anchor="middle" fill="#D55E00" font-style="italic">CD74</text>
<rect x="379.2" y="1436.6" width="71.2" height="23.7" fill="#fff" stroke="#D55E00" stroke-width="1.1" rx="3"/>
<text x="414.8" y="1454.5" font-size="17.7" text-anchor="middle" fill="#D55E00" font-style="italic">HLA−C</text>
<rect x="310.1" y="1473.2" width="95.6" height="24.5" fill="#fff" stroke="#D55E00" stroke-width="1.1" rx="3"/>
<text x="357.9" y="1491.9" font-size="17.7" text-anchor="middle" fill="#D55E00" font-style="italic">HLA−DRA</text>
<rect x="417.5" y="1473.2" width="70.6" height="24.5" fill="#fff" stroke="#D55E00" stroke-width="1.1" rx="3"/>
<text x="452.8" y="1491.9" font-size="17.7" text-anchor="middle" fill="#D55E00" font-style="italic">HLA−B</text>
<rect x="261.1" y="1512.1" width="69.7" height="23" fill="#fff" stroke="#D55E00" stroke-width="1.1" rx="3"/>
<text x="296" y="1529.3" font-size="17.7" text-anchor="middle" fill="#D55E00" font-style="italic">HLA−A</text>
<rect x="344.1" y="1510.7" width="104.2" height="24.4" fill="#fff" stroke="#000" stroke-width="1.1" rx="3"/>
<text x="396.2" y="1529.3" font-size="17.7" text-anchor="middle" font-style="italic">HSP90AB1</text>
<rect x="299.1" y="1548.1" width="105.5" height="23.9" fill="#fff" stroke="#D55E00" stroke-width="1.1" rx="3"/>
<text x="351.9" y="1566.2" font-size="17.7" text-anchor="middle" fill="#D55E00" font-style="italic">HLA−DPB1</text>
<rect x="416.1" y="1548.1" width="60.5" height="23.9" fill="#fff" stroke="#D55E00" stroke-width="1.1" rx="3"/>
<text x="446.4" y="1566.2" font-size="17.7" text-anchor="middle" fill="#D55E00" font-style="italic">CALR</text>
<rect x="361.4" y="1585" width="104.2" height="23.6" fill="#fff" stroke="#000" stroke-width="1.1" rx="3"/>
<text x="413.5" y="1602.8" font-size="17.7" text-anchor="middle" font-style="italic">HSP90AA1</text>
<rect x="457.6" y="1602" width="103.1" height="23.9" fill="#fff" stroke="#D55E00" stroke-width="1.1" rx="3"/>
<text x="509.2" y="1620.1" font-size="17.7" text-anchor="middle" fill="#D55E00" font-style="italic">HLA−DPA1</text>
<text x="418.1" y="1363.2" font-size="22.6">Disease specific</text>
<text x="432.5" y="1395.4" font-size="20" text-anchor="middle" font-style="italic">a</text>
<text x="455.5" y="1395.4" font-size="18.8">FALSE</text>
<text x="432.5" y="1422.8" font-size="20" text-anchor="middle" fill="#D55E00" font-style="italic">a</text>
<text x="455.5" y="1422.8" font-size="18.8">TRUE</text>
<text x="719.5" y="1281.8" font-size="30" font-weight="bold">g</text>
<text x="1014" y="1291.8" font-size="22.6" text-anchor="middle">Bacterial invasion of epithelial cells −</text>
<text x="1001" y="1311.9" font-size="22.6" text-anchor="middle">hsa05100 (SR)</text>
<text x="1246.5" y="1291.8" font-size="22.6">Viral carcinogenesis − hsa05203 (SR)</text>
<text x="1697.9" y="1291.8" font-size="22.6">Endocytosis − hsa04144 (SR)</text>
<use href="#srcloud" transform="translate(846.9 1327.8)"/>
<line x1="863.9" y1="1565.9" x2="863.9" y2="1483.4" stroke="#000" stroke-width="1.7"/>
<line x1="897" y1="1600.5" x2="916.6" y2="1483.4" stroke="#000" stroke-width="1.7"/>
<line x1="863.9" y1="1563.5" x2="863.9" y2="1508.8" stroke="#000" stroke-width="1.7"/>
<line x1="901.6" y1="1606" x2="929.5" y2="1508.8" stroke="#D55E00" stroke-width="1.7"/>
<line x1="921.3" y1="1607.7" x2="986.6" y2="1502.1" stroke="#000" stroke-width="1.7"/>
<line x1="933.4" y1="1612.2" x2="987.1" y2="1528" stroke="#D55E00" stroke-width="1.7"/>
<line x1="883.2" y1="1588.8" x2="889.2" y2="1534.7" stroke="#000" stroke-width="1.7"/>
<line x1="863.9" y1="1565.1" x2="863.9" y2="1560.6" stroke="#000" stroke-width="1.7"/>
<line x1="887.7" y1="1598.4" x2="915.1" y2="1560.6" stroke="#D55E00" stroke-width="1.7"/>
<line x1="922.9" y1="1608.1" x2="964.1" y2="1552.5" stroke="#D55E00" stroke-width="1.7"/>
<line x1="950.4" y1="1614.4" x2="1047" y2="1551.1" stroke="#D55E00" stroke-width="1.7"/>
<line x1="880.3" y1="1588.1" x2="880.3" y2="1587.1" stroke="#D55E00" stroke-width="1.7"/>
<line x1="917.4" y1="1609.2" x2="975" y2="1577" stroke="#D55E00" stroke-width="1.7"/>
<line x1="943.2" y1="1612" x2="1032.6" y2="1577" stroke="#D55E00" stroke-width="1.7"/>
<line x1="980" y1="1615.3" x2="1093.1" y2="1577" stroke="#D55E00" stroke-width="1.7"/>
<line x1="898.5" y1="1601.2" x2="936.7" y2="1603" stroke="#000" stroke-width="1.7"/>
<line x1="941.5" y1="1613.2" x2="1023.1" y2="1603" stroke="#D55E00" stroke-width="1.7"/>
<line x1="980.8" y1="1612.4" x2="1099.5" y2="1603" stroke="#D55E00" stroke-width="1.7"/>
<line x1="947.6" y1="1614.3" x2="1015.4" y2="1611" stroke="#D55E00" stroke-width="1.7"/>
<line x1="973.5" y1="1613.3" x2="1073.5" y2="1611" stroke="#D55E00" stroke-width="1.7"/>
<circle cx="863.9" cy="1565.9" r="3.9" fill="#000"/>
<circle cx="897" cy="1600.5" r="3.9" fill="#000"/>
<circle cx="863.9" cy="1563.5" r="3.9" fill="#000"/>
<circle cx="901.6" cy="1606" r="3.9" fill="#D55E00"/>
<circle cx="921.3" cy="1607.7" r="3.9" fill="#000"/>
<circle cx="933.4" cy="1612.2" r="3.9" fill="#D55E00"/>
<circle cx="883.2" cy="1588.8" r="3.9" fill="#000"/>
<circle cx="863.9" cy="1565.1" r="3.9" fill="#000"/>
<circle cx="887.7" cy="1598.4" r="3.9" fill="#D55E00"/>
<circle cx="922.9" cy="1608.1" r="3.9" fill="#D55E00"/>
<circle cx="950.4" cy="1614.4" r="3.9" fill="#D55E00"/>
<circle cx="880.3" cy="1588.1" r="3.9" fill="#D55E00"/>
<circle cx="917.4" cy="1609.2" r="3.9" fill="#D55E00"/>
<circle cx="943.2" cy="1612" r="3.9" fill="#D55E00"/>
<circle cx="980" cy="1615.3" r="3.9" fill="#D55E00"/>
<circle cx="898.5" cy="1601.2" r="3.9" fill="#000"/>
<circle cx="941.5" cy="1613.2" r="3.9" fill="#D55E00"/>
<circle cx="980.8" cy="1612.4" r="3.9" fill="#D55E00"/>
<circle cx="947.6" cy="1614.3" r="3.9" fill="#D55E00"/>
<circle cx="973.5" cy="1613.3" r="3.9" fill="#D55E00"/>
<line x1="846.9" y1="1327.8" x2="846.9" y2="1631.1" stroke="#000" stroke-width="1.9"/>
<line x1="845.9" y1="1630.2" x2="1157.9" y2="1630.2" stroke="#000" stroke-width="1.9"/>
<text x="841.1" y="1505" font-size="18.8" text-anchor="end" fill="#4D4D4D">1e−100</text>
<line x1="841.9" y1="1498.3" x2="846.9" y2="1498.3" stroke="#333" stroke-width="1.9"/>
<text x="841.1" y="1532.6" font-size="18.8" text-anchor="end" fill="#4D4D4D">1e−77</text>
<line x1="841.9" y1="1525.9" x2="846.9" y2="1525.9" stroke="#333" stroke-width="1.9"/>
<text x="841.1" y="1560" font-size="18.8" text-anchor="end" fill="#4D4D4D">1e−54</text>
<line x1="841.9" y1="1553.3" x2="846.9" y2="1553.3" stroke="#333" stroke-width="1.9"/>
<text x="841.1" y="1587.9" font-size="18.8" text-anchor="end" fill="#4D4D4D">1e−31</text>
<line x1="841.9" y1="1581.2" x2="846.9" y2="1581.2" stroke="#333" stroke-width="1.9"/>
<text x="841.1" y="1615.9" font-size="18.8" text-anchor="end" fill="#4D4D4D">1e−08</text>
<line x1="841.9" y1="1609.2" x2="846.9" y2="1609.2" stroke="#333" stroke-width="1.9"/>
<line x1="860.7" y1="1630.2" x2="860.7" y2="1635.2" stroke="#333" stroke-width="1.9"/>
<text x="860.7" y="1650.7" font-size="18.8" text-anchor="middle" fill="#4D4D4D">0</text>
<line x1="960.7" y1="1630.2" x2="960.7" y2="1635.2" stroke="#333" stroke-width="1.9"/>
<text x="960.7" y="1650.7" font-size="18.8" text-anchor="middle" fill="#4D4D4D">1000</text>
<line x1="1061.5" y1="1630.2" x2="1061.5" y2="1635.2" stroke="#333" stroke-width="1.9"/>
<text x="1061.5" y="1650.7" font-size="18.8" text-anchor="middle" fill="#4D4D4D">2000</text>
<text x="1004.4" y="1672.2" font-size="22.6" text-anchor="middle">Rank</text>
<text x="773.7" y="1471.8" font-size="22.6" text-anchor="middle" transform="rotate(-90 773.7 1471.8)">Minimum HSIC−IR p−value</text>
<text x="854" y="1480.4" font-size="17.6" font-style="italic">RAC1</text>
<text x="914.6" y="1480.4" font-size="17.6" font-style="italic">ACTR2</text>
<text x="854" y="1505.8" font-size="17.6" font-style="italic">CDC42</text>
<text x="927.5" y="1505.8" font-size="17.6" fill="#D55E00" font-style="italic">CAV1</text>
<text x="984.6" y="1499.1" font-size="17.6" font-style="italic">ARPC5</text>
<text x="985.1" y="1525" font-size="17.6" fill="#D55E00" font-style="italic">CTTN</text>
<text x="887.2" y="1531.7" font-size="17.6" font-style="italic">SEPTIN8</text>
<text x="854" y="1557.6" font-size="17.6" font-style="italic">SEPTIN11</text>
<text x="913.1" y="1557.6" font-size="17.6" fill="#D55E00" font-style="italic">ACTR3</text>
<text x="962.1" y="1549.5" font-size="17.6" fill="#D55E00" font-style="italic">ARPC5L</text>
<text x="1045" y="1548.1" font-size="17.6" fill="#D55E00" font-style="italic">CTNNB1</text>
<text x="875.7" y="1584.1" font-size="17.6" fill="#D55E00" font-style="italic">PIK3R1</text>
<text x="973" y="1574" font-size="17.6" fill="#D55E00" font-style="italic">ACTB</text>
<text x="1030.6" y="1574" font-size="17.6" fill="#D55E00" font-style="italic">DNM3</text>
<text x="1091.1" y="1574" font-size="17.6" fill="#D55E00" font-style="italic">DOCK1</text>
<text x="934.7" y="1600" font-size="17.6" font-style="italic">SEPTIN2</text>
<text x="1021.1" y="1600" font-size="17.6" fill="#D55E00" font-style="italic">ARHGEF26</text>
<text x="1097.5" y="1600" font-size="17.6" fill="#D55E00" font-style="italic">ARPC4</text>
<text x="1013.4" y="1623" font-size="17.6" fill="#D55E00" font-style="italic">CLTC</text>
<text x="1071.5" y="1623" font-size="17.6" fill="#D55E00" font-style="italic">WASF2</text>
<text x="998.1" y="1345" font-size="22.6">Disease specific</text>
<text x="1024" y="1376.7" font-size="20" text-anchor="middle" font-style="italic">a</text>
<text x="1047" y="1376.7" font-size="18.8">FALSE</text>
<text x="1024" y="1405.5" font-size="20" text-anchor="middle" fill="#D55E00" font-style="italic">a</text>
<text x="1047" y="1405.5" font-size="18.8">TRUE</text>
<use href="#srcloud" transform="translate(1263.8 1327.8)"/>
<line x1="1286.7" y1="1577.4" x2="1286.7" y2="1476.2" stroke="#000" stroke-width="1.7"/>
<line x1="1302.3" y1="1591.3" x2="1332.9" y2="1476.2" stroke="#000" stroke-width="1.7"/>
<line x1="1332.6" y1="1610.7" x2="1368.6" y2="1476.2" stroke="#D55E00" stroke-width="1.7"/>
<line x1="1282.1" y1="1565.3" x2="1282.1" y2="1500.7" stroke="#000" stroke-width="1.7"/>
<line x1="1314.9" y1="1603.1" x2="1340.6" y2="1500.7" stroke="#D55E00" stroke-width="1.7"/>
<line x1="1353.4" y1="1610.9" x2="1418.4" y2="1500.7" stroke="#D55E00" stroke-width="1.7"/>
<line x1="1380.2" y1="1614.2" x2="1476.9" y2="1500.7" stroke="#D55E00" stroke-width="1.7"/>
<line x1="1283" y1="1571.1" x2="1283" y2="1525.2" stroke="#000" stroke-width="1.7"/>
<line x1="1318.2" y1="1604.4" x2="1336.3" y2="1525.2" stroke="#000" stroke-width="1.7"/>
<line x1="1343" y1="1610.1" x2="1402" y2="1525.2" stroke="#000" stroke-width="1.7"/>
<line x1="1374.5" y1="1611.7" x2="1478" y2="1525.2" stroke="#000" stroke-width="1.7"/>
<line x1="1280.8" y1="1562.7" x2="1280.8" y2="1558.3" stroke="#000" stroke-width="1.7"/>
<line x1="1307.4" y1="1600.2" x2="1332.9" y2="1552.5" stroke="#D55E00" stroke-width="1.7"/>
<line x1="1329.5" y1="1608.7" x2="1372.3" y2="1552.5" stroke="#000" stroke-width="1.7"/>
<line x1="1360.1" y1="1610.8" x2="1442.9" y2="1552.5" stroke="#D55E00" stroke-width="1.7"/>
<line x1="1396.4" y1="1613.1" x2="1512.6" y2="1552.5" stroke="#000" stroke-width="1.7"/>
<line x1="1280.8" y1="1566.8" x2="1280.8" y2="1572.1" stroke="#D55E00" stroke-width="1.7"/>
<line x1="1317.4" y1="1601.9" x2="1343.5" y2="1575" stroke="#D55E00" stroke-width="1.7"/>
<line x1="1354.1" y1="1614.8" x2="1409.8" y2="1575" stroke="#D55E00" stroke-width="1.7"/>
<line x1="1375" y1="1617" x2="1456.7" y2="1575" stroke="#000" stroke-width="1.7"/>
<line x1="1408.9" y1="1617.2" x2="1523.5" y2="1575" stroke="#D55E00" stroke-width="1.7"/>
<line x1="1317.4" y1="1606.6" x2="1353.6" y2="1601.5" stroke="#D55E00" stroke-width="1.7"/>
<line x1="1354.4" y1="1611" x2="1408.3" y2="1601.5" stroke="#D55E00" stroke-width="1.7"/>
<line x1="1372" y1="1615.7" x2="1450" y2="1601.5" stroke="#D55E00" stroke-width="1.7"/>
<line x1="1394" y1="1615.4" x2="1503.4" y2="1601.5" stroke="#D55E00" stroke-width="1.7"/>
<line x1="1280.8" y1="1566.3" x2="1280.8" y2="1611" stroke="#D55E00" stroke-width="1.7"/>
<line x1="1283.9" y1="1571.9" x2="1283.9" y2="1611" stroke="#D55E00" stroke-width="1.7"/>
<line x1="1357.7" y1="1615.7" x2="1434.3" y2="1611" stroke="#D55E00" stroke-width="1.7"/>
<line x1="1398.8" y1="1615.1" x2="1499.1" y2="1611" stroke="#D55E00" stroke-width="1.7"/>
<circle cx="1286.7" cy="1577.4" r="3.9" fill="#000"/>
<circle cx="1302.3" cy="1591.3" r="3.9" fill="#000"/>
<circle cx="1332.6" cy="1610.7" r="3.9" fill="#D55E00"/>
<circle cx="1282.1" cy="1565.3" r="3.9" fill="#000"/>
<circle cx="1314.9" cy="1603.1" r="3.9" fill="#D55E00"/>
<circle cx="1353.4" cy="1610.9" r="3.9" fill="#D55E00"/>
<circle cx="1380.2" cy="1614.2" r="3.9" fill="#D55E00"/>
<circle cx="1283" cy="1571.1" r="3.9" fill="#000"/>
<circle cx="1318.2" cy="1604.4" r="3.9" fill="#000"/>
<circle cx="1343" cy="1610.1" r="3.9" fill="#000"/>
<circle cx="1374.5" cy="1611.7" r="3.9" fill="#000"/>
<circle cx="1280.8" cy="1562.7" r="3.9" fill="#000"/>
<circle cx="1307.4" cy="1600.2" r="3.9" fill="#D55E00"/>
<circle cx="1329.5" cy="1608.7" r="3.9" fill="#000"/>
<circle cx="1360.1" cy="1610.8" r="3.9" fill="#D55E00"/>
<circle cx="1396.4" cy="1613.1" r="3.9" fill="#000"/>
<circle cx="1280.8" cy="1566.8" r="3.9" fill="#D55E00"/>
<circle cx="1317.4" cy="1601.9" r="3.9" fill="#D55E00"/>
<circle cx="1354.1" cy="1614.8" r="3.9" fill="#D55E00"/>
<circle cx="1375" cy="1617" r="3.9" fill="#000"/>
<circle cx="1408.9" cy="1617.2" r="3.9" fill="#D55E00"/>
<circle cx="1317.4" cy="1606.6" r="3.9" fill="#D55E00"/>
<circle cx="1354.4" cy="1611" r="3.9" fill="#D55E00"/>
<circle cx="1372" cy="1615.7" r="3.9" fill="#D55E00"/>
<circle cx="1394" cy="1615.4" r="3.9" fill="#D55E00"/>
<circle cx="1280.8" cy="1566.3" r="3.9" fill="#D55E00"/>
<circle cx="1283.9" cy="1571.9" r="3.9" fill="#D55E00"/>
<circle cx="1357.7" cy="1615.7" r="3.9" fill="#D55E00"/>
<circle cx="1398.8" cy="1615.1" r="3.9" fill="#D55E00"/>
<line x1="1263.8" y1="1327.8" x2="1263.8" y2="1631.1" stroke="#000" stroke-width="1.9"/>
<line x1="1262.8" y1="1630.2" x2="1574.8" y2="1630.2" stroke="#000" stroke-width="1.9"/>
<text x="1258" y="1505" font-size="18.8" text-anchor="end" fill="#4D4D4D">1e−100</text>
<line x1="1258.8" y1="1498.3" x2="1263.8" y2="1498.3" stroke="#333" stroke-width="1.9"/>
<text x="1258" y="1532.6" font-size="18.8" text-anchor="end" fill="#4D4D4D">1e−77</text>
<line x1="1258.8" y1="1525.9" x2="1263.8" y2="1525.9" stroke="#333" stroke-width="1.9"/>
<text x="1258" y="1560" font-size="18.8" text-anchor="end" fill="#4D4D4D">1e−54</text>
<line x1="1258.8" y1="1553.3" x2="1263.8" y2="1553.3" stroke="#333" stroke-width="1.9"/>
<text x="1258" y="1587.9" font-size="18.8" text-anchor="end" fill="#4D4D4D">1e−31</text>
<line x1="1258.8" y1="1581.2" x2="1263.8" y2="1581.2" stroke="#333" stroke-width="1.9"/>
<text x="1258" y="1615.9" font-size="18.8" text-anchor="end" fill="#4D4D4D">1e−08</text>
<line x1="1258.8" y1="1609.2" x2="1263.8" y2="1609.2" stroke="#333" stroke-width="1.9"/>
<line x1="1277.6" y1="1630.2" x2="1277.6" y2="1635.2" stroke="#333" stroke-width="1.9"/>
<text x="1277.6" y="1650.7" font-size="18.8" text-anchor="middle" fill="#4D4D4D">0</text>
<line x1="1377.6" y1="1630.2" x2="1377.6" y2="1635.2" stroke="#333" stroke-width="1.9"/>
<text x="1377.6" y="1650.7" font-size="18.8" text-anchor="middle" fill="#4D4D4D">1000</text>
<line x1="1478.4" y1="1630.2" x2="1478.4" y2="1635.2" stroke="#333" stroke-width="1.9"/>
<text x="1478.4" y="1650.7" font-size="18.8" text-anchor="middle" fill="#4D4D4D">2000</text>
<text x="1421.3" y="1672.2" font-size="22.6" text-anchor="middle">Rank</text>
<text x="1190.6" y="1471.8" font-size="22.6" text-anchor="middle" transform="rotate(-90 1190.6 1471.8)">Minimum HSIC−IR p−value</text>
<text x="1271" y="1473.2" font-size="17.6" font-style="italic">RAC1</text>
<text x="1330.9" y="1473.2" font-size="17.6" font-style="italic">C3</text>
<text x="1366.6" y="1473.2" font-size="17.6" fill="#D55E00" font-style="italic">YWHAE</text>
<text x="1271" y="1497.7" font-size="17.6" font-style="italic">CDC42</text>
<text x="1338.6" y="1497.7" font-size="17.6" fill="#D55E00" font-style="italic">NFKBIA</text>
<text x="1416.4" y="1497.7" font-size="17.6" fill="#D55E00" font-style="italic">RBPJ</text>
<text x="1474.9" y="1497.7" font-size="17.6" fill="#D55E00" font-style="italic">CDK6</text>
<text x="1271" y="1522.2" font-size="17.6" font-style="italic">YWHAB</text>
<text x="1334.3" y="1522.2" font-size="17.6" font-style="italic">HDAC2</text>
<text x="1400" y="1522.2" font-size="17.6" font-style="italic">YWHAZ</text>
<text x="1476" y="1522.2" font-size="17.6" font-style="italic">HLA−E</text>
<text x="1271" y="1555.3" font-size="17.6" font-style="italic">ACTN4</text>
<text x="1330.9" y="1549.5" font-size="17.6" fill="#D55E00" font-style="italic">JUN</text>
<text x="1370.3" y="1549.5" font-size="17.6" font-style="italic">CDKN1B</text>
<text x="1440.9" y="1549.5" font-size="17.6" fill="#D55E00" font-style="italic">RPS18B</text>
<text x="1510.6" y="1549.5" font-size="17.6" font-style="italic">CREB5</text>
<text x="1271" y="1584.1" font-size="17.6" fill="#D55E00" font-style="italic">ACTN1</text>
<text x="1341.5" y="1572" font-size="17.6" fill="#D55E00" font-style="italic">EP300</text>
<text x="1407.8" y="1572" font-size="17.6" fill="#D55E00" font-style="italic">CHD4</text>
<text x="1454.7" y="1572" font-size="17.6" font-style="italic">HNRNPK</text>
<text x="1521.5" y="1572" font-size="17.6" fill="#D55E00" font-style="italic">UBE3A</text>
<text x="1351.6" y="1598.5" font-size="17.6" fill="#D55E00" font-style="italic">GRB2</text>
<text x="1406.3" y="1598.5" font-size="17.6" fill="#D55E00" font-style="italic">SCIN</text>
<text x="1448" y="1598.5" font-size="17.6" fill="#D55E00" font-style="italic">CREBBP</text>
<text x="1501.4" y="1598.5" font-size="17.6" fill="#D55E00" font-style="italic">GTF2H2C</text>
<text x="1271" y="1623" font-size="17.6" fill="#D55E00" font-style="italic">PIK3CB</text>
<text x="1280" y="1623" font-size="17.6" fill="#D55E00" font-style="italic">CCND1</text>
<text x="1432.3" y="1623" font-size="17.6" fill="#D55E00" font-style="italic">STAT3</text>
<text x="1497.1" y="1623" font-size="17.6" fill="#D55E00" font-style="italic">GTF2H3</text>
<text x="1415" y="1345" font-size="22.6">Disease specific</text>
<text x="1440.9" y="1376.7" font-size="20" text-anchor="middle" font-style="italic">a</text>
<text x="1463.9" y="1376.7" font-size="18.8">FALSE</text>
<text x="1440.9" y="1405.5" font-size="20" text-anchor="middle" fill="#D55E00" font-style="italic">a</text>
<text x="1463.9" y="1405.5" font-size="18.8">TRUE</text>
<use href="#srcloud" transform="translate(1680.6 1327.8)"/>
<line x1="1697.6" y1="1564.1" x2="1697.6" y2="1448.9" stroke="#000" stroke-width="1.7"/>
<line x1="1732" y1="1603.3" x2="1765.6" y2="1448.9" stroke="#000" stroke-width="1.7"/>
<line x1="1765.9" y1="1609.8" x2="1825.2" y2="1448.9" stroke="#D55E00" stroke-width="1.7"/>
<line x1="1790.3" y1="1616.5" x2="1893.5" y2="1448.9" stroke="#D55E00" stroke-width="1.7"/>
<line x1="1697.6" y1="1562.2" x2="1697.6" y2="1474.2" stroke="#000" stroke-width="1.7"/>
<line x1="1732.2" y1="1602.6" x2="1746" y2="1474.2" stroke="#000" stroke-width="1.7"/>
<line x1="1755.6" y1="1610.6" x2="1797.9" y2="1474.2" stroke="#D55E00" stroke-width="1.7"/>
<line x1="1778.1" y1="1611.6" x2="1849.1" y2="1474.2" stroke="#D55E00" stroke-width="1.7"/>
<line x1="1812.2" y1="1617.5" x2="1917.4" y2="1474.2" stroke="#D55E00" stroke-width="1.7"/>
<line x1="1697.6" y1="1565.2" x2="1697.6" y2="1499.3" stroke="#D55E00" stroke-width="1.7"/>
<line x1="1734.2" y1="1601.2" x2="1760.4" y2="1499.3" stroke="#D55E00" stroke-width="1.7"/>
<line x1="1765.2" y1="1612.9" x2="1819.5" y2="1499.3" stroke="#D55E00" stroke-width="1.7"/>
<line x1="1793.1" y1="1611.8" x2="1890" y2="1499.3" stroke="#D55E00" stroke-width="1.7"/>
<line x1="1726.5" y1="1599.3" x2="1738.8" y2="1525.2" stroke="#000" stroke-width="1.7"/>
<line x1="1742.2" y1="1609.3" x2="1774.8" y2="1525.2" stroke="#D55E00" stroke-width="1.7"/>
<line x1="1775.2" y1="1616" x2="1841" y2="1525.2" stroke="#D55E00" stroke-width="1.7"/>
<line x1="1794.6" y1="1616.5" x2="1890" y2="1525.2" stroke="#D55E00" stroke-width="1.7"/>
<line x1="1821.4" y1="1618" x2="1941.9" y2="1525.2" stroke="#D55E00" stroke-width="1.7"/>
<line x1="1701.6" y1="1569" x2="1701.6" y2="1536.7" stroke="#000" stroke-width="1.7"/>
<line x1="1724.2" y1="1596.2" x2="1757.5" y2="1551.1" stroke="#000" stroke-width="1.7"/>
<line x1="1768.5" y1="1612.4" x2="1819.5" y2="1551.1" stroke="#000" stroke-width="1.7"/>
<line x1="1791.1" y1="1613.4" x2="1875.6" y2="1551.1" stroke="#D55E00" stroke-width="1.7"/>
<line x1="1815.2" y1="1614.6" x2="1927.5" y2="1551.1" stroke="#D55E00" stroke-width="1.7"/>
<line x1="1697.6" y1="1564.3" x2="1697.6" y2="1561.8" stroke="#000" stroke-width="1.7"/>
<line x1="1753" y1="1612.6" x2="1800.7" y2="1575.6" stroke="#D55E00" stroke-width="1.7"/>
<line x1="1780.5" y1="1616.5" x2="1852.6" y2="1575.6" stroke="#D55E00" stroke-width="1.7"/>
<line x1="1817.2" y1="1618.3" x2="1920.3" y2="1575.6" stroke="#D55E00" stroke-width="1.7"/>
<line x1="1712.6" y1="1585.3" x2="1717.2" y2="1587.1" stroke="#D55E00" stroke-width="1.7"/>
<line x1="1740.2" y1="1609.1" x2="1766.2" y2="1601.5" stroke="#D55E00" stroke-width="1.7"/>
<line x1="1771.1" y1="1613.5" x2="1826.7" y2="1601.5" stroke="#D55E00" stroke-width="1.7"/>
<line x1="1797.6" y1="1613.1" x2="1885.7" y2="1601.5" stroke="#D55E00" stroke-width="1.7"/>
<line x1="1824" y1="1615.9" x2="1934.7" y2="1601.5" stroke="#D55E00" stroke-width="1.7"/>
<line x1="1697.6" y1="1561.2" x2="1697.6" y2="1611" stroke="#D55E00" stroke-width="1.7"/>
<line x1="1708" y1="1584.4" x2="1708" y2="1611" stroke="#D55E00" stroke-width="1.7"/>
<line x1="1770.3" y1="1614.8" x2="1851.1" y2="1611" stroke="#D55E00" stroke-width="1.7"/>
<line x1="1805" y1="1613" x2="1910.2" y2="1611" stroke="#D55E00" stroke-width="1.7"/>
<circle cx="1697.6" cy="1564.1" r="3.9" fill="#000"/>
<circle cx="1732" cy="1603.3" r="3.9" fill="#000"/>
<circle cx="1765.9" cy="1609.8" r="3.9" fill="#D55E00"/>
<circle cx="1790.3" cy="1616.5" r="3.9" fill="#D55E00"/>
<circle cx="1697.6" cy="1562.2" r="3.9" fill="#000"/>
<circle cx="1732.2" cy="1602.6" r="3.9" fill="#000"/>
<circle cx="1755.6" cy="1610.6" r="3.9" fill="#D55E00"/>
<circle cx="1778.1" cy="1611.6" r="3.9" fill="#D55E00"/>
<circle cx="1812.2" cy="1617.5" r="3.9" fill="#D55E00"/>
<circle cx="1697.6" cy="1565.2" r="3.9" fill="#D55E00"/>
<circle cx="1734.2" cy="1601.2" r="3.9" fill="#D55E00"/>
<circle cx="1765.2" cy="1612.9" r="3.9" fill="#D55E00"/>
<circle cx="1793.1" cy="1611.8" r="3.9" fill="#D55E00"/>
<circle cx="1726.5" cy="1599.3" r="3.9" fill="#000"/>
<circle cx="1742.2" cy="1609.3" r="3.9" fill="#D55E00"/>
<circle cx="1775.2" cy="1616" r="3.9" fill="#D55E00"/>
<circle cx="1794.6" cy="1616.5" r="3.9" fill="#D55E00"/>
<circle cx="1821.4" cy="1618" r="3.9" fill="#D55E00"/>
<circle cx="1701.6" cy="1569" r="3.9" fill="#000"/>
<circle cx="1724.2" cy="1596.2" r="3.9" fill="#000"/>
<circle cx="1768.5" cy="1612.4" r="3.9" fill="#000"/>
<circle cx="1791.1" cy="1613.4" r="3.9" fill="#D55E00"/>
<circle cx="1815.2" cy="1614.6" r="3.9" fill="#D55E00"/>
<circle cx="1697.6" cy="1564.3" r="3.9" fill="#000"/>
<circle cx="1753" cy="1612.6" r="3.9" fill="#D55E00"/>
<circle cx="1780.5" cy="1616.5" r="3.9" fill="#D55E00"/>
<circle cx="1817.2" cy="1618.3" r="3.9" fill="#D55E00"/>
<circle cx="1712.6" cy="1585.3" r="3.9" fill="#D55E00"/>
<circle cx="1740.2" cy="1609.1" r="3.9" fill="#D55E00"/>
<circle cx="1771.1" cy="1613.5" r="3.9" fill="#D55E00"/>
<circle cx="1797.6" cy="1613.1" r="3.9" fill="#D55E00"/>
<circle cx="1824" cy="1615.9" r="3.9" fill="#D55E00"/>
<circle cx="1697.6" cy="1561.2" r="3.9" fill="#D55E00"/>
<circle cx="1708" cy="1584.4" r="3.9" fill="#D55E00"/>
<circle cx="1770.3" cy="1614.8" r="3.9" fill="#D55E00"/>
<circle cx="1805" cy="1613" r="3.9" fill="#D55E00"/>
<line x1="1680.6" y1="1327.8" x2="1680.6" y2="1631.1" stroke="#000" stroke-width="1.9"/>
<line x1="1679.6" y1="1630.2" x2="1991.6" y2="1630.2" stroke="#000" stroke-width="1.9"/>
<text x="1674.8" y="1505" font-size="18.8" text-anchor="end" fill="#4D4D4D">1e−100</text>
<line x1="1675.6" y1="1498.3" x2="1680.6" y2="1498.3" stroke="#333" stroke-width="1.9"/>
<text x="1674.8" y="1532.6" font-size="18.8" text-anchor="end" fill="#4D4D4D">1e−77</text>
<line x1="1675.6" y1="1525.9" x2="1680.6" y2="1525.9" stroke="#333" stroke-width="1.9"/>
<text x="1674.8" y="1560" font-size="18.8" text-anchor="end" fill="#4D4D4D">1e−54</text>
<line x1="1675.6" y1="1553.3" x2="1680.6" y2="1553.3" stroke="#333" stroke-width="1.9"/>
<text x="1674.8" y="1587.9" font-size="18.8" text-anchor="end" fill="#4D4D4D">1e−31</text>
<line x1="1675.6" y1="1581.2" x2="1680.6" y2="1581.2" stroke="#333" stroke-width="1.9"/>
<text x="1674.8" y="1615.9" font-size="18.8" text-anchor="end" fill="#4D4D4D">1e−08</text>
<line x1="1675.6" y1="1609.2" x2="1680.6" y2="1609.2" stroke="#333" stroke-width="1.9"/>
<line x1="1694.4" y1="1630.2" x2="1694.4" y2="1635.2" stroke="#333" stroke-width="1.9"/>
<text x="1694.4" y="1650.7" font-size="18.8" text-anchor="middle" fill="#4D4D4D">0</text>
<line x1="1794.4" y1="1630.2" x2="1794.4" y2="1635.2" stroke="#333" stroke-width="1.9"/>
<text x="1794.4" y="1650.7" font-size="18.8" text-anchor="middle" fill="#4D4D4D">1000</text>
<line x1="1895.2" y1="1630.2" x2="1895.2" y2="1635.2" stroke="#333" stroke-width="1.9"/>
<text x="1895.2" y="1650.7" font-size="18.8" text-anchor="middle" fill="#4D4D4D">2000</text>
<text x="1838.1" y="1672.2" font-size="22.6" text-anchor="middle">Rank</text>
<text x="1607.4" y="1471.8" font-size="22.6" text-anchor="middle" transform="rotate(-90 1607.4 1471.8)">Minimum HSIC−IR p−value</text>
<text x="1687.8" y="1445.9" font-size="17.6" font-style="italic">CHMP3</text>
<text x="1763.6" y="1445.9" font-size="17.6" font-style="italic">SNX6</text>
<text x="1823.2" y="1445.9" font-size="17.6" fill="#D55E00" font-style="italic">AP2B1</text>
<text x="1891.5" y="1445.9" font-size="17.6" fill="#D55E00" font-style="italic">EPN2</text>
<text x="1687.8" y="1471.2" font-size="17.6" font-style="italic">CDC42</text>
<text x="1744" y="1471.2" font-size="17.6" font-style="italic">HLA−E</text>
<text x="1795.9" y="1471.2" font-size="17.6" fill="#D55E00" font-style="italic">EEA1</text>
<text x="1847.1" y="1471.2" font-size="17.6" fill="#D55E00" font-style="italic">CAPZA2</text>
<text x="1915.4" y="1471.2" font-size="17.6" fill="#D55E00" font-style="italic">WASHC4</text>
<text x="1687.8" y="1496.3" font-size="17.6" fill="#D55E00" font-style="italic">RAB31</text>
<text x="1758.4" y="1496.3" font-size="17.6" fill="#D55E00" font-style="italic">CAV1</text>
<text x="1817.5" y="1496.3" font-size="17.6" fill="#D55E00" font-style="italic">RAB10</text>
<text x="1888" y="1496.3" font-size="17.6" fill="#D55E00" font-style="italic">DNM3</text>
<text x="1736.8" y="1522.2" font-size="17.6" font-style="italic">USP8</text>
<text x="1772.8" y="1522.2" font-size="17.6" fill="#D55E00" font-style="italic">ARPC5L</text>
<text x="1839" y="1522.2" font-size="17.6" fill="#D55E00" font-style="italic">RAB7B</text>
<text x="1888" y="1522.2" font-size="17.6" fill="#D55E00" font-style="italic">SMAP1</text>
<text x="1939.9" y="1522.2" font-size="17.6" fill="#D55E00" font-style="italic">SNX32</text>
<text x="1686.4" y="1533.7" font-size="17.6" font-style="italic">ACTR2</text>
<text x="1755.5" y="1548.1" font-size="17.6" font-style="italic">ARPC5</text>
<text x="1817.5" y="1548.1" font-size="17.6" font-style="italic">RAB22A</text>
<text x="1873.6" y="1548.1" font-size="17.6" fill="#D55E00" font-style="italic">ARPC4</text>
<text x="1925.5" y="1548.1" font-size="17.6" fill="#D55E00" font-style="italic">TSG101</text>
<text x="1691.6" y="1558.8" font-size="17.6" font-style="italic">IGF2R</text>
<text x="1798.7" y="1572.6" font-size="17.6" fill="#D55E00" font-style="italic">AGAP1</text>
<text x="1850.6" y="1572.6" font-size="17.6" fill="#D55E00" font-style="italic">RUFY2</text>
<text x="1918.3" y="1572.6" font-size="17.6" fill="#D55E00" font-style="italic">RAB11A</text>
<text x="1715.2" y="1584.1" font-size="17.6" fill="#D55E00" font-style="italic">KIF5B</text>
<text x="1764.2" y="1598.5" font-size="17.6" fill="#D55E00" font-style="italic">CHMP6</text>
<text x="1824.7" y="1598.5" font-size="17.6" fill="#D55E00" font-style="italic">CHMP2B</text>
<text x="1883.7" y="1598.5" font-size="17.6" fill="#D55E00" font-style="italic">CLTC</text>
<text x="1932.7" y="1598.5" font-size="17.6" fill="#D55E00" font-style="italic">WIPF2</text>
<text x="1687.8" y="1623" font-size="17.6" fill="#D55E00" font-style="italic">KIF5C</text>
<text x="1700" y="1623" font-size="17.6" fill="#D55E00" font-style="italic">ACTR3</text>
<text x="1849.1" y="1623" font-size="17.6" fill="#D55E00" font-style="italic">SNX2</text>
<text x="1908.2" y="1623" font-size="17.6" fill="#D55E00" font-style="italic">ARF6</text>
<text x="1831.8" y="1345" font-size="22.6">Disease specific</text>
<text x="1857.7" y="1376.7" font-size="20" text-anchor="middle" font-style="italic">a</text>
<text x="1880.7" y="1376.7" font-size="18.8">FALSE</text>
<text x="1857.7" y="1405.5" font-size="20" text-anchor="middle" fill="#D55E00" font-style="italic">a</text>
<text x="1880.7" y="1405.5" font-size="18.8">TRUE</text>
<text x="32.5" y="1716.5" font-size="30" font-weight="bold">h</text>
<text x="129.8" y="1729.7" font-size="22.6">Focal adhesion − hsa04510 (SR)</text>
<text x="703.5" y="1729.7" font-size="22.6" text-anchor="middle">Regulation of actin</text>
<text x="711" y="1754.4" font-size="22.6" text-anchor="middle">cytoskeleton − hsa04810 (SR)</text>
<text x="973.8" y="1729.7" font-size="22.6">Tight junction − hsa04530 (SR)</text>
<text x="1416.9" y="1729.7" font-size="22.6">Glioma − hsa05214 (SR)</text>
<text x="1798.7" y="1729.7" font-size="22.6">cGMP−PKG signaling pathway −</text>
<text x="1952.9" y="1754.4" font-size="22.6" text-anchor="middle">hsa04022 (SR)</text>
<use href="#srcloud" transform="translate(126.7 1769)"/>
<line x1="143.7" y1="2002.6" x2="143.7" y2="1867.9" stroke="#D55E00" stroke-width="1.7"/>
<line x1="170.4" y1="2037" x2="195.4" y2="1867.9" stroke="#D55E00" stroke-width="1.7"/>
<line x1="200.9" y1="2051.1" x2="267" y2="1867.9" stroke="#D55E00" stroke-width="1.7"/>
<line x1="148.9" y1="2016.6" x2="148.9" y2="1893" stroke="#000" stroke-width="1.7"/>
<line x1="171" y1="2037.9" x2="184.8" y2="1893" stroke="#000" stroke-width="1.7"/>
<line x1="191.8" y1="2048.1" x2="233.8" y2="1893" stroke="#D55E00" stroke-width="1.7"/>
<line x1="221.1" y1="2052.3" x2="304" y2="1893" stroke="#D55E00" stroke-width="1.7"/>
<line x1="143.7" y1="2007.6" x2="143.7" y2="1918.2" stroke="#000" stroke-width="1.7"/>
<line x1="175.4" y1="2044.2" x2="191.5" y2="1918.2" stroke="#D55E00" stroke-width="1.7"/>
<line x1="213.3" y1="2051.9" x2="268.3" y2="1918.2" stroke="#D55E00" stroke-width="1.7"/>
<line x1="242.6" y1="2056.8" x2="342.5" y2="1918.2" stroke="#D55E00" stroke-width="1.7"/>
<line x1="146" y1="2011.6" x2="146" y2="1943.4" stroke="#000" stroke-width="1.7"/>
<line x1="172.8" y1="2038.3" x2="184.8" y2="1943.4" stroke="#000" stroke-width="1.7"/>
<line x1="196.9" y1="2051.8" x2="241.8" y2="1943.4" stroke="#D55E00" stroke-width="1.7"/>
<line x1="226.4" y1="2053.2" x2="304" y2="1943.4" stroke="#D55E00" stroke-width="1.7"/>
<line x1="250.5" y1="2053.8" x2="353.1" y2="1943.4" stroke="#D55E00" stroke-width="1.7"/>
<line x1="159.2" y1="2031.2" x2="159.2" y2="1968.6" stroke="#D55E00" stroke-width="1.7"/>
<line x1="183.4" y1="2045.2" x2="216.6" y2="1968.6" stroke="#D55E00" stroke-width="1.7"/>
<line x1="213" y1="2054.2" x2="264.3" y2="1968.6" stroke="#D55E00" stroke-width="1.7"/>
<line x1="245.8" y1="2058.2" x2="330.6" y2="1968.6" stroke="#D55E00" stroke-width="1.7"/>
<line x1="261" y1="2056" x2="373" y2="1968.6" stroke="#D55E00" stroke-width="1.7"/>
<line x1="143.8" y1="2004.9" x2="143.8" y2="1993.7" stroke="#000" stroke-width="1.7"/>
<line x1="161.3" y1="2030.1" x2="184.8" y2="1993.7" stroke="#D55E00" stroke-width="1.7"/>
<line x1="187.7" y1="2045.3" x2="216.6" y2="1993.7" stroke="#D55E00" stroke-width="1.7"/>
<line x1="215.8" y1="2054.8" x2="297.4" y2="1993.7" stroke="#D55E00" stroke-width="1.7"/>
<line x1="250.7" y1="2056.5" x2="359.7" y2="1993.7" stroke="#D55E00" stroke-width="1.7"/>
<line x1="151.7" y1="2018.4" x2="155.7" y2="2018.4" stroke="#D55E00" stroke-width="1.7"/>
<line x1="188" y1="2046.3" x2="211.3" y2="2018.4" stroke="#D55E00" stroke-width="1.7"/>
<line x1="203.8" y1="2050.5" x2="261.7" y2="2018.4" stroke="#D55E00" stroke-width="1.7"/>
<line x1="243.1" y1="2054.7" x2="333.2" y2="2018.4" stroke="#D55E00" stroke-width="1.7"/>
<line x1="267.8" y1="2058.1" x2="391.5" y2="2018.4" stroke="#D55E00" stroke-width="1.7"/>
<line x1="196.3" y1="2051" x2="249.7" y2="2043.3" stroke="#D55E00" stroke-width="1.7"/>
<line x1="240.1" y1="2053.5" x2="318.6" y2="2043.3" stroke="#D55E00" stroke-width="1.7"/>
<line x1="260.4" y1="2054.9" x2="386.2" y2="2043.3" stroke="#D55E00" stroke-width="1.7"/>
<line x1="146.5" y1="2011.2" x2="146.5" y2="2052.9" stroke="#D55E00" stroke-width="1.7"/>
<line x1="210.9" y1="2052.4" x2="281.5" y2="2052.9" stroke="#000" stroke-width="1.7"/>
<line x1="251" y1="2056" x2="363.7" y2="2052.9" stroke="#D55E00" stroke-width="1.7"/>
<circle cx="143.7" cy="2002.6" r="3.9" fill="#D55E00"/>
<circle cx="170.4" cy="2037" r="3.9" fill="#D55E00"/>
<circle cx="200.9" cy="2051.1" r="3.9" fill="#D55E00"/>
<circle cx="148.9" cy="2016.6" r="3.9" fill="#000"/>
<circle cx="171" cy="2037.9" r="3.9" fill="#000"/>
<circle cx="191.8" cy="2048.1" r="3.9" fill="#D55E00"/>
<circle cx="221.1" cy="2052.3" r="3.9" fill="#D55E00"/>
<circle cx="143.7" cy="2007.6" r="3.9" fill="#000"/>
<circle cx="175.4" cy="2044.2" r="3.9" fill="#D55E00"/>
<circle cx="213.3" cy="2051.9" r="3.9" fill="#D55E00"/>
<circle cx="242.6" cy="2056.8" r="3.9" fill="#D55E00"/>
<circle cx="146" cy="2011.6" r="3.9" fill="#000"/>
<circle cx="172.8" cy="2038.3" r="3.9" fill="#000"/>
<circle cx="196.9" cy="2051.8" r="3.9" fill="#D55E00"/>
<circle cx="226.4" cy="2053.2" r="3.9" fill="#D55E00"/>
<circle cx="250.5" cy="2053.8" r="3.9" fill="#D55E00"/>
<circle cx="159.2" cy="2031.2" r="3.9" fill="#D55E00"/>
<circle cx="183.4" cy="2045.2" r="3.9" fill="#D55E00"/>
<circle cx="213" cy="2054.2" r="3.9" fill="#D55E00"/>
<circle cx="245.8" cy="2058.2" r="3.9" fill="#D55E00"/>
<circle cx="261" cy="2056" r="3.9" fill="#D55E00"/>
<circle cx="143.8" cy="2004.9" r="3.9" fill="#000"/>
<circle cx="161.3" cy="2030.1" r="3.9" fill="#D55E00"/>
<circle cx="187.7" cy="2045.3" r="3.9" fill="#D55E00"/>
<circle cx="215.8" cy="2054.8" r="3.9" fill="#D55E00"/>
<circle cx="250.7" cy="2056.5" r="3.9" fill="#D55E00"/>
<circle cx="151.7" cy="2018.4" r="3.9" fill="#D55E00"/>
<circle cx="188" cy="2046.3" r="3.9" fill="#D55E00"/>
<circle cx="203.8" cy="2050.5" r="3.9" fill="#D55E00"/>
<circle cx="243.1" cy="2054.7" r="3.9" fill="#D55E00"/>
<circle cx="267.8" cy="2058.1" r="3.9" fill="#D55E00"/>
<circle cx="196.3" cy="2051" r="3.9" fill="#D55E00"/>
<circle cx="240.1" cy="2053.5" r="3.9" fill="#D55E00"/>
<circle cx="260.4" cy="2054.9" r="3.9" fill="#D55E00"/>
<circle cx="146.5" cy="2011.2" r="3.9" fill="#D55E00"/>
<circle cx="210.9" cy="2052.4" r="3.9" fill="#000"/>
<circle cx="251" cy="2056" r="3.9" fill="#D55E00"/>
<line x1="126.7" y1="1769" x2="126.7" y2="2072.3" stroke="#000" stroke-width="1.9"/>
<line x1="125.8" y1="2071.4" x2="437.7" y2="2071.4" stroke="#000" stroke-width="1.9"/>
<text x="120.9" y="1946.2" font-size="18.8" text-anchor="end" fill="#4D4D4D">1e−100</text>
<line x1="121.7" y1="1939.5" x2="126.7" y2="1939.5" stroke="#333" stroke-width="1.9"/>
<text x="120.9" y="1973.8" font-size="18.8" text-anchor="end" fill="#4D4D4D">1e−77</text>
<line x1="121.7" y1="1967.1" x2="126.7" y2="1967.1" stroke="#333" stroke-width="1.9"/>
<text x="120.9" y="2001.2" font-size="18.8" text-anchor="end" fill="#4D4D4D">1e−54</text>
<line x1="121.7" y1="1994.5" x2="126.7" y2="1994.5" stroke="#333" stroke-width="1.9"/>
<text x="120.9" y="2029.1" font-size="18.8" text-anchor="end" fill="#4D4D4D">1e−31</text>
<line x1="121.7" y1="2022.4" x2="126.7" y2="2022.4" stroke="#333" stroke-width="1.9"/>
<text x="120.9" y="2057.1" font-size="18.8" text-anchor="end" fill="#4D4D4D">1e−08</text>
<line x1="121.7" y1="2050.4" x2="126.7" y2="2050.4" stroke="#333" stroke-width="1.9"/>
<line x1="140.5" y1="2071.4" x2="140.5" y2="2076.4" stroke="#333" stroke-width="1.9"/>
<text x="140.5" y="2091.9" font-size="18.8" text-anchor="middle" fill="#4D4D4D">0</text>
<line x1="240.5" y1="2071.4" x2="240.5" y2="2076.4" stroke="#333" stroke-width="1.9"/>
<text x="240.5" y="2091.9" font-size="18.8" text-anchor="middle" fill="#4D4D4D">1000</text>
<line x1="341.3" y1="2071.4" x2="341.3" y2="2076.4" stroke="#333" stroke-width="1.9"/>
<text x="341.3" y="2091.9" font-size="18.8" text-anchor="middle" fill="#4D4D4D">2000</text>
<text x="284.2" y="2113.4" font-size="22.6" text-anchor="middle">Rank</text>
<text x="53.5" y="1902" font-size="22.6" text-anchor="middle" transform="rotate(-90 53.5 1902)">Minimum HSIC−IR p−value</text>
<text x="133.8" y="1864.9" font-size="17.6" fill="#D55E00" font-style="italic">SPP1</text>
<text x="193.4" y="1864.9" font-size="17.6" fill="#D55E00" font-style="italic">LAMA4</text>
<text x="265" y="1864.9" font-size="17.6" fill="#D55E00" font-style="italic">PAK3</text>
<text x="133.8" y="1890" font-size="17.6" font-style="italic">RAC1</text>
<text x="182.8" y="1890" font-size="17.6" font-style="italic">TLN1</text>
<text x="231.8" y="1890" font-size="17.6" fill="#D55E00" font-style="italic">VEGFA</text>
<text x="302" y="1890" font-size="17.6" fill="#D55E00" font-style="italic">XIAP</text>
<text x="133.8" y="1915.2" font-size="17.6" font-style="italic">CDC42</text>
<text x="189.5" y="1915.2" font-size="17.6" fill="#D55E00" font-style="italic">PPP1R12A</text>
<text x="266.3" y="1915.2" font-size="17.6" fill="#D55E00" font-style="italic">ROCK2</text>
<text x="340.5" y="1915.2" font-size="17.6" fill="#D55E00" font-style="italic">IBSP</text>
<text x="133.8" y="1940.4" font-size="17.6" font-style="italic">ACTN4</text>
<text x="182.8" y="1940.4" font-size="17.6" font-style="italic">PRKCB</text>
<text x="239.8" y="1940.4" font-size="17.6" fill="#D55E00" font-style="italic">EGFR</text>
<text x="302" y="1940.4" font-size="17.6" fill="#D55E00" font-style="italic">ACTB</text>
<text x="351.1" y="1940.4" font-size="17.6" fill="#D55E00" font-style="italic">PPP1CB</text>
<text x="153.7" y="1965.6" font-size="17.6" fill="#D55E00" font-style="italic">ACTN1</text>
<text x="214.6" y="1965.6" font-size="17.6" fill="#D55E00" font-style="italic">CAV1</text>
<text x="262.3" y="1965.6" font-size="17.6" fill="#D55E00" font-style="italic">PDGFA</text>
<text x="328.6" y="1965.6" font-size="17.6" fill="#D55E00" font-style="italic">AKT3</text>
<text x="371" y="1965.6" font-size="17.6" fill="#D55E00" font-style="italic">DOCK1</text>
<text x="133.8" y="1990.7" font-size="17.6" font-style="italic">ITGA1</text>
<text x="182.8" y="1990.7" font-size="17.6" fill="#D55E00" font-style="italic">PAK6</text>
<text x="214.6" y="1990.7" font-size="17.6" fill="#D55E00" font-style="italic">ARHGAP5</text>
<text x="295.4" y="1990.7" font-size="17.6" fill="#D55E00" font-style="italic">DAAM1</text>
<text x="357.7" y="1990.7" font-size="17.6" fill="#D55E00" font-style="italic">PARVB</text>
<text x="153.7" y="2015.4" font-size="17.6" fill="#D55E00" font-style="italic">JUN</text>
<text x="209.3" y="2015.4" font-size="17.6" fill="#D55E00" font-style="italic">GRB2</text>
<text x="259.7" y="2015.4" font-size="17.6" fill="#D55E00" font-style="italic">CTNNB1</text>
<text x="331.2" y="2015.4" font-size="17.6" fill="#D55E00" font-style="italic">PTEN</text>
<text x="389.5" y="2015.4" font-size="17.6" fill="#D55E00" font-style="italic">PAK2</text>
<text x="247.7" y="2040.3" font-size="17.6" fill="#D55E00" font-style="italic">THBS1</text>
<text x="316.6" y="2040.3" font-size="17.6" fill="#D55E00" font-style="italic">VASP</text>
<text x="384.2" y="2040.3" font-size="17.6" fill="#D55E00" font-style="italic">MYLK</text>
<text x="133.8" y="2064.9" font-size="17.6" fill="#D55E00" font-style="italic">ROCK1</text>
<text x="279.5" y="2064.9" font-size="17.6" font-style="italic">COL6A1</text>
<text x="361.7" y="2064.9" font-size="17.6" fill="#D55E00" font-style="italic">TNR</text>
<text x="290.7" y="1768.2" font-size="22.6">Disease specific</text>
<text x="304.2" y="1800" font-size="20" text-anchor="middle" font-style="italic">a</text>
<text x="327.8" y="1800" font-size="18.8">FALSE</text>
<text x="304.2" y="1827.8" font-size="20" text-anchor="middle" fill="#D55E00" font-style="italic">a</text>
<text x="327.8" y="1827.8" font-size="18.8">TRUE</text>
<use href="#srcloud" transform="translate(543.2 1769)"/>
<line x1="561.2" y1="2008.4" x2="561.2" y2="1867.9" stroke="#000" stroke-width="1.7"/>
<line x1="593.7" y1="2046.1" x2="612.8" y2="1867.9" stroke="#000" stroke-width="1.7"/>
<line x1="619.3" y1="2054.7" x2="665.8" y2="1867.9" stroke="#000" stroke-width="1.7"/>
<line x1="560.2" y1="2004.8" x2="560.2" y2="1893" stroke="#000" stroke-width="1.7"/>
<line x1="580.2" y1="2034.5" x2="581" y2="1893" stroke="#D55E00" stroke-width="1.7"/>
<line x1="602.7" y1="2045.2" x2="627.4" y2="1893" stroke="#000" stroke-width="1.7"/>
<line x1="647.5" y1="2053.9" x2="730.7" y2="1893" stroke="#D55E00" stroke-width="1.7"/>
<line x1="560.2" y1="2005.4" x2="560.2" y2="1918.2" stroke="#000" stroke-width="1.7"/>
<line x1="575.9" y1="2027.6" x2="602.2" y2="1918.2" stroke="#000" stroke-width="1.7"/>
<line x1="614.6" y1="2053.6" x2="671.1" y2="1918.2" stroke="#D55E00" stroke-width="1.7"/>
<line x1="688.7" y1="2054.7" x2="803.6" y2="1918.2" stroke="#D55E00" stroke-width="1.7"/>
<line x1="564" y1="2010.1" x2="564" y2="1943.4" stroke="#000" stroke-width="1.7"/>
<line x1="602.1" y1="2045" x2="635.3" y2="1943.4" stroke="#D55E00" stroke-width="1.7"/>
<line x1="618.1" y1="2054.1" x2="687" y2="1943.4" stroke="#D55E00" stroke-width="1.7"/>
<line x1="651.9" y1="2054" x2="747.9" y2="1943.4" stroke="#D55E00" stroke-width="1.7"/>
<line x1="582.8" y1="2038.2" x2="585" y2="1968.6" stroke="#D55E00" stroke-width="1.7"/>
<line x1="608.1" y1="2052.1" x2="657.8" y2="1968.6" stroke="#D55E00" stroke-width="1.7"/>
<line x1="649.9" y1="2056.6" x2="733.3" y2="1968.6" stroke="#D55E00" stroke-width="1.7"/>
<line x1="673" y1="2059.1" x2="790.3" y2="1968.6" stroke="#D55E00" stroke-width="1.7"/>
<line x1="562.3" y1="2011.9" x2="562.3" y2="1993.7" stroke="#000" stroke-width="1.7"/>
<line x1="598.6" y1="2044.6" x2="619.4" y2="1993.7" stroke="#D55E00" stroke-width="1.7"/>
<line x1="610.6" y1="2048.1" x2="660.5" y2="1993.7" stroke="#D55E00" stroke-width="1.7"/>
<line x1="633.7" y1="2051.6" x2="713.5" y2="1993.7" stroke="#D55E00" stroke-width="1.7"/>
<line x1="660.7" y1="2056.7" x2="762.5" y2="1993.7" stroke="#D55E00" stroke-width="1.7"/>
<line x1="560.2" y1="2006.1" x2="570.4" y2="2003.4" stroke="#D55E00" stroke-width="1.7"/>
<line x1="624.8" y1="2051.9" x2="689.6" y2="2018.4" stroke="#D55E00" stroke-width="1.7"/>
<line x1="655" y1="2055.7" x2="734.7" y2="2018.4" stroke="#D55E00" stroke-width="1.7"/>
<line x1="675.5" y1="2056.4" x2="791.6" y2="2018.4" stroke="#D55E00" stroke-width="1.7"/>
<line x1="601.5" y1="2044.4" x2="631.3" y2="2043.3" stroke="#D55E00" stroke-width="1.7"/>
<line x1="631.1" y1="2051.1" x2="681.7" y2="2043.3" stroke="#D55E00" stroke-width="1.7"/>
<line x1="665.2" y1="2058.3" x2="757.2" y2="2043.3" stroke="#D55E00" stroke-width="1.7"/>
<line x1="668" y1="2058" x2="786.3" y2="2043.3" stroke="#D55E00" stroke-width="1.7"/>
<line x1="561" y1="2007.1" x2="561.1" y2="2052.9" stroke="#D55E00" stroke-width="1.7"/>
<line x1="560.2" y1="2002.3" x2="568" y2="2052.9" stroke="#D55E00" stroke-width="1.7"/>
<line x1="633.5" y1="2057" x2="712.1" y2="2052.9" stroke="#D55E00" stroke-width="1.7"/>
<line x1="673.5" y1="2058" x2="791.6" y2="2052.9" stroke="#D55E00" stroke-width="1.7"/>
<circle cx="561.2" cy="2008.4" r="3.9" fill="#000"/>
<circle cx="593.7" cy="2046.1" r="3.9" fill="#000"/>
<circle cx="619.3" cy="2054.7" r="3.9" fill="#000"/>
<circle cx="560.2" cy="2004.8" r="3.9" fill="#000"/>
<circle cx="580.2" cy="2034.5" r="3.9" fill="#D55E00"/>
<circle cx="602.7" cy="2045.2" r="3.9" fill="#000"/>
<circle cx="647.5" cy="2053.9" r="3.9" fill="#D55E00"/>
<circle cx="560.2" cy="2005.4" r="3.9" fill="#000"/>
<circle cx="575.9" cy="2027.6" r="3.9" fill="#000"/>
<circle cx="614.6" cy="2053.6" r="3.9" fill="#D55E00"/>
<circle cx="688.7" cy="2054.7" r="3.9" fill="#D55E00"/>
<circle cx="564" cy="2010.1" r="3.9" fill="#000"/>
<circle cx="602.1" cy="2045" r="3.9" fill="#D55E00"/>
<circle cx="618.1" cy="2054.1" r="3.9" fill="#D55E00"/>
<circle cx="651.9" cy="2054" r="3.9" fill="#D55E00"/>
<circle cx="582.8" cy="2038.2" r="3.9" fill="#D55E00"/>
<circle cx="608.1" cy="2052.1" r="3.9" fill="#D55E00"/>
<circle cx="649.9" cy="2056.6" r="3.9" fill="#D55E00"/>
<circle cx="673" cy="2059.1" r="3.9" fill="#D55E00"/>
<circle cx="562.3" cy="2011.9" r="3.9" fill="#000"/>
<circle cx="598.6" cy="2044.6" r="3.9" fill="#D55E00"/>
<circle cx="610.6" cy="2048.1" r="3.9" fill="#D55E00"/>
<circle cx="633.7" cy="2051.6" r="3.9" fill="#D55E00"/>
<circle cx="660.7" cy="2056.7" r="3.9" fill="#D55E00"/>
<circle cx="560.2" cy="2006.1" r="3.9" fill="#D55E00"/>
<circle cx="624.8" cy="2051.9" r="3.9" fill="#D55E00"/>
<circle cx="655" cy="2055.7" r="3.9" fill="#D55E00"/>
<circle cx="675.5" cy="2056.4" r="3.9" fill="#D55E00"/>
<circle cx="601.5" cy="2044.4" r="3.9" fill="#D55E00"/>
<circle cx="631.1" cy="2051.1" r="3.9" fill="#D55E00"/>
<circle cx="665.2" cy="2058.3" r="3.9" fill="#D55E00"/>
<circle cx="668" cy="2058" r="3.9" fill="#D55E00"/>
<circle cx="561" cy="2007.1" r="3.9" fill="#D55E00"/>
<circle cx="560.2" cy="2002.3" r="3.9" fill="#D55E00"/>
<circle cx="633.5" cy="2057" r="3.9" fill="#D55E00"/>
<circle cx="673.5" cy="2058" r="3.9" fill="#D55E00"/>
<line x1="543.2" y1="1769" x2="543.2" y2="2072.3" stroke="#000" stroke-width="1.9"/>
<line x1="542.2" y1="2071.4" x2="854.2" y2="2071.4" stroke="#000" stroke-width="1.9"/>
<text x="537.4" y="1946.2" font-size="18.8" text-anchor="end" fill="#4D4D4D">1e−100</text>
<line x1="538.2" y1="1939.5" x2="543.2" y2="1939.5" stroke="#333" stroke-width="1.9"/>
<text x="537.4" y="1973.8" font-size="18.8" text-anchor="end" fill="#4D4D4D">1e−77</text>
<line x1="538.2" y1="1967.1" x2="543.2" y2="1967.1" stroke="#333" stroke-width="1.9"/>
<text x="537.4" y="2001.2" font-size="18.8" text-anchor="end" fill="#4D4D4D">1e−54</text>
<line x1="538.2" y1="1994.5" x2="543.2" y2="1994.5" stroke="#333" stroke-width="1.9"/>
<text x="537.4" y="2029.1" font-size="18.8" text-anchor="end" fill="#4D4D4D">1e−31</text>
<line x1="538.2" y1="2022.4" x2="543.2" y2="2022.4" stroke="#333" stroke-width="1.9"/>
<text x="537.4" y="2057.1" font-size="18.8" text-anchor="end" fill="#4D4D4D">1e−08</text>
<line x1="538.2" y1="2050.4" x2="543.2" y2="2050.4" stroke="#333" stroke-width="1.9"/>
<line x1="557" y1="2071.4" x2="557" y2="2076.4" stroke="#333" stroke-width="1.9"/>
<text x="557" y="2091.9" font-size="18.8" text-anchor="middle" fill="#4D4D4D">0</text>
<line x1="657" y1="2071.4" x2="657" y2="2076.4" stroke="#333" stroke-width="1.9"/>
<text x="657" y="2091.9" font-size="18.8" text-anchor="middle" fill="#4D4D4D">1000</text>
<line x1="757.8" y1="2071.4" x2="757.8" y2="2076.4" stroke="#333" stroke-width="1.9"/>
<text x="757.8" y="2091.9" font-size="18.8" text-anchor="middle" fill="#4D4D4D">2000</text>
<text x="700.7" y="2113.4" font-size="22.6" text-anchor="middle">Rank</text>
<text x="470" y="1902" font-size="22.6" text-anchor="middle" transform="rotate(-90 470 1902)">Minimum HSIC−IR p−value</text>
<text x="551.2" y="1864.9" font-size="17.6" font-style="italic">RAC1</text>
<text x="610.8" y="1864.9" font-size="17.6" font-style="italic">ABI2</text>
<text x="663.8" y="1864.9" font-size="17.6" font-style="italic">ARPC5</text>
<text x="551.2" y="1890" font-size="17.6" font-style="italic">RDX</text>
<text x="579" y="1890" font-size="17.6" fill="#D55E00" font-style="italic">ACTN1</text>
<text x="625.4" y="1890" font-size="17.6" font-style="italic">ARHGEF7</text>
<text x="728.7" y="1890" font-size="17.6" fill="#D55E00" font-style="italic">PDGFA</text>
<text x="551.2" y="1915.2" font-size="17.6" font-style="italic">CDC42</text>
<text x="600.2" y="1915.2" font-size="17.6" font-style="italic">ACTR2</text>
<text x="669.1" y="1915.2" font-size="17.6" fill="#D55E00" font-style="italic">EGFR</text>
<text x="801.6" y="1915.2" font-size="17.6" fill="#D55E00" font-style="italic">SSH2</text>
<text x="551.2" y="1940.4" font-size="17.6" font-style="italic">ACTN4</text>
<text x="633.3" y="1940.4" font-size="17.6" fill="#D55E00" font-style="italic">PAK6</text>
<text x="685" y="1940.4" font-size="17.6" fill="#D55E00" font-style="italic">ARPC5L</text>
<text x="745.9" y="1940.4" font-size="17.6" fill="#D55E00" font-style="italic">PPP1CB</text>
<text x="583" y="1965.6" font-size="17.6" fill="#D55E00" font-style="italic">ROCK1</text>
<text x="655.8" y="1965.6" font-size="17.6" fill="#D55E00" font-style="italic">ROCK2</text>
<text x="731.3" y="1965.6" font-size="17.6" fill="#D55E00" font-style="italic">AKT3</text>
<text x="788.3" y="1965.6" font-size="17.6" fill="#D55E00" font-style="italic">DOCK1</text>
<text x="551.2" y="1990.7" font-size="17.6" font-style="italic">ITGA1</text>
<text x="617.4" y="1990.7" font-size="17.6" fill="#D55E00" font-style="italic">PAK3</text>
<text x="658.5" y="1990.7" font-size="17.6" fill="#D55E00" font-style="italic">SCIN</text>
<text x="711.5" y="1990.7" font-size="17.6" fill="#D55E00" font-style="italic">APC</text>
<text x="760.5" y="1990.7" font-size="17.6" fill="#D55E00" font-style="italic">FGF1</text>
<text x="568.4" y="2015.4" font-size="17.6" fill="#D55E00" font-style="italic">PPP1R12A</text>
<text x="687.6" y="2015.4" font-size="17.6" fill="#D55E00" font-style="italic">EZR</text>
<text x="732.7" y="2015.4" font-size="17.6" fill="#D55E00" font-style="italic">PAK2</text>
<text x="789.6" y="2015.4" font-size="17.6" fill="#D55E00" font-style="italic">ARPC4</text>
<text x="629.3" y="2040.3" font-size="17.6" fill="#D55E00" font-style="italic">ACTB</text>
<text x="679.7" y="2040.3" font-size="17.6" fill="#D55E00" font-style="italic">MSN</text>
<text x="755.2" y="2040.3" font-size="17.6" fill="#D55E00" font-style="italic">MYLK</text>
<text x="784.3" y="2040.3" font-size="17.6" fill="#D55E00" font-style="italic">WASF2</text>
<text x="559.1" y="2064.9" font-size="17.6" fill="#D55E00" font-style="italic">PIK3R3</text>
<text x="566" y="2064.9" font-size="17.6" fill="#D55E00" font-style="italic">IQGAP3</text>
<text x="710.1" y="2064.9" font-size="17.6" fill="#D55E00" font-style="italic">IQGAP1</text>
<text x="789.6" y="2064.9" font-size="17.6" fill="#D55E00" font-style="italic">ENAH</text>
<text x="703.5" y="1778.8" font-size="22.6">Disease specific</text>
<text x="716.8" y="1810.6" font-size="20" text-anchor="middle" font-style="italic">a</text>
<text x="740.6" y="1810.6" font-size="18.8">FALSE</text>
<text x="716.8" y="1838.9" font-size="20" text-anchor="middle" fill="#D55E00" font-style="italic">a</text>
<text x="740.6" y="1838.9" font-size="18.8">TRUE</text>
<use href="#srcloud" transform="translate(960.6 1769)"/>
<line x1="981" y1="2013.5" x2="981" y2="1915" stroke="#000" stroke-width="1.7"/>
<line x1="1001.5" y1="2035.6" x2="1020.9" y2="1915" stroke="#000" stroke-width="1.7"/>
<line x1="1030.2" y1="2051.6" x2="1093.7" y2="1915" stroke="#D55E00" stroke-width="1.7"/>
<line x1="1064.8" y1="2057" x2="1148" y2="1915" stroke="#000" stroke-width="1.7"/>
<line x1="977.6" y1="2006.6" x2="977.6" y2="1940.7" stroke="#000" stroke-width="1.7"/>
<line x1="994.8" y1="2032.6" x2="1014.2" y2="1940.7" stroke="#000" stroke-width="1.7"/>
<line x1="1020.6" y1="2047.2" x2="1051.3" y2="1940.7" stroke="#D55E00" stroke-width="1.7"/>
<line x1="1057.3" y1="2055.9" x2="1130.8" y2="1940.7" stroke="#D55E00" stroke-width="1.7"/>
<line x1="1085.6" y1="2056.6" x2="1198.4" y2="1940.7" stroke="#D55E00" stroke-width="1.7"/>
<line x1="981.2" y1="2010.5" x2="981.2" y2="1965.9" stroke="#000" stroke-width="1.7"/>
<line x1="1002.6" y1="2039" x2="1012.9" y2="1965.9" stroke="#D55E00" stroke-width="1.7"/>
<line x1="1037.7" y1="2051.3" x2="1081.8" y2="1965.9" stroke="#D55E00" stroke-width="1.7"/>
<line x1="1073" y1="2057.7" x2="1176.4" y2="1965.9" stroke="#D55E00" stroke-width="1.7"/>
<line x1="981.2" y1="2011.6" x2="981.2" y2="1991.1" stroke="#000" stroke-width="1.7"/>
<line x1="1003.2" y1="2036.5" x2="1036.8" y2="1991.1" stroke="#D55E00" stroke-width="1.7"/>
<line x1="1045" y1="2052.2" x2="1103" y2="1991.1" stroke="#D55E00" stroke-width="1.7"/>
<line x1="1077.2" y1="2056.6" x2="1157.3" y2="1991.1" stroke="#D55E00" stroke-width="1.7"/>
<line x1="1083.7" y1="2057.2" x2="1194.4" y2="1991.1" stroke="#D55E00" stroke-width="1.7"/>
<line x1="987.6" y1="2024.7" x2="997" y2="2015.7" stroke="#000" stroke-width="1.7"/>
<line x1="1034.1" y1="2051.7" x2="1072.5" y2="2015.7" stroke="#D55E00" stroke-width="1.7"/>
<line x1="1066.3" y1="2056.7" x2="1145.4" y2="2015.7" stroke="#D55E00" stroke-width="1.7"/>
<line x1="1092.7" y1="2059.3" x2="1193.1" y2="2015.7" stroke="#D55E00" stroke-width="1.7"/>
<line x1="1002.8" y1="2037.2" x2="1038.1" y2="2026.4" stroke="#D55E00" stroke-width="1.7"/>
<line x1="1045.7" y1="2052.4" x2="1105.6" y2="2041.4" stroke="#D55E00" stroke-width="1.7"/>
<line x1="1072" y1="2053.3" x2="1158.6" y2="2041.4" stroke="#D55E00" stroke-width="1.7"/>
<line x1="1097.9" y1="2056.7" x2="1201" y2="2041.4" stroke="#D55E00" stroke-width="1.7"/>
<line x1="978.4" y1="2007.6" x2="986.4" y2="2052.9" stroke="#D55E00" stroke-width="1.7"/>
<line x1="1046.4" y1="2051.9" x2="1116.2" y2="2052.9" stroke="#D55E00" stroke-width="1.7"/>
<line x1="1089.6" y1="2054.2" x2="1197.1" y2="2052.9" stroke="#000" stroke-width="1.7"/>
<circle cx="981" cy="2013.5" r="3.9" fill="#000"/>
<circle cx="1001.5" cy="2035.6" r="3.9" fill="#000"/>
<circle cx="1030.2" cy="2051.6" r="3.9" fill="#D55E00"/>
<circle cx="1064.8" cy="2057" r="3.9" fill="#000"/>
<circle cx="977.6" cy="2006.6" r="3.9" fill="#000"/>
<circle cx="994.8" cy="2032.6" r="3.9" fill="#000"/>
<circle cx="1020.6" cy="2047.2" r="3.9" fill="#D55E00"/>
<circle cx="1057.3" cy="2055.9" r="3.9" fill="#D55E00"/>
<circle cx="1085.6" cy="2056.6" r="3.9" fill="#D55E00"/>
<circle cx="981.2" cy="2010.5" r="3.9" fill="#000"/>
<circle cx="1002.6" cy="2039" r="3.9" fill="#D55E00"/>
<circle cx="1037.7" cy="2051.3" r="3.9" fill="#D55E00"/>
<circle cx="1073" cy="2057.7" r="3.9" fill="#D55E00"/>
<circle cx="981.2" cy="2011.6" r="3.9" fill="#000"/>
<circle cx="1003.2" cy="2036.5" r="3.9" fill="#D55E00"/>
<circle cx="1045" cy="2052.2" r="3.9" fill="#D55E00"/>
<circle cx="1077.2" cy="2056.6" r="3.9" fill="#D55E00"/>
<circle cx="1083.7" cy="2057.2" r="3.9" fill="#D55E00"/>
<circle cx="987.6" cy="2024.7" r="3.9" fill="#000"/>
<circle cx="1034.1" cy="2051.7" r="3.9" fill="#D55E00"/>
<circle cx="1066.3" cy="2056.7" r="3.9" fill="#D55E00"/>
<circle cx="1092.7" cy="2059.3" r="3.9" fill="#D55E00"/>
<circle cx="1002.8" cy="2037.2" r="3.9" fill="#D55E00"/>
<circle cx="1045.7" cy="2052.4" r="3.9" fill="#D55E00"/>
<circle cx="1072" cy="2053.3" r="3.9" fill="#D55E00"/>
<circle cx="1097.9" cy="2056.7" r="3.9" fill="#D55E00"/>
<circle cx="978.4" cy="2007.6" r="3.9" fill="#D55E00"/>
<circle cx="1046.4" cy="2051.9" r="3.9" fill="#D55E00"/>
<circle cx="1089.6" cy="2054.2" r="3.9" fill="#000"/>
<line x1="960.6" y1="1769" x2="960.6" y2="2072.3" stroke="#000" stroke-width="1.9"/>
<line x1="959.6" y1="2071.4" x2="1271.6" y2="2071.4" stroke="#000" stroke-width="1.9"/>
<text x="954.8" y="1946.2" font-size="18.8" text-anchor="end" fill="#4D4D4D">1e−100</text>
<line x1="955.6" y1="1939.5" x2="960.6" y2="1939.5" stroke="#333" stroke-width="1.9"/>
<text x="954.8" y="1973.8" font-size="18.8" text-anchor="end" fill="#4D4D4D">1e−77</text>
<line x1="955.6" y1="1967.1" x2="960.6" y2="1967.1" stroke="#333" stroke-width="1.9"/>
<text x="954.8" y="2001.2" font-size="18.8" text-anchor="end" fill="#4D4D4D">1e−54</text>
<line x1="955.6" y1="1994.5" x2="960.6" y2="1994.5" stroke="#333" stroke-width="1.9"/>
<text x="954.8" y="2029.1" font-size="18.8" text-anchor="end" fill="#4D4D4D">1e−31</text>
<line x1="955.6" y1="2022.4" x2="960.6" y2="2022.4" stroke="#333" stroke-width="1.9"/>
<text x="954.8" y="2057.1" font-size="18.8" text-anchor="end" fill="#4D4D4D">1e−08</text>
<line x1="955.6" y1="2050.4" x2="960.6" y2="2050.4" stroke="#333" stroke-width="1.9"/>
<line x1="974.4" y1="2071.4" x2="974.4" y2="2076.4" stroke="#333" stroke-width="1.9"/>
<text x="974.4" y="2091.9" font-size="18.8" text-anchor="middle" fill="#4D4D4D">0</text>
<line x1="1074.4" y1="2071.4" x2="1074.4" y2="2076.4" stroke="#333" stroke-width="1.9"/>
<text x="1074.4" y="2091.9" font-size="18.8" text-anchor="middle" fill="#4D4D4D">1000</text>
<line x1="1175.2" y1="2071.4" x2="1175.2" y2="2076.4" stroke="#333" stroke-width="1.9"/>
<text x="1175.2" y="2091.9" font-size="18.8" text-anchor="middle" fill="#4D4D4D">2000</text>
<text x="1118.1" y="2113.4" font-size="22.6" text-anchor="middle">Rank</text>
<text x="887.4" y="1902" font-size="22.6" text-anchor="middle" transform="rotate(-90 887.4 1902)">Minimum HSIC−IR p−value</text>
<text x="968" y="1912" font-size="17.6" font-style="italic">RDX</text>
<text x="1018.9" y="1912" font-size="17.6" font-style="italic">ACTN4</text>
<text x="1091.7" y="1912" font-size="17.6" fill="#D55E00" font-style="italic">JUN</text>
<text x="1146" y="1912" font-size="17.6" font-style="italic">ARPC5</text>
<text x="968" y="1937.7" font-size="17.6" font-style="italic">RAC1</text>
<text x="1012.2" y="1937.7" font-size="17.6" font-style="italic">RAB13</text>
<text x="1049.3" y="1937.7" font-size="17.6" fill="#D55E00" font-style="italic">SYNPO</text>
<text x="1128.8" y="1937.7" font-size="17.6" fill="#D55E00" font-style="italic">CTTN</text>
<text x="1196.4" y="1937.7" font-size="17.6" fill="#D55E00" font-style="italic">ACTB</text>
<text x="968" y="1962.9" font-size="17.6" font-style="italic">MYL6</text>
<text x="1010.9" y="1962.9" font-size="17.6" fill="#D55E00" font-style="italic">ACTN1</text>
<text x="1079.8" y="1962.9" font-size="17.6" fill="#D55E00" font-style="italic">CCND1</text>
<text x="1174.4" y="1962.9" font-size="17.6" fill="#D55E00" font-style="italic">PATJ</text>
<text x="968" y="1988.1" font-size="17.6" font-style="italic">CDC42</text>
<text x="1034.8" y="1988.1" font-size="17.6" fill="#D55E00" font-style="italic">ROCK1</text>
<text x="1101" y="1988.1" font-size="17.6" fill="#D55E00" font-style="italic">ARPC5L</text>
<text x="1155.3" y="1988.1" font-size="17.6" fill="#D55E00" font-style="italic">HSPA4</text>
<text x="1192.4" y="1988.1" font-size="17.6" fill="#D55E00" font-style="italic">MAP2K7</text>
<text x="995" y="2012.7" font-size="17.6" font-style="italic">ACTR2</text>
<text x="1070.5" y="2012.7" font-size="17.6" fill="#D55E00" font-style="italic">ROCK2</text>
<text x="1143.4" y="2012.7" font-size="17.6" fill="#D55E00" font-style="italic">EZR</text>
<text x="1191.1" y="2012.7" font-size="17.6" fill="#D55E00" font-style="italic">ARPC4</text>
<text x="1036.1" y="2038.4" font-size="17.6" fill="#D55E00" font-style="italic">PPP2R2B</text>
<text x="1103.6" y="2038.4" font-size="17.6" fill="#D55E00" font-style="italic">MSN</text>
<text x="1156.6" y="2038.4" font-size="17.6" fill="#D55E00" font-style="italic">VASP</text>
<text x="1199" y="2038.4" font-size="17.6" fill="#D55E00" font-style="italic">AMOTL2</text>
<text x="984.4" y="2064.9" font-size="17.6" fill="#D55E00" font-style="italic">ACTR3</text>
<text x="1114.2" y="2064.9" font-size="17.6" fill="#D55E00" font-style="italic">CLDN12</text>
<text x="1195.1" y="2064.9" font-size="17.6" font-style="italic">AFDN</text>
<text x="1120.3" y="1786.7" font-size="22.6">Disease specific</text>
<text x="1137.3" y="1818.5" font-size="20" text-anchor="middle" font-style="italic">a</text>
<text x="1161.1" y="1818.5" font-size="18.8">FALSE</text>
<text x="1137.3" y="1846.9" font-size="20" text-anchor="middle" fill="#D55E00" font-style="italic">a</text>
<text x="1161.1" y="1846.9" font-size="18.8">TRUE</text>
<use href="#srcloud" transform="translate(1377.1 1769)"/>
<line x1="1394.1" y1="2002.9" x2="1394.1" y2="1945.2" stroke="#D55E00" stroke-width="1.7"/>
<line x1="1459.5" y1="2050.6" x2="1515" y2="1945.2" stroke="#D55E00" stroke-width="1.7"/>
<line x1="1417.9" y1="2036.1" x2="1435.6" y2="1969.9" stroke="#000" stroke-width="1.7"/>
<line x1="1440.1" y1="2048.8" x2="1495.2" y2="1969.9" stroke="#D55E00" stroke-width="1.7"/>
<line x1="1394.1" y1="2004.6" x2="1394.1" y2="1994.5" stroke="#D55E00" stroke-width="1.7"/>
<line x1="1427.7" y1="2041" x2="1470" y2="1994.5" stroke="#D55E00" stroke-width="1.7"/>
<line x1="1464.5" y1="2055.8" x2="1532.3" y2="1994.5" stroke="#D55E00" stroke-width="1.7"/>
<line x1="1394.1" y1="2003.3" x2="1394.1" y2="2004.7" stroke="#D55E00" stroke-width="1.7"/>
<line x1="1416.7" y1="2038.7" x2="1430.3" y2="2019.7" stroke="#000" stroke-width="1.7"/>
<line x1="1451.7" y1="2051.2" x2="1501.8" y2="2019.7" stroke="#D55E00" stroke-width="1.7"/>
<line x1="1397.8" y1="2009.4" x2="1397.8" y2="2030.4" stroke="#000" stroke-width="1.7"/>
<line x1="1442.3" y1="2048.2" x2="1474" y2="2045.4" stroke="#D55E00" stroke-width="1.7"/>
<line x1="1480.5" y1="2053.1" x2="1573.3" y2="2043.3" stroke="#D55E00" stroke-width="1.7"/>
<line x1="1460.6" y1="2055.3" x2="1528.3" y2="2052.9" stroke="#D55E00" stroke-width="1.7"/>
<line x1="1502.3" y1="2056.8" x2="1615.7" y2="2052.9" stroke="#D55E00" stroke-width="1.7"/>
<circle cx="1394.1" cy="2002.9" r="3.9" fill="#D55E00"/>
<circle cx="1459.5" cy="2050.6" r="3.9" fill="#D55E00"/>
<circle cx="1417.9" cy="2036.1" r="3.9" fill="#000"/>
<circle cx="1440.1" cy="2048.8" r="3.9" fill="#D55E00"/>
<circle cx="1394.1" cy="2004.6" r="3.9" fill="#D55E00"/>
<circle cx="1427.7" cy="2041" r="3.9" fill="#D55E00"/>
<circle cx="1464.5" cy="2055.8" r="3.9" fill="#D55E00"/>
<circle cx="1394.1" cy="2003.3" r="3.9" fill="#D55E00"/>
<circle cx="1416.7" cy="2038.7" r="3.9" fill="#000"/>
<circle cx="1451.7" cy="2051.2" r="3.9" fill="#D55E00"/>
<circle cx="1397.8" cy="2009.4" r="3.9" fill="#000"/>
<circle cx="1442.3" cy="2048.2" r="3.9" fill="#D55E00"/>
<circle cx="1480.5" cy="2053.1" r="3.9" fill="#D55E00"/>
<circle cx="1460.6" cy="2055.3" r="3.9" fill="#D55E00"/>
<circle cx="1502.3" cy="2056.8" r="3.9" fill="#D55E00"/>
<line x1="1377.1" y1="1769" x2="1377.1" y2="2072.3" stroke="#000" stroke-width="1.9"/>
<line x1="1376.1" y1="2071.4" x2="1688.1" y2="2071.4" stroke="#000" stroke-width="1.9"/>
<text x="1371.3" y="1946.2" font-size="18.8" text-anchor="end" fill="#4D4D4D">1e−100</text>
<line x1="1372.1" y1="1939.5" x2="1377.1" y2="1939.5" stroke="#333" stroke-width="1.9"/>
<text x="1371.3" y="1973.8" font-size="18.8" text-anchor="end" fill="#4D4D4D">1e−77</text>
<line x1="1372.1" y1="1967.1" x2="1377.1" y2="1967.1" stroke="#333" stroke-width="1.9"/>
<text x="1371.3" y="2001.2" font-size="18.8" text-anchor="end" fill="#4D4D4D">1e−54</text>
<line x1="1372.1" y1="1994.5" x2="1377.1" y2="1994.5" stroke="#333" stroke-width="1.9"/>
<text x="1371.3" y="2029.1" font-size="18.8" text-anchor="end" fill="#4D4D4D">1e−31</text>
<line x1="1372.1" y1="2022.4" x2="1377.1" y2="2022.4" stroke="#333" stroke-width="1.9"/>
<text x="1371.3" y="2057.1" font-size="18.8" text-anchor="end" fill="#4D4D4D">1e−08</text>
<line x1="1372.1" y1="2050.4" x2="1377.1" y2="2050.4" stroke="#333" stroke-width="1.9"/>
<line x1="1390.9" y1="2071.4" x2="1390.9" y2="2076.4" stroke="#333" stroke-width="1.9"/>
<text x="1390.9" y="2091.9" font-size="18.8" text-anchor="middle" fill="#4D4D4D">0</text>
<line x1="1490.9" y1="2071.4" x2="1490.9" y2="2076.4" stroke="#333" stroke-width="1.9"/>
<text x="1490.9" y="2091.9" font-size="18.8" text-anchor="middle" fill="#4D4D4D">1000</text>
<line x1="1591.7" y1="2071.4" x2="1591.7" y2="2076.4" stroke="#333" stroke-width="1.9"/>
<text x="1591.7" y="2091.9" font-size="18.8" text-anchor="middle" fill="#4D4D4D">2000</text>
<text x="1534.6" y="2113.4" font-size="22.6" text-anchor="middle">Rank</text>
<text x="1303.9" y="1902" font-size="22.6" text-anchor="middle" transform="rotate(-90 1303.9 1902)">Minimum HSIC−IR p−value</text>
<text x="1384.5" y="1942.2" font-size="17.6" fill="#D55E00" font-style="italic">GADD45A</text>
<text x="1513" y="1942.2" font-size="17.6" fill="#D55E00" font-style="italic">CALM2</text>
<text x="1433.6" y="1966.9" font-size="17.6" font-style="italic">PRKCB</text>
<text x="1493.2" y="1966.9" font-size="17.6" fill="#D55E00" font-style="italic">GRB2</text>
<text x="1391.2" y="1991.5" font-size="17.6" fill="#D55E00" font-style="italic">PIK3R1</text>
<text x="1468" y="1991.5" font-size="17.6" fill="#D55E00" font-style="italic">CDK6</text>
<text x="1530.3" y="1991.5" font-size="17.6" fill="#D55E00" font-style="italic">EGFR</text>
<text x="1387.2" y="2016.7" font-size="17.6" fill="#D55E00" font-style="italic">CCND1</text>
<text x="1428.3" y="2016.7" font-size="17.6" font-style="italic">CALM3</text>
<text x="1499.8" y="2016.7" font-size="17.6" fill="#D55E00" font-style="italic">PDGFA</text>
<text x="1379.2" y="2042.4" font-size="17.6" font-style="italic">CAMK2B</text>
<text x="1472" y="2042.4" font-size="17.6" fill="#D55E00" font-style="italic">AKT3</text>
<text x="1571.3" y="2040.3" font-size="17.6" fill="#D55E00" font-style="italic">PLCG2</text>
<text x="1526.3" y="2064.9" font-size="17.6" fill="#D55E00" font-style="italic">CAMK2D</text>
<text x="1613.7" y="2064.9" font-size="17.6" fill="#D55E00" font-style="italic">PTEN</text>
<text x="1536.9" y="1786.7" font-size="22.6">Disease specific</text>
<text x="1554.1" y="1818.5" font-size="20" text-anchor="middle" font-style="italic">a</text>
<text x="1578" y="1818.5" font-size="18.8">FALSE</text>
<text x="1554.1" y="1846.9" font-size="20" text-anchor="middle" fill="#D55E00" font-style="italic">a</text>
<text x="1578" y="1846.9" font-size="18.8">TRUE</text>
<use href="#srcloud" transform="translate(1794.5 1769)"/>
<line x1="1841.6" y1="2044.2" x2="1875.4" y2="1891.7" stroke="#D55E00" stroke-width="1.7"/>
<line x1="1876.8" y1="2054.4" x2="1949.1" y2="1891.7" stroke="#000" stroke-width="1.7"/>
<line x1="1818.8" y1="2016.7" x2="1834.4" y2="1916.9" stroke="#000" stroke-width="1.7"/>
<line x1="1870.9" y1="2050.4" x2="1909.3" y2="1916.9" stroke="#D55E00" stroke-width="1.7"/>
<line x1="1912.9" y1="2055.9" x2="2004.7" y2="1916.9" stroke="#D55E00" stroke-width="1.7"/>
<line x1="1811.5" y1="2005" x2="1811.5" y2="1942.1" stroke="#000" stroke-width="1.7"/>
<line x1="1836.4" y1="2039.8" x2="1866.2" y2="1942.1" stroke="#D55E00" stroke-width="1.7"/>
<line x1="1869.6" y1="2050.3" x2="1935.8" y2="1942.1" stroke="#000" stroke-width="1.7"/>
<line x1="1916.5" y1="2054.8" x2="2031.8" y2="1942.1" stroke="#D55E00" stroke-width="1.7"/>
<line x1="1811.5" y1="2007.4" x2="1811.5" y2="1967.2" stroke="#000" stroke-width="1.7"/>
<line x1="1840.7" y1="2038.5" x2="1868.8" y2="1967.2" stroke="#D55E00" stroke-width="1.7"/>
<line x1="1879.2" y1="2056.5" x2="1949.6" y2="1967.2" stroke="#D55E00" stroke-width="1.7"/>
<line x1="1811.5" y1="2005.7" x2="1815.8" y2="1992.4" stroke="#D55E00" stroke-width="1.7"/>
<line x1="1834.7" y1="2037.4" x2="1856.9" y2="1992.4" stroke="#000" stroke-width="1.7"/>
<line x1="1866.6" y1="2052.4" x2="1921.8" y2="1992.4" stroke="#D55E00" stroke-width="1.7"/>
<line x1="1901.6" y1="2056.5" x2="1986.7" y2="1992.4" stroke="#000" stroke-width="1.7"/>
<line x1="1816.6" y1="2015.1" x2="1816.6" y2="2017.6" stroke="#000" stroke-width="1.7"/>
<line x1="1834.9" y1="2034" x2="1864.8" y2="2022.9" stroke="#000" stroke-width="1.7"/>
<line x1="1883.6" y1="2054" x2="1936.4" y2="2017.6" stroke="#D55E00" stroke-width="1.7"/>
<line x1="1913.3" y1="2058.8" x2="2019.8" y2="2017.6" stroke="#D55E00" stroke-width="1.7"/>
<line x1="1835.3" y1="2038.3" x2="1851.6" y2="2037.5" stroke="#000" stroke-width="1.7"/>
<line x1="1903.7" y1="2054.4" x2="1978.8" y2="2037.5" stroke="#D55E00" stroke-width="1.7"/>
<line x1="1933.1" y1="2058.9" x2="2054.3" y2="2037.5" stroke="#D55E00" stroke-width="1.7"/>
<line x1="1869.3" y1="2053.4" x2="1933.7" y2="2049.4" stroke="#000" stroke-width="1.7"/>
<line x1="1902.5" y1="2056.8" x2="2001.3" y2="2052.9" stroke="#D55E00" stroke-width="1.7"/>
<circle cx="1841.6" cy="2044.2" r="3.9" fill="#D55E00"/>
<circle cx="1876.8" cy="2054.4" r="3.9" fill="#000"/>
<circle cx="1818.8" cy="2016.7" r="3.9" fill="#000"/>
<circle cx="1870.9" cy="2050.4" r="3.9" fill="#D55E00"/>
<circle cx="1912.9" cy="2055.9" r="3.9" fill="#D55E00"/>
<circle cx="1811.5" cy="2005" r="3.9" fill="#000"/>
<circle cx="1836.4" cy="2039.8" r="3.9" fill="#D55E00"/>
<circle cx="1869.6" cy="2050.3" r="3.9" fill="#000"/>
<circle cx="1916.5" cy="2054.8" r="3.9" fill="#D55E00"/>
<circle cx="1811.5" cy="2007.4" r="3.9" fill="#000"/>
<circle cx="1840.7" cy="2038.5" r="3.9" fill="#D55E00"/>
<circle cx="1879.2" cy="2056.5" r="3.9" fill="#D55E00"/>
<circle cx="1811.5" cy="2005.7" r="3.9" fill="#D55E00"/>
<circle cx="1834.7" cy="2037.4" r="3.9" fill="#000"/>
<circle cx="1866.6" cy="2052.4" r="3.9" fill="#D55E00"/>
<circle cx="1901.6" cy="2056.5" r="3.9" fill="#000"/>
<circle cx="1816.6" cy="2015.1" r="3.9" fill="#000"/>
<circle cx="1834.9" cy="2034" r="3.9" fill="#000"/>
<circle cx="1883.6" cy="2054" r="3.9" fill="#D55E00"/>
<circle cx="1913.3" cy="2058.8" r="3.9" fill="#D55E00"/>
<circle cx="1835.3" cy="2038.3" r="3.9" fill="#000"/>
<circle cx="1903.7" cy="2054.4" r="3.9" fill="#D55E00"/>
<circle cx="1933.1" cy="2058.9" r="3.9" fill="#D55E00"/>
<circle cx="1869.3" cy="2053.4" r="3.9" fill="#000"/>
<circle cx="1902.5" cy="2056.8" r="3.9" fill="#D55E00"/>
<line x1="1794.5" y1="1769" x2="1794.5" y2="2072.3" stroke="#000" stroke-width="1.9"/>
<line x1="1793.5" y1="2071.4" x2="2105.5" y2="2071.4" stroke="#000" stroke-width="1.9"/>
<text x="1788.7" y="1946.2" font-size="18.8" text-anchor="end" fill="#4D4D4D">1e−100</text>
<line x1="1789.5" y1="1939.5" x2="1794.5" y2="1939.5" stroke="#333" stroke-width="1.9"/>
<text x="1788.7" y="1973.8" font-size="18.8" text-anchor="end" fill="#4D4D4D">1e−77</text>
<line x1="1789.5" y1="1967.1" x2="1794.5" y2="1967.1" stroke="#333" stroke-width="1.9"/>
<text x="1788.7" y="2001.2" font-size="18.8" text-anchor="end" fill="#4D4D4D">1e−54</text>
<line x1="1789.5" y1="1994.5" x2="1794.5" y2="1994.5" stroke="#333" stroke-width="1.9"/>
<text x="1788.7" y="2029.1" font-size="18.8" text-anchor="end" fill="#4D4D4D">1e−31</text>
<line x1="1789.5" y1="2022.4" x2="1794.5" y2="2022.4" stroke="#333" stroke-width="1.9"/>
<text x="1788.7" y="2057.1" font-size="18.8" text-anchor="end" fill="#4D4D4D">1e−08</text>
<line x1="1789.5" y1="2050.4" x2="1794.5" y2="2050.4" stroke="#333" stroke-width="1.9"/>
<line x1="1808.3" y1="2071.4" x2="1808.3" y2="2076.4" stroke="#333" stroke-width="1.9"/>
<text x="1808.3" y="2091.9" font-size="18.8" text-anchor="middle" fill="#4D4D4D">0</text>
<line x1="1908.3" y1="2071.4" x2="1908.3" y2="2076.4" stroke="#333" stroke-width="1.9"/>
<text x="1908.3" y="2091.9" font-size="18.8" text-anchor="middle" fill="#4D4D4D">1000</text>
<line x1="2009.1" y1="2071.4" x2="2009.1" y2="2076.4" stroke="#333" stroke-width="1.9"/>
<text x="2009.1" y="2091.9" font-size="18.8" text-anchor="middle" fill="#4D4D4D">2000</text>
<text x="1952" y="2113.4" font-size="22.6" text-anchor="middle">Rank</text>
<text x="1721.3" y="1902" font-size="22.6" text-anchor="middle" transform="rotate(-90 1721.3 1902)">Minimum HSIC−IR p−value</text>
<text x="1873.4" y="1888.7" font-size="17.6" fill="#D55E00" font-style="italic">ROCK1</text>
<text x="1947.1" y="1888.7" font-size="17.6" font-style="italic">PPP3CA</text>
<text x="1832.4" y="1913.9" font-size="17.6" font-style="italic">ATP1B1</text>
<text x="1907.3" y="1913.9" font-size="17.6" fill="#D55E00" font-style="italic">ATP1A2</text>
<text x="2002.7" y="1913.9" font-size="17.6" fill="#D55E00" font-style="italic">CALM2</text>
<text x="1801.9" y="1939.1" font-size="17.6" font-style="italic">GNAI2</text>
<text x="1864.2" y="1939.1" font-size="17.6" fill="#D55E00" font-style="italic">GNA11</text>
<text x="1933.8" y="1939.1" font-size="17.6" font-style="italic">CALM3</text>
<text x="2029.8" y="1939.1" font-size="17.6" fill="#D55E00" font-style="italic">INSR</text>
<text x="1801.9" y="1964.2" font-size="17.6" font-style="italic">ATP1B2</text>
<text x="1866.8" y="1964.2" font-size="17.6" fill="#D55E00" font-style="italic">PPP1R12A</text>
<text x="1947.6" y="1964.2" font-size="17.6" fill="#D55E00" font-style="italic">ROCK2</text>
<text x="1813.8" y="1989.4" font-size="17.6" fill="#D55E00" font-style="italic">IRS2</text>
<text x="1854.9" y="1989.4" font-size="17.6" font-style="italic">ATP2A2</text>
<text x="1919.8" y="1989.4" font-size="17.6" fill="#D55E00" font-style="italic">GNAQ</text>
<text x="1984.7" y="1989.4" font-size="17.6" font-style="italic">MEF2B</text>
<text x="1801.9" y="2014.6" font-size="17.6" font-style="italic">ATP2B1</text>
<text x="1862.8" y="2019.9" font-size="17.6" font-style="italic">CREB5</text>
<text x="1934.4" y="2014.6" font-size="17.6" fill="#D55E00" font-style="italic">PPP1CB</text>
<text x="2017.8" y="2014.6" font-size="17.6" fill="#D55E00" font-style="italic">AKT3</text>
<text x="1849.6" y="2034.5" font-size="17.6" font-style="italic">MEF2C</text>
<text x="1976.8" y="2034.5" font-size="17.6" fill="#D55E00" font-style="italic">ATP2B4</text>
<text x="2052.3" y="2034.5" font-size="17.6" fill="#D55E00" font-style="italic">VASP</text>
<text x="1931.7" y="2046.4" font-size="17.6" font-style="italic">ITPR2</text>
<text x="1999.3" y="2064.9" font-size="17.6" fill="#D55E00" font-style="italic">MYLK</text>
<text x="1957.7" y="1786.7" font-size="22.6">Disease specific</text>
<text x="1971.5" y="1818.5" font-size="20" text-anchor="middle" font-style="italic">a</text>
<text x="1995.3" y="1818.5" font-size="18.8">FALSE</text>
<text x="1971.5" y="1846.9" font-size="20" text-anchor="middle" fill="#D55E00" font-style="italic">a</text>
<text x="1995.3" y="1846.9" font-size="18.8">TRUE</text>
<line x1="1391.1" y1="1860.9" x2="1403.1" y2="1847" stroke="#000" stroke-width="1.3"/>
<circle cx="1391.1" cy="1860.9" r="3.4" fill="#000"/>
<text x="1384.5" y="1843.2" font-size="17.6" font-style="italic">CALM1</text>
<line x1="1808.5" y1="1860.9" x2="1820.5" y2="1847" stroke="#000" stroke-width="1.3"/>
<circle cx="1808.5" cy="1860.9" r="3.4" fill="#000"/>
<text x="1801.9" y="1843.2" font-size="17.6" font-style="italic">CALM1</text>
<line x1="1823.1" y1="1898" x2="1828" y2="1885" stroke="#D55E00" stroke-width="1.3"/>
<circle cx="1823.1" cy="1898" r="3.4" fill="#D55E00"/>
<text x="1801.9" y="1880.8" font-size="17.6" fill="#D55E00" font-style="italic">PDE3A</text>
<text x="31.5" y="2167.7" font-size="30" font-weight="bold">i</text>
<line x1="61.3" y1="2192.6" x2="61.3" y2="2360.3" stroke="#000" stroke-width="1.3"/>
<line x1="61.3" y1="2378" x2="61.3" y2="2507" stroke="#000" stroke-width="1.3"/>
<text x="50.1" y="2256" font-size="22.5" text-anchor="middle" transform="rotate(-90 50.1 2256)">DMG2 (ONT)</text>
<text x="50.1" y="2441" font-size="22.5" text-anchor="middle" transform="rotate(-90 50.1 2441)">ZH916bulk (SR)</text>
<text x="85.5" y="2206.5" font-size="22.5"><tspan font-style="italic">GFAP</tspan>, - strand (3’&lt;5’)</text>
<rect x="596.5" y="2232.1" width="168.4" height="2.2" fill="#3B6FDB"/>
<rect x="596.5" y="2229" width="36.5" height="8.3" fill="#3B6FDB"/>
<rect x="736.7" y="2229" width="28.2" height="8.3" fill="#3B6FDB"/>
<rect x="633" y="2225.9" width="11.2" height="14.5" fill="#3B6FDB"/>
<rect x="670.3" y="2225.9" width="5" height="14.5" fill="#3B6FDB"/>
<rect x="719.3" y="2225.9" width="17.4" height="14.5" fill="#3B6FDB"/>
<rect x="402.8" y="2273.6" width="339.3" height="2.2" fill="#3B6FDB"/>
<rect x="402.8" y="2270.5" width="10.2" height="8.3" fill="#3B6FDB"/>
<rect x="736.7" y="2270.5" width="5.4" height="8.3" fill="#3B6FDB"/>
<rect x="413" y="2267.4" width="5.4" height="14.5" fill="#3B6FDB"/>
<rect x="470.4" y="2267.4" width="8.3" height="14.5" fill="#3B6FDB"/>
<rect x="670.3" y="2267.4" width="5" height="14.5" fill="#3B6FDB"/>
<rect x="719.3" y="2267.4" width="17.4" height="14.5" fill="#3B6FDB"/>
<rect x="280" y="2313.8" width="204.9" height="2.2" fill="#3B6FDB"/>
<rect x="280" y="2310.8" width="175.5" height="8.3" fill="#3B6FDB"/>
<rect x="482.9" y="2310.8" width="2" height="8.3" fill="#3B6FDB"/>
<rect x="455.5" y="2307.7" width="27.4" height="14.5" fill="#3B6FDB"/>
<rect x="596.5" y="2313.8" width="458.7" height="2.2" fill="#3B6FDB"/>
<rect x="596.5" y="2310.8" width="36.5" height="8.3" fill="#3B6FDB"/>
<rect x="633" y="2307.7" width="11.2" height="14.5" fill="#3B6FDB"/>
<rect x="670.3" y="2307.7" width="5" height="14.5" fill="#3B6FDB"/>
<rect x="719.3" y="2307.7" width="19" height="14.5" fill="#3B6FDB"/>
<rect x="753.3" y="2307.7" width="12.4" height="14.5" fill="#3B6FDB"/>
<rect x="879" y="2307.7" width="14.5" height="14.5" fill="#3B6FDB"/>
<rect x="915" y="2307.7" width="9.6" height="14.5" fill="#3B6FDB"/>
<rect x="939.1" y="2307.7" width="6.2" height="14.5" fill="#3B6FDB"/>
<rect x="1017.5" y="2307.7" width="37.7" height="14.5" fill="#3B6FDB"/>
<rect x="85.5" y="2354.4" width="969.7" height="2.2" fill="#3B6FDB"/>
<rect x="85.5" y="2351.3" width="327.7" height="8.3" fill="#3B6FDB"/>
<rect x="413.2" y="2348.2" width="5.4" height="14.5" fill="#3B6FDB"/>
<rect x="470.4" y="2348.2" width="8.3" height="14.5" fill="#3B6FDB"/>
<rect x="670.3" y="2348.2" width="5" height="14.5" fill="#3B6FDB"/>
<rect x="719.3" y="2348.2" width="19" height="14.5" fill="#3B6FDB"/>
<rect x="753.3" y="2348.2" width="12.4" height="14.5" fill="#3B6FDB"/>
<rect x="879" y="2348.2" width="14.5" height="14.5" fill="#3B6FDB"/>
<rect x="915" y="2348.2" width="9.6" height="14.5" fill="#3B6FDB"/>
<rect x="939.1" y="2348.2" width="6.2" height="14.5" fill="#3B6FDB"/>
<rect x="1017.5" y="2348.2" width="37.7" height="14.5" fill="#3B6FDB"/>
<text x="625.5" y="2217.8" font-size="22.6" fill="#3B6FDB">GFAP_Iso_5</text>
<text x="530.1" y="2262.2" font-size="22.6" fill="#3B6FDB">GFAP-205</text>
<text x="340.3" y="2303.9" font-size="22.6" fill="#3B6FDB">GFAP-230</text>
<text x="784.4" y="2302.9" font-size="22.6" fill="#3B6FDB">GFAP-203</text>
<text x="528.5" y="2344.3" font-size="22.6" fill="#3B6FDB">GFAP-214</text>
<text x="85.5" y="2407.7" font-size="22.4">[0 - 132064]</text>
<line x1="85.5" y1="2441.9" x2="1055.2" y2="2441.9" stroke="#A070D8" stroke-width="1.2"/>
<path d="M277.5 2442 L278.5 2405 Q280 2394 284 2394 Q288 2394 290 2408 Q293 2428 298 2437 Q301 2441 305 2442 Z" fill="#8A3FC6"/>
<path d="M596 2442 Q598 2435.5 603 2435.5 Q608 2436 613 2440 L623 2442 Z" fill="#8A3FC6"/>
<rect x="271.6" y="2462.6" width="29" height="12.2" fill="#E03C31"/>
<rect x="589.5" y="2462.1" width="29" height="12.5" fill="#E03C31"/>
<text x="271.6" y="2497.4" font-size="22.5">GFAP-Event1</text>
<text x="589.5" y="2496.6" font-size="22.5">GFAP-Event2</text>
<line x1="85.5" y1="2507.5" x2="1055.2" y2="2507.5" stroke="#000" stroke-width="1.4"/>
<text x="85.5" y="2530.3" font-size="22.5">44,903,159 bp</text>
<text x="577" y="2529.7" font-size="22.2" text-anchor="middle" font-weight="bold">chr17</text>
<text x="1085.1" y="2529.7" font-size="22.5" text-anchor="end">44,915,500 bp</text>
<path d="M1142 2218 L1148.8 2206.4 L1156.7 2197.2 L1163.5 2190.2 L1170.3 2185.6 L1181.7 2185 L1194.1 2184.4 L1205.5 2185.6 L1216.8 2188.5 L1227 2191.4 L1239.5 2196 L1253.1 2203 L1266.7 2209.9 L1274.6 2211.1 L1286 2211.1 L1297.3 2211.1 L1305.3 2218 L1313.2 2225 L1307.5 2238.9 L1300.7 2255.1 L1291.7 2266.7 L1283.7 2278.3 L1270.1 2289.9 L1259.9 2305 L1249.7 2318.9 L1239.5 2328.2 L1232.7 2338.6 L1227 2343.2 L1219.1 2343.2 L1210 2332.8 L1198.7 2338.6 L1189.6 2335.1 L1179.4 2329.3 L1170.3 2323.5 L1161.3 2320 L1153.3 2316.6 L1138.6 2310.8 L1140.8 2303.8 L1142 2296.9 L1142 2255.1 Z" fill="url(#m230)"/>
<path d="M1146.8 2228.9 L1181.8 2192.3 L1216.8 2184.4 L1243.1 2216.2 L1199.3 2224.1 L1164.3 2240 Z" fill="url(#m230r)"/>
<path d="M1257.1 2216.2 L1313.2 2224.1 L1286.9 2271.7 L1246.6 2311.4 L1234.4 2287.6 Z" fill="url(#m230r)"/>
<path d="M1141.5 2255.9 L1190.6 2247.9 L1216.8 2279.7 L1199.3 2319.4 L1155.5 2319.4 Z" fill="url(#m230y)" opacity="0.6"/>
<path d="M1267.3 2210.8 L1274.1 2211.3 L1273.7 2220.4 L1268.4 2231.9 L1263.3 2240.1 L1261 2238.3 L1263.9 2228.5 L1266.1 2218 Z" fill="#fff"/>
<path d="M1266.1 2249.3 L1271.2 2250.5 L1264.4 2264.4 L1255.4 2278.3 L1247.4 2292.2 L1243.5 2293.4 L1244 2285.3 L1253.1 2272.5 L1261 2258.6 Z" fill="#fff"/>
<circle cx="1199.2" cy="2222.7" r="2.4" fill="#fff"/>
<circle cx="1195.8" cy="2300.3" r="2.4" fill="#fff"/>
<circle cx="1227" cy="2328.2" r="2.4" fill="#fff"/>
<text x="1156" y="2164.3" font-size="22.6">GFAP−230 (ONT)</text>
<text x="1322.2" y="2187.6" font-size="22">Ratio</text>
<rect x="1332.7" y="2202.4" width="9.8" height="145.9" fill="url(#gS)"/>
<line x1="1332.7" y1="2200.3" x2="1342.5" y2="2200.3" stroke="#fff" stroke-width="1"/>
<text x="1350.1" y="2207.5" font-size="20">1.0</text>
<line x1="1332.7" y1="2229.3" x2="1342.5" y2="2229.3" stroke="#fff" stroke-width="1"/>
<text x="1350.1" y="2236.5" font-size="20">0.9</text>
<line x1="1332.7" y1="2258.7" x2="1342.5" y2="2258.7" stroke="#fff" stroke-width="1"/>
<text x="1350.1" y="2265.9" font-size="20">0.8</text>
<line x1="1332.7" y1="2288.4" x2="1342.5" y2="2288.4" stroke="#fff" stroke-width="1"/>
<text x="1350.1" y="2295.6" font-size="20">0.7</text>
<line x1="1332.7" y1="2317.7" x2="1342.5" y2="2317.7" stroke="#fff" stroke-width="1"/>
<text x="1350.1" y="2324.9" font-size="20">0.6</text>
<line x1="1332.7" y1="2347.1" x2="1342.5" y2="2347.1" stroke="#fff" stroke-width="1"/>
<text x="1350.1" y="2354.3" font-size="20">0.5</text>
<path d="M1389 2218 L1395.8 2206.4 L1403.7 2197.2 L1410.5 2190.2 L1417.3 2185.6 L1428.7 2185 L1441.1 2184.4 L1452.5 2185.6 L1463.8 2188.5 L1474 2191.4 L1486.5 2196 L1500.1 2203 L1513.7 2209.9 L1521.6 2211.1 L1533 2211.1 L1544.3 2211.1 L1552.3 2218 L1560.2 2225 L1554.5 2238.9 L1547.7 2255.1 L1538.7 2266.7 L1530.7 2278.3 L1517.1 2289.9 L1506.9 2305 L1496.7 2318.9 L1486.5 2328.2 L1479.7 2338.6 L1474 2343.2 L1466.1 2343.2 L1457 2332.8 L1445.7 2338.6 L1436.6 2335.1 L1426.4 2329.3 L1417.3 2323.5 L1408.3 2320 L1400.3 2316.6 L1385.6 2310.8 L1387.8 2303.8 L1389 2296.9 L1389 2255.1 Z" fill="url(#m214)"/>
<path d="M1514.3 2210.8 L1521.1 2211.3 L1520.7 2220.4 L1515.4 2231.9 L1510.3 2240.1 L1508 2238.3 L1510.9 2228.5 L1513.1 2218 Z" fill="#fff"/>
<path d="M1513.1 2249.3 L1518.2 2250.5 L1511.4 2264.4 L1502.4 2278.3 L1494.4 2292.2 L1490.5 2293.4 L1491 2285.3 L1500.1 2272.5 L1508 2258.6 Z" fill="#fff"/>
<circle cx="1446.2" cy="2222.7" r="2.4" fill="#fff"/>
<circle cx="1442.8" cy="2300.3" r="2.4" fill="#fff"/>
<circle cx="1474" cy="2328.2" r="2.4" fill="#fff"/>
<text x="1403.1" y="2164.3" font-size="22.6">GFAP−214 (ONT)</text>
<text x="1567.9" y="2187.6" font-size="22">Ratio</text>
<rect x="1578.4" y="2202.4" width="9.8" height="145.9" fill="url(#gS)"/>
<line x1="1578.4" y1="2200.3" x2="1588.2" y2="2200.3" stroke="#fff" stroke-width="1"/>
<text x="1596.3" y="2207.5" font-size="20">0.4</text>
<line x1="1578.4" y1="2236.8" x2="1588.2" y2="2236.8" stroke="#fff" stroke-width="1"/>
<text x="1596.3" y="2244" font-size="20">0.3</text>
<line x1="1578.4" y1="2274.3" x2="1588.2" y2="2274.3" stroke="#fff" stroke-width="1"/>
<text x="1596.3" y="2281.5" font-size="20">0.2</text>
<line x1="1578.4" y1="2311.1" x2="1588.2" y2="2311.1" stroke="#fff" stroke-width="1"/>
<text x="1596.3" y="2318.3" font-size="20">0.1</text>
<line x1="1578.4" y1="2347.1" x2="1588.2" y2="2347.1" stroke="#fff" stroke-width="1"/>
<text x="1596.3" y="2354.3" font-size="20">0.0</text>
<path d="M1636 2218 L1642.8 2206.4 L1650.7 2197.2 L1657.5 2190.2 L1664.3 2185.6 L1675.7 2185 L1688.1 2184.4 L1699.5 2185.6 L1710.8 2188.5 L1721 2191.4 L1733.5 2196 L1747.1 2203 L1760.7 2209.9 L1768.6 2211.1 L1780 2211.1 L1791.3 2211.1 L1799.3 2218 L1807.2 2225 L1801.5 2238.9 L1794.7 2255.1 L1785.7 2266.7 L1777.7 2278.3 L1764.1 2289.9 L1753.9 2305 L1743.7 2318.9 L1733.5 2328.2 L1726.7 2338.6 L1721 2343.2 L1713.1 2343.2 L1704 2332.8 L1692.7 2338.6 L1683.6 2335.1 L1673.4 2329.3 L1664.3 2323.5 L1655.3 2320 L1647.3 2316.6 L1632.6 2310.8 L1634.8 2303.8 L1636 2296.9 L1636 2255.1 Z" fill="url(#miso)"/>
<path d="M1740.6 2216.2 L1807.2 2224.1 L1780.9 2271.7 L1754.6 2303.5 L1737.1 2335.3 L1710.8 2343.2 L1719.6 2311.4 L1737.1 2271.7 L1728.4 2240 Z" fill="url(#mblue)"/>
<path d="M1632 2303.5 L1675.8 2311.4 L1719.6 2319.4 L1710.8 2343.2 L1675.8 2335.3 L1640.8 2327.3 Z" fill="url(#mblue)"/>
<path d="M1635.5 2232 L1658.3 2203.5 L1693.3 2187.6 L1702.1 2200.3 L1667 2216.2 L1646 2247.9 Z" fill="url(#mblue)"/>
<path d="M1684.6 2232 L1710.8 2228.9 L1710.8 2247.9 L1684.6 2251.1 Z" fill="url(#mblue)" opacity="0.6"/>
<path d="M1761.3 2210.8 L1768.1 2211.3 L1767.7 2220.4 L1762.4 2231.9 L1757.3 2240.1 L1755 2238.3 L1757.9 2228.5 L1760.1 2218 Z" fill="#fff"/>
<path d="M1760.1 2249.3 L1765.2 2250.5 L1758.4 2264.4 L1749.4 2278.3 L1741.4 2292.2 L1737.5 2293.4 L1738 2285.3 L1747.1 2272.5 L1755 2258.6 Z" fill="#fff"/>
<circle cx="1693.2" cy="2222.7" r="2.4" fill="#fff"/>
<circle cx="1689.8" cy="2300.3" r="2.4" fill="#fff"/>
<circle cx="1721" cy="2328.2" r="2.4" fill="#fff"/>
<text x="1643.4" y="2163.7" font-size="22.6">GFAP_Iso_5 (ONT)</text>
<text x="1809.8" y="2187.6" font-size="22">Ratio</text>
<rect x="1820.7" y="2202.4" width="9.8" height="145.9" fill="url(#gS)"/>
<line x1="1820.7" y1="2227.7" x2="1830.5" y2="2227.7" stroke="#fff" stroke-width="1"/>
<text x="1834.8" y="2234.9" font-size="20">0.15</text>
<line x1="1820.7" y1="2266.7" x2="1830.5" y2="2266.7" stroke="#fff" stroke-width="1"/>
<text x="1834.8" y="2273.9" font-size="20">0.10</text>
<line x1="1820.7" y1="2307.3" x2="1830.5" y2="2307.3" stroke="#fff" stroke-width="1"/>
<text x="1834.8" y="2314.5" font-size="20">0.05</text>
<line x1="1820.7" y1="2346.3" x2="1830.5" y2="2346.3" stroke="#fff" stroke-width="1"/>
<text x="1834.8" y="2353.5" font-size="20">0.00</text>
<path d="M1883 2218 L1889.8 2206.4 L1897.7 2197.2 L1904.5 2190.2 L1911.3 2185.6 L1922.7 2185 L1935.1 2184.4 L1946.5 2185.6 L1957.8 2188.5 L1968 2191.4 L1980.5 2196 L1994.1 2203 L2007.7 2209.9 L2015.6 2211.1 L2027 2211.1 L2038.3 2211.1 L2046.3 2218 L2054.2 2225 L2048.5 2238.9 L2041.7 2255.1 L2032.7 2266.7 L2024.7 2278.3 L2011.1 2289.9 L2000.9 2305 L1990.7 2318.9 L1980.5 2328.2 L1973.7 2338.6 L1968 2343.2 L1960.1 2343.2 L1951 2332.8 L1939.7 2338.6 L1930.6 2335.1 L1920.4 2329.3 L1911.3 2323.5 L1902.3 2320 L1894.3 2316.6 L1879.6 2310.8 L1881.8 2303.8 L1883 2296.9 L1883 2255.1 Z" fill="url(#mgy)"/>
<path d="M1984.1 2216.2 L2054.2 2224.1 L2027.9 2271.7 L1992.9 2319.4 L1975.4 2335.3 L1957.8 2327.3 L1975.4 2279.7 L1966.6 2240 Z" fill="url(#mblue)"/>
<path d="M1893 2224.1 L1922.8 2192.3 L1957.8 2184.4 L1975.4 2197.1 L1940.3 2203.5 L1905.3 2232 Z" fill="url(#mblue)" opacity="0.7"/>
<path d="M1931.6 2255.9 L1966.6 2251.1 L1966.6 2276.5 L1935.1 2279.7 Z" fill="url(#mblue)" opacity="0.5"/>
<path d="M2008.3 2210.8 L2015.1 2211.3 L2014.7 2220.4 L2009.4 2231.9 L2004.3 2240.1 L2002 2238.3 L2004.9 2228.5 L2007.1 2218 Z" fill="#fff"/>
<path d="M2007.1 2249.3 L2012.2 2250.5 L2005.4 2264.4 L1996.4 2278.3 L1988.4 2292.2 L1984.5 2293.4 L1985 2285.3 L1994.1 2272.5 L2002 2258.6 Z" fill="#fff"/>
<circle cx="1940.2" cy="2222.7" r="2.4" fill="#fff"/>
<circle cx="1936.8" cy="2300.3" r="2.4" fill="#fff"/>
<circle cx="1968" cy="2328.2" r="2.4" fill="#fff"/>
<text x="1894.7" y="2163.7" font-size="22.6">GFAP−203 (ONT)</text>
<text x="2056.5" y="2187.6" font-size="22">Ratio</text>
<rect x="2067.1" y="2202.4" width="9.8" height="145.9" fill="url(#gS)"/>
<line x1="2067.1" y1="2221.5" x2="2076.9" y2="2221.5" stroke="#fff" stroke-width="1"/>
<text x="2081.4" y="2228.7" font-size="20">0.15</text>
<line x1="2067.1" y1="2263.6" x2="2076.9" y2="2263.6" stroke="#fff" stroke-width="1"/>
<text x="2081.4" y="2270.8" font-size="20">0.10</text>
<line x1="2067.1" y1="2305.8" x2="2076.9" y2="2305.8" stroke="#fff" stroke-width="1"/>
<text x="2081.4" y="2313" font-size="20">0.05</text>
<line x1="2067.1" y1="2347" x2="2076.9" y2="2347" stroke="#fff" stroke-width="1"/>
<text x="2081.4" y="2354.2" font-size="20">0.00</text>
<path d="M1230.8 2427.9 L1245.8 2432.4 L1260.8 2435.4 L1275.7 2439.9 L1287.7 2444.4 L1293.7 2448.9 L1295.2 2469.8 L1296.7 2493.8 L1299.7 2499.8 L1299.7 2517.8 L1290.7 2520.8 L1286.2 2547.7 L1287.7 2559.7 L1283.2 2571.7 L1281.7 2589.7 L1278.7 2607.6 L1277.2 2631.6 L1275.7 2633.1 L1138 2633.1 L1139.5 2631.6 L1144 2607.6 L1145.5 2583.7 L1150 2577.7 L1150 2562.7 L1154.5 2571.7 L1165 2577.7 L1173.9 2574.7 L1172.4 2547.7 L1172.4 2517.8 L1178.4 2511.8 L1184.4 2508.8 L1185.9 2499.8 L1191.9 2475.8 L1200.9 2469.8 L1203.9 2459.4 L1209.9 2460.9 L1215.9 2463.8 L1218.8 2454.9 L1224.8 2451.9 L1223.3 2439.9 L1224.8 2432.4 Z" fill="url(#bE1)"/>
<path d="M1235 2530.5 L1291.6 2520.2 L1283.5 2581.8 L1251.2 2575.6 Z" fill="url(#bE1l)"/>
<path d="M1154.2 2581.8 L1235 2581.8 L1235 2633.1 L1146.1 2633.1 Z" fill="url(#bE1l)" opacity="0.5"/>
<text x="1148.5" y="2415.4" font-size="22.6">GFAP−Event1 (SR)</text>
<text x="1311.7" y="2451.3" font-size="22.5">LogExpr</text>
<rect x="1314.7" y="2468.4" width="9.9" height="146.8" fill="url(#gP)"/>
<line x1="1314.7" y1="2493.8" x2="1324.6" y2="2493.8" stroke="#fff" stroke-width="1"/>
<text x="1332.7" y="2501" font-size="20">4</text>
<line x1="1314.7" y1="2523.8" x2="1324.6" y2="2523.8" stroke="#fff" stroke-width="1"/>
<text x="1332.7" y="2531" font-size="20">3</text>
<line x1="1314.7" y1="2553.8" x2="1324.6" y2="2553.8" stroke="#fff" stroke-width="1"/>
<text x="1332.7" y="2561" font-size="20">2</text>
<line x1="1314.7" y1="2584.6" x2="1324.6" y2="2584.6" stroke="#fff" stroke-width="1"/>
<text x="1332.7" y="2591.8" font-size="20">1</text>
<text x="1332.7" y="2621.5" font-size="20">0</text>
<path d="M1478 2427.9 L1493 2432.4 L1507.9 2435.4 L1522.9 2439.9 L1534.9 2444.4 L1540.9 2448.9 L1542.4 2469.8 L1543.9 2493.8 L1546.9 2499.8 L1546.9 2517.8 L1537.9 2520.8 L1533.4 2547.7 L1534.9 2559.7 L1530.4 2571.7 L1528.9 2589.7 L1525.9 2607.6 L1524.4 2631.6 L1522.9 2633.1 L1385.1 2633.1 L1386.6 2631.6 L1391.1 2607.6 L1392.6 2583.7 L1397.1 2577.7 L1397.1 2562.7 L1401.6 2571.7 L1412.1 2577.7 L1421.1 2574.7 L1419.6 2547.7 L1419.6 2517.8 L1425.5 2511.8 L1431.5 2508.8 L1433 2499.8 L1439 2475.8 L1448 2469.8 L1451 2459.4 L1457 2460.9 L1463 2463.8 L1466 2454.9 L1472 2451.9 L1470.5 2439.9 L1472 2432.4 Z" fill="url(#bE2)"/>
<text x="1395" y="2415.4" font-size="22.6">GFAP−Event2 (SR)</text>
<text x="1558" y="2451.3" font-size="22.5">LogExpr</text>
<rect x="1561" y="2468.4" width="9.9" height="146.8" fill="url(#gP)"/>
<line x1="1561" y1="2514.8" x2="1570.9" y2="2514.8" stroke="#fff" stroke-width="1"/>
<text x="1579" y="2522" font-size="20">2</text>
<line x1="1561" y1="2564.2" x2="1570.9" y2="2564.2" stroke="#fff" stroke-width="1"/>
<text x="1579" y="2571.4" font-size="20">1</text>
<text x="1579" y="2621.5" font-size="20">0</text>
<path d="M1723.9 2427.9 L1738.6 2432.4 L1753.4 2435.4 L1768.1 2439.9 L1779.9 2444.4 L1785.8 2448.9 L1787.3 2469.8 L1788.8 2493.8 L1791.7 2499.8 L1791.7 2517.8 L1782.9 2520.8 L1778.4 2547.7 L1779.9 2559.7 L1775.5 2571.7 L1774 2589.7 L1771.1 2607.6 L1769.6 2631.6 L1768.1 2633.1 L1632.5 2633.1 L1634 2631.6 L1638.4 2607.6 L1639.9 2583.7 L1644.3 2577.7 L1644.3 2562.7 L1648.7 2571.7 L1659 2577.7 L1667.9 2574.7 L1666.4 2547.7 L1666.4 2517.8 L1672.3 2511.8 L1678.2 2508.8 L1679.7 2499.8 L1685.6 2475.8 L1694.4 2469.8 L1697.4 2459.4 L1703.3 2460.9 L1709.2 2463.8 L1712.1 2454.9 L1718 2451.9 L1716.5 2439.9 L1718 2432.4 Z" fill="url(#bR1)"/>
<path d="M1720.1 2530.5 L1775.8 2520.2 L1779 2561.3 L1767.8 2633.1 L1720.1 2633.1 L1712.1 2571.5 Z" fill="url(#bR1y)"/>
<path d="M1648.4 2588 L1696.2 2581.8 L1704.1 2633.1 L1648.4 2633.1 Z" fill="url(#bR1y)" opacity="0.5"/>
<text x="1641.2" y="2415.9" font-size="22.6">GFAP−Event1 (SR)</text>
<text x="1815.1" y="2450.2" font-size="22">Ratio</text>
<rect x="1818.3" y="2469.9" width="9.9" height="145.8" fill="url(#gS)"/>
<text x="1835.4" y="2474.6" font-size="20">1.0</text>
<line x1="1818.3" y1="2508" x2="1828.2" y2="2508" stroke="#fff" stroke-width="1"/>
<text x="1835.4" y="2515.2" font-size="20">0.9</text>
<line x1="1818.3" y1="2548.6" x2="1828.2" y2="2548.6" stroke="#fff" stroke-width="1"/>
<text x="1835.4" y="2555.8" font-size="20">0.8</text>
<line x1="1818.3" y1="2588.6" x2="1828.2" y2="2588.6" stroke="#fff" stroke-width="1"/>
<text x="1835.4" y="2595.8" font-size="20">0.7</text>
<path d="M1970.5 2427.9 L1985.3 2432.4 L2000 2435.4 L2014.8 2439.9 L2026.6 2444.4 L2032.5 2448.9 L2034 2469.8 L2035.5 2493.8 L2038.4 2499.8 L2038.4 2517.8 L2029.6 2520.8 L2025.1 2547.7 L2026.6 2559.7 L2022.2 2571.7 L2020.7 2589.7 L2017.8 2607.6 L2016.3 2631.6 L2014.8 2633.1 L1879.1 2633.1 L1880.6 2631.6 L1885 2607.6 L1886.5 2583.7 L1890.9 2577.7 L1890.9 2562.7 L1895.3 2571.7 L1905.6 2577.7 L1914.5 2574.7 L1913 2547.7 L1913 2517.8 L1918.9 2511.8 L1924.8 2508.8 L1926.3 2499.8 L1932.2 2475.8 L1941 2469.8 L1944 2459.4 L1949.9 2460.9 L1955.8 2463.8 L1958.8 2454.9 L1964.7 2451.9 L1963.2 2439.9 L1964.7 2432.4 Z" fill="url(#bR2)"/>
<path d="M1911 2514.1 L1958.8 2479.2 L1974.7 2489.5 L1966.7 2551 L1926.9 2571.5 L1911 2561.3 Z" fill="url(#bR2b)"/>
<path d="M1974.7 2438.2 L2022.5 2448.4 L2014.5 2489.5 L1982.6 2479.2 Z" fill="url(#bR2b)"/>
<path d="M1879.1 2561.3 L1911 2555.1 L1911 2612.6 L1882.3 2622.8 Z" fill="url(#bR2b)" opacity="0.6"/>
<text x="1886.9" y="2415.9" font-size="22.6">GFAP−Event2 (SR)</text>
<text x="2061.2" y="2450.2" font-size="22">Ratio</text>
<rect x="2064.9" y="2469.9" width="9.9" height="145.8" fill="url(#gS)"/>
<line x1="2064.9" y1="2492.4" x2="2074.8" y2="2492.4" stroke="#fff" stroke-width="1"/>
<text x="2082.1" y="2499.6" font-size="20">0.3</text>
<line x1="2064.9" y1="2533" x2="2074.8" y2="2533" stroke="#fff" stroke-width="1"/>
<text x="2082.1" y="2540.2" font-size="20">0.2</text>
<line x1="2064.9" y1="2573.6" x2="2074.8" y2="2573.6" stroke="#fff" stroke-width="1"/>
<text x="2082.1" y="2580.8" font-size="20">0.1</text>
<line x1="2064.9" y1="2614.2" x2="2074.8" y2="2614.2" stroke="#fff" stroke-width="1"/>
<text x="2082.1" y="2621.4" font-size="20">0.0</text></svg></body></html>
